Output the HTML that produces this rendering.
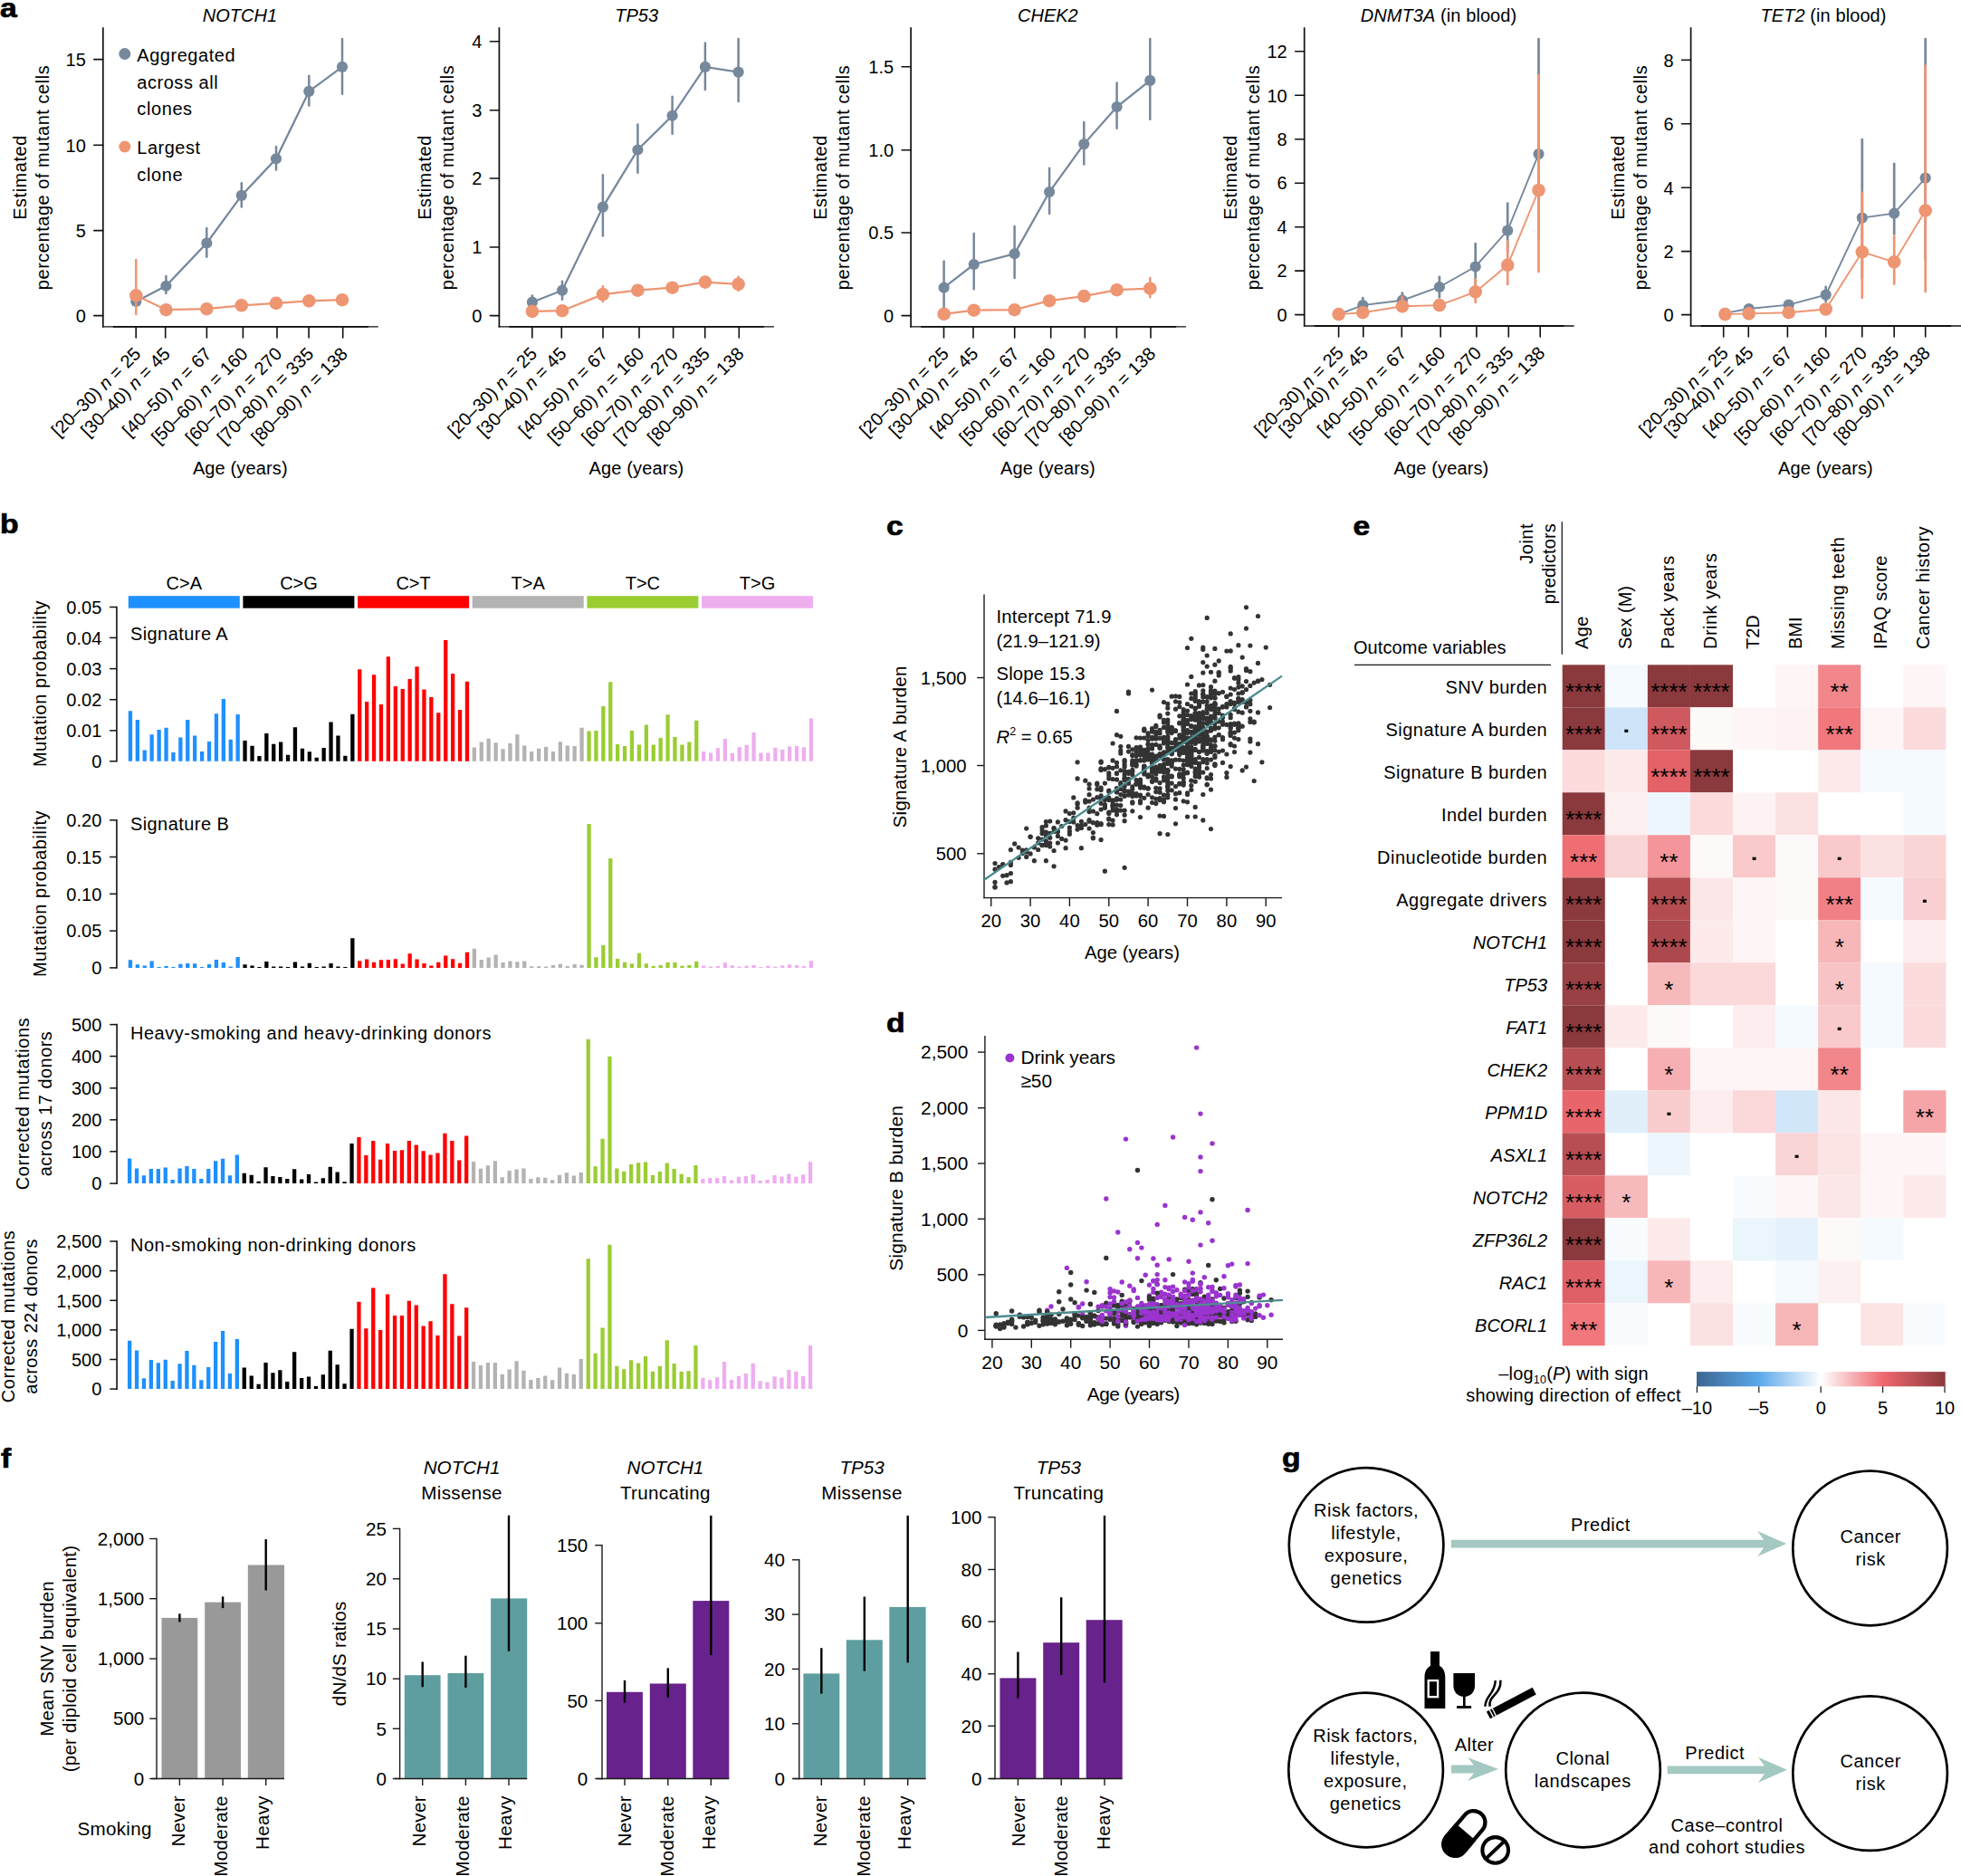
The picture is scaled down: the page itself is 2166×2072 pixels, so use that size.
<!DOCTYPE html>
<html><head><meta charset="utf-8"><title>Figure</title><style>html,body{margin:0;padding:0;background:#fff}svg{display:block}.p{fill:#9b34cf}</style></head><body>
<svg width="2166" height="2072" viewBox="0 0 2166 2072" font-family="'Liberation Sans', sans-serif" font-size="20" fill="#000">
<text transform="translate(0.0 18.5) scale(1.16 1)" font-size="29" font-weight="bold" stroke="#000" stroke-width="0.7">a</text>
<text x="264.9" y="24.2" text-anchor="middle" ><tspan font-style="italic">NOTCH1</tspan></text>
<line x1="113.8" y1="30.3" x2="113.8" y2="361.6" stroke="#111" stroke-width="1.7" />
<line x1="113.0" y1="360.9" x2="417.8" y2="360.9" stroke="#111" stroke-width="1.3" />
<line x1="124.8" y1="360.9" x2="406.8" y2="360.9" stroke="#111" stroke-width="1.9" />
<line x1="103.8" y1="65.6" x2="113.8" y2="65.6" stroke="#111" stroke-width="1.6" stroke-linecap="round"/>
<text x="94.8" y="72.8" text-anchor="end" >15</text>
<line x1="103.8" y1="160.3" x2="113.8" y2="160.3" stroke="#111" stroke-width="1.6" stroke-linecap="round"/>
<text x="94.8" y="167.5" text-anchor="end" >10</text>
<line x1="103.8" y1="254.6" x2="113.8" y2="254.6" stroke="#111" stroke-width="1.6" stroke-linecap="round"/>
<text x="94.8" y="261.8" text-anchor="end" >5</text>
<line x1="103.8" y1="348.6" x2="113.8" y2="348.6" stroke="#111" stroke-width="1.6" stroke-linecap="round"/>
<text x="94.8" y="355.8" text-anchor="end" >0</text>
<line x1="150.2" y1="361.4" x2="150.2" y2="372.9" stroke="#111" stroke-width="1.6" stroke-linecap="round"/>
<text x="156.7" y="392.0" text-anchor="end" transform="rotate(-45 156.7 392.0)" >[20–30) <tspan font-style="italic">n</tspan> = 25</text>
<line x1="182.7" y1="361.4" x2="182.7" y2="372.9" stroke="#111" stroke-width="1.6" stroke-linecap="round"/>
<text x="189.2" y="392.0" text-anchor="end" transform="rotate(-45 189.2 392.0)" >[30–40) <tspan font-style="italic">n</tspan> = 45</text>
<line x1="228.4" y1="361.4" x2="228.4" y2="372.9" stroke="#111" stroke-width="1.6" stroke-linecap="round"/>
<text x="234.9" y="392.0" text-anchor="end" transform="rotate(-45 234.9 392.0)" >[40–50) <tspan font-style="italic">n</tspan> = 67</text>
<line x1="268.4" y1="361.4" x2="268.4" y2="372.9" stroke="#111" stroke-width="1.6" stroke-linecap="round"/>
<text x="274.9" y="392.0" text-anchor="end" transform="rotate(-45 274.9 392.0)" >[50–60) <tspan font-style="italic">n</tspan> = 160</text>
<line x1="306.0" y1="361.4" x2="306.0" y2="372.9" stroke="#111" stroke-width="1.6" stroke-linecap="round"/>
<text x="312.5" y="392.0" text-anchor="end" transform="rotate(-45 312.5 392.0)" >[60–70) <tspan font-style="italic">n</tspan> = 270</text>
<line x1="341.1" y1="361.4" x2="341.1" y2="372.9" stroke="#111" stroke-width="1.6" stroke-linecap="round"/>
<text x="347.6" y="392.0" text-anchor="end" transform="rotate(-45 347.6 392.0)" >[70–80) <tspan font-style="italic">n</tspan> = 335</text>
<line x1="378.7" y1="361.4" x2="378.7" y2="372.9" stroke="#111" stroke-width="1.6" stroke-linecap="round"/>
<text x="385.2" y="392.0" text-anchor="end" transform="rotate(-45 385.2 392.0)" >[80–90) <tspan font-style="italic">n</tspan> = 138</text>
<text x="265.3" y="523.5" text-anchor="middle"  letter-spacing="0.13">Age (years)</text>
<text x="29.4" y="196.0" text-anchor="middle" transform="rotate(-90 29.4 196.0)"  letter-spacing="0.53">Estimated</text>
<text x="54.3" y="196.0" text-anchor="middle" transform="rotate(-90 54.3 196.0)"  letter-spacing="0.53">percentage of mutant cells</text>
<line x1="183.4" y1="305.0" x2="183.4" y2="324.0" stroke="#76889c" stroke-width="2.5" stroke-linecap="round"/>
<line x1="228.3" y1="251.9" x2="228.3" y2="283.7" stroke="#76889c" stroke-width="2.5" stroke-linecap="round"/>
<line x1="266.8" y1="202.2" x2="266.8" y2="228.6" stroke="#76889c" stroke-width="2.5" stroke-linecap="round"/>
<line x1="305.0" y1="162.0" x2="305.0" y2="187.5" stroke="#76889c" stroke-width="2.5" stroke-linecap="round"/>
<line x1="341.3" y1="83.7" x2="341.3" y2="116.5" stroke="#76889c" stroke-width="2.5" stroke-linecap="round"/>
<line x1="378.0" y1="43.1" x2="378.0" y2="103.8" stroke="#76889c" stroke-width="2.5" stroke-linecap="round"/>
<polyline fill="none" stroke="#76889c" stroke-width="2.3" points="150.3,332.9 183.4,315.8 228.3,268.5 266.8,215.9 305.0,175.3 341.3,100.9 378.0,73.9"/>
<circle cx="150.3" cy="332.9" r="6.1" fill="#76889c"/>
<circle cx="183.4" cy="315.8" r="6.1" fill="#76889c"/>
<circle cx="228.3" cy="268.5" r="6.1" fill="#76889c"/>
<circle cx="266.8" cy="215.9" r="6.1" fill="#76889c"/>
<circle cx="305.0" cy="175.3" r="6.1" fill="#76889c"/>
<circle cx="341.3" cy="100.9" r="6.1" fill="#76889c"/>
<circle cx="378.0" cy="73.9" r="6.1" fill="#76889c"/>
<line x1="150.3" y1="286.9" x2="150.3" y2="347.1" stroke="#ee9572" stroke-width="2.5" stroke-linecap="round"/>
<polyline fill="none" stroke="#ee9572" stroke-width="2.3" points="150.3,326.3 183.4,342.2 228.3,341.2 266.8,337.3 305.0,334.9 341.3,332.4 378.0,331.2"/>
<circle cx="150.3" cy="326.3" r="7.3" fill="#ee9572"/>
<circle cx="183.4" cy="342.2" r="7.3" fill="#ee9572"/>
<circle cx="228.3" cy="341.2" r="7.3" fill="#ee9572"/>
<circle cx="266.8" cy="337.3" r="7.3" fill="#ee9572"/>
<circle cx="305.0" cy="334.9" r="7.3" fill="#ee9572"/>
<circle cx="341.3" cy="332.4" r="7.3" fill="#ee9572"/>
<circle cx="378.0" cy="331.2" r="7.3" fill="#ee9572"/>
<text x="703.2" y="24.2" text-anchor="middle" ><tspan font-style="italic">TP53</tspan></text>
<line x1="551.4" y1="30.3" x2="551.4" y2="361.6" stroke="#111" stroke-width="1.7" />
<line x1="550.5" y1="360.9" x2="854.9" y2="360.9" stroke="#111" stroke-width="1.3" />
<line x1="562.4" y1="360.9" x2="843.9" y2="360.9" stroke="#111" stroke-width="1.9" />
<line x1="541.4" y1="45.8" x2="551.4" y2="45.8" stroke="#111" stroke-width="1.6" stroke-linecap="round"/>
<text x="532.4" y="53.0" text-anchor="end" >4</text>
<line x1="541.4" y1="121.7" x2="551.4" y2="121.7" stroke="#111" stroke-width="1.6" stroke-linecap="round"/>
<text x="532.4" y="128.9" text-anchor="end" >3</text>
<line x1="541.4" y1="197.0" x2="551.4" y2="197.0" stroke="#111" stroke-width="1.6" stroke-linecap="round"/>
<text x="532.4" y="204.2" text-anchor="end" >2</text>
<line x1="541.4" y1="273.0" x2="551.4" y2="273.0" stroke="#111" stroke-width="1.6" stroke-linecap="round"/>
<text x="532.4" y="280.2" text-anchor="end" >1</text>
<line x1="541.4" y1="348.6" x2="551.4" y2="348.6" stroke="#111" stroke-width="1.6" stroke-linecap="round"/>
<text x="532.4" y="355.8" text-anchor="end" >0</text>
<line x1="587.8" y1="361.4" x2="587.8" y2="372.9" stroke="#111" stroke-width="1.6" stroke-linecap="round"/>
<text x="594.3" y="392.0" text-anchor="end" transform="rotate(-45 594.3 392.0)" >[20–30) <tspan font-style="italic">n</tspan> = 25</text>
<line x1="620.3" y1="361.4" x2="620.3" y2="372.9" stroke="#111" stroke-width="1.6" stroke-linecap="round"/>
<text x="626.8" y="392.0" text-anchor="end" transform="rotate(-45 626.8 392.0)" >[30–40) <tspan font-style="italic">n</tspan> = 45</text>
<line x1="666.0" y1="361.4" x2="666.0" y2="372.9" stroke="#111" stroke-width="1.6" stroke-linecap="round"/>
<text x="672.5" y="392.0" text-anchor="end" transform="rotate(-45 672.5 392.0)" >[40–50) <tspan font-style="italic">n</tspan> = 67</text>
<line x1="706.0" y1="361.4" x2="706.0" y2="372.9" stroke="#111" stroke-width="1.6" stroke-linecap="round"/>
<text x="712.5" y="392.0" text-anchor="end" transform="rotate(-45 712.5 392.0)" >[50–60) <tspan font-style="italic">n</tspan> = 160</text>
<line x1="743.6" y1="361.4" x2="743.6" y2="372.9" stroke="#111" stroke-width="1.6" stroke-linecap="round"/>
<text x="750.1" y="392.0" text-anchor="end" transform="rotate(-45 750.1 392.0)" >[60–70) <tspan font-style="italic">n</tspan> = 270</text>
<line x1="778.7" y1="361.4" x2="778.7" y2="372.9" stroke="#111" stroke-width="1.6" stroke-linecap="round"/>
<text x="785.2" y="392.0" text-anchor="end" transform="rotate(-45 785.2 392.0)" >[70–80) <tspan font-style="italic">n</tspan> = 335</text>
<line x1="816.3" y1="361.4" x2="816.3" y2="372.9" stroke="#111" stroke-width="1.6" stroke-linecap="round"/>
<text x="822.8" y="392.0" text-anchor="end" transform="rotate(-45 822.8 392.0)" >[80–90) <tspan font-style="italic">n</tspan> = 138</text>
<text x="703.0" y="523.5" text-anchor="middle"  letter-spacing="0.13">Age (years)</text>
<text x="476.2" y="196.0" text-anchor="middle" transform="rotate(-90 476.2 196.0)"  letter-spacing="0.53">Estimated</text>
<text x="501.2" y="196.0" text-anchor="middle" transform="rotate(-90 501.2 196.0)"  letter-spacing="0.53">percentage of mutant cells</text>
<line x1="587.9" y1="326.6" x2="587.9" y2="339.0" stroke="#76889c" stroke-width="2.5" stroke-linecap="round"/>
<line x1="621.0" y1="310.7" x2="621.0" y2="330.7" stroke="#76889c" stroke-width="2.5" stroke-linecap="round"/>
<line x1="665.9" y1="193.2" x2="665.9" y2="260.4" stroke="#76889c" stroke-width="2.5" stroke-linecap="round"/>
<line x1="704.4" y1="137.4" x2="704.4" y2="190.7" stroke="#76889c" stroke-width="2.5" stroke-linecap="round"/>
<line x1="742.6" y1="106.8" x2="742.6" y2="147.8" stroke="#76889c" stroke-width="2.5" stroke-linecap="round"/>
<line x1="778.9" y1="47.5" x2="778.9" y2="98.9" stroke="#76889c" stroke-width="2.5" stroke-linecap="round"/>
<line x1="815.6" y1="43.1" x2="815.6" y2="112.1" stroke="#76889c" stroke-width="2.5" stroke-linecap="round"/>
<polyline fill="none" stroke="#76889c" stroke-width="2.3" points="587.9,333.7 621.0,320.7 665.9,228.6 704.4,165.5 742.6,127.8 778.9,73.9 815.6,79.6"/>
<circle cx="587.9" cy="333.7" r="6.1" fill="#76889c"/>
<circle cx="621.0" cy="320.7" r="6.1" fill="#76889c"/>
<circle cx="665.9" cy="228.6" r="6.1" fill="#76889c"/>
<circle cx="704.4" cy="165.5" r="6.1" fill="#76889c"/>
<circle cx="742.6" cy="127.8" r="6.1" fill="#76889c"/>
<circle cx="778.9" cy="73.9" r="6.1" fill="#76889c"/>
<circle cx="815.6" cy="79.6" r="6.1" fill="#76889c"/>
<line x1="665.9" y1="316.3" x2="665.9" y2="333.1" stroke="#ee9572" stroke-width="2.5" stroke-linecap="round"/>
<line x1="815.6" y1="305.8" x2="815.6" y2="320.9" stroke="#ee9572" stroke-width="2.5" stroke-linecap="round"/>
<polyline fill="none" stroke="#ee9572" stroke-width="2.3" points="587.9,343.9 621.0,343.2 665.9,325.1 704.4,320.7 742.6,317.7 778.9,311.6 815.6,313.8"/>
<circle cx="587.9" cy="343.9" r="7.3" fill="#ee9572"/>
<circle cx="621.0" cy="343.2" r="7.3" fill="#ee9572"/>
<circle cx="665.9" cy="325.1" r="7.3" fill="#ee9572"/>
<circle cx="704.4" cy="320.7" r="7.3" fill="#ee9572"/>
<circle cx="742.6" cy="317.7" r="7.3" fill="#ee9572"/>
<circle cx="778.9" cy="311.6" r="7.3" fill="#ee9572"/>
<circle cx="815.6" cy="313.8" r="7.3" fill="#ee9572"/>
<text x="1157.4" y="24.2" text-anchor="middle" ><tspan font-style="italic">CHEK2</tspan></text>
<line x1="1006.1" y1="30.3" x2="1006.1" y2="361.6" stroke="#111" stroke-width="1.7" />
<line x1="1005.2" y1="360.9" x2="1310.1" y2="360.9" stroke="#111" stroke-width="1.3" />
<line x1="1017.1" y1="360.9" x2="1299.1" y2="360.9" stroke="#111" stroke-width="1.9" />
<line x1="996.1" y1="73.7" x2="1006.1" y2="73.7" stroke="#111" stroke-width="1.6" stroke-linecap="round"/>
<text x="987.1" y="80.9" text-anchor="end" >1.5</text>
<line x1="996.1" y1="165.7" x2="1006.1" y2="165.7" stroke="#111" stroke-width="1.6" stroke-linecap="round"/>
<text x="987.1" y="172.9" text-anchor="end" >1.0</text>
<line x1="996.1" y1="257.0" x2="1006.1" y2="257.0" stroke="#111" stroke-width="1.6" stroke-linecap="round"/>
<text x="987.1" y="264.2" text-anchor="end" >0.5</text>
<line x1="996.1" y1="348.6" x2="1006.1" y2="348.6" stroke="#111" stroke-width="1.6" stroke-linecap="round"/>
<text x="987.1" y="355.8" text-anchor="end" >0</text>
<line x1="1042.5" y1="361.4" x2="1042.5" y2="372.9" stroke="#111" stroke-width="1.6" stroke-linecap="round"/>
<text x="1049.0" y="392.0" text-anchor="end" transform="rotate(-45 1049.0 392.0)" >[20–30) <tspan font-style="italic">n</tspan> = 25</text>
<line x1="1075.0" y1="361.4" x2="1075.0" y2="372.9" stroke="#111" stroke-width="1.6" stroke-linecap="round"/>
<text x="1081.5" y="392.0" text-anchor="end" transform="rotate(-45 1081.5 392.0)" >[30–40) <tspan font-style="italic">n</tspan> = 45</text>
<line x1="1120.7" y1="361.4" x2="1120.7" y2="372.9" stroke="#111" stroke-width="1.6" stroke-linecap="round"/>
<text x="1127.2" y="392.0" text-anchor="end" transform="rotate(-45 1127.2 392.0)" >[40–50) <tspan font-style="italic">n</tspan> = 67</text>
<line x1="1160.7" y1="361.4" x2="1160.7" y2="372.9" stroke="#111" stroke-width="1.6" stroke-linecap="round"/>
<text x="1167.2" y="392.0" text-anchor="end" transform="rotate(-45 1167.2 392.0)" >[50–60) <tspan font-style="italic">n</tspan> = 160</text>
<line x1="1198.3" y1="361.4" x2="1198.3" y2="372.9" stroke="#111" stroke-width="1.6" stroke-linecap="round"/>
<text x="1204.8" y="392.0" text-anchor="end" transform="rotate(-45 1204.8 392.0)" >[60–70) <tspan font-style="italic">n</tspan> = 270</text>
<line x1="1233.4" y1="361.4" x2="1233.4" y2="372.9" stroke="#111" stroke-width="1.6" stroke-linecap="round"/>
<text x="1239.9" y="392.0" text-anchor="end" transform="rotate(-45 1239.9 392.0)" >[70–80) <tspan font-style="italic">n</tspan> = 335</text>
<line x1="1271.0" y1="361.4" x2="1271.0" y2="372.9" stroke="#111" stroke-width="1.6" stroke-linecap="round"/>
<text x="1277.5" y="392.0" text-anchor="end" transform="rotate(-45 1277.5 392.0)" >[80–90) <tspan font-style="italic">n</tspan> = 138</text>
<text x="1157.5" y="523.5" text-anchor="middle"  letter-spacing="0.13">Age (years)</text>
<text x="913.0" y="196.0" text-anchor="middle" transform="rotate(-90 913.0 196.0)"  letter-spacing="0.53">Estimated</text>
<text x="938.3" y="196.0" text-anchor="middle" transform="rotate(-90 938.3 196.0)"  letter-spacing="0.53">percentage of mutant cells</text>
<line x1="1042.6" y1="288.6" x2="1042.6" y2="341.7" stroke="#76889c" stroke-width="2.5" stroke-linecap="round"/>
<line x1="1075.7" y1="258.0" x2="1075.7" y2="319.2" stroke="#76889c" stroke-width="2.5" stroke-linecap="round"/>
<line x1="1120.6" y1="250.0" x2="1120.6" y2="307.0" stroke="#76889c" stroke-width="2.5" stroke-linecap="round"/>
<line x1="1159.1" y1="185.8" x2="1159.1" y2="236.0" stroke="#76889c" stroke-width="2.5" stroke-linecap="round"/>
<line x1="1197.3" y1="135.1" x2="1197.3" y2="181.4" stroke="#76889c" stroke-width="2.5" stroke-linecap="round"/>
<line x1="1233.6" y1="91.6" x2="1233.6" y2="141.7" stroke="#76889c" stroke-width="2.5" stroke-linecap="round"/>
<line x1="1270.3" y1="43.1" x2="1270.3" y2="131.7" stroke="#76889c" stroke-width="2.5" stroke-linecap="round"/>
<polyline fill="none" stroke="#76889c" stroke-width="2.3" points="1042.6,317.7 1075.7,292.0 1120.6,280.3 1159.1,212.0 1197.3,159.1 1233.6,118.0 1270.3,88.9"/>
<circle cx="1042.6" cy="317.7" r="6.1" fill="#76889c"/>
<circle cx="1075.7" cy="292.0" r="6.1" fill="#76889c"/>
<circle cx="1120.6" cy="280.3" r="6.1" fill="#76889c"/>
<circle cx="1159.1" cy="212.0" r="6.1" fill="#76889c"/>
<circle cx="1197.3" cy="159.1" r="6.1" fill="#76889c"/>
<circle cx="1233.6" cy="118.0" r="6.1" fill="#76889c"/>
<circle cx="1270.3" cy="88.9" r="6.1" fill="#76889c"/>
<line x1="1270.3" y1="307.0" x2="1270.3" y2="328.3" stroke="#ee9572" stroke-width="2.5" stroke-linecap="round"/>
<polyline fill="none" stroke="#ee9572" stroke-width="2.3" points="1042.6,346.9 1075.7,342.7 1120.6,342.2 1159.1,332.2 1197.3,327.1 1233.6,320.2 1270.3,318.7"/>
<circle cx="1042.6" cy="346.9" r="7.3" fill="#ee9572"/>
<circle cx="1075.7" cy="342.7" r="7.3" fill="#ee9572"/>
<circle cx="1120.6" cy="342.2" r="7.3" fill="#ee9572"/>
<circle cx="1159.1" cy="332.2" r="7.3" fill="#ee9572"/>
<circle cx="1197.3" cy="327.1" r="7.3" fill="#ee9572"/>
<circle cx="1233.6" cy="320.2" r="7.3" fill="#ee9572"/>
<circle cx="1270.3" cy="318.7" r="7.3" fill="#ee9572"/>
<text x="1589.0" y="24.2" text-anchor="middle"  letter-spacing="0.08"><tspan font-style="italic">DNMT3A</tspan> (in blood)</text>
<line x1="1440.7" y1="30.3" x2="1440.7" y2="360.7" stroke="#111" stroke-width="1.7" />
<line x1="1439.9" y1="360.0" x2="1738.6" y2="360.0" stroke="#111" stroke-width="1.3" />
<line x1="1451.7" y1="360.0" x2="1727.6" y2="360.0" stroke="#111" stroke-width="1.9" />
<line x1="1430.7" y1="56.8" x2="1440.7" y2="56.8" stroke="#111" stroke-width="1.6" stroke-linecap="round"/>
<text x="1421.7" y="64.0" text-anchor="end" >12</text>
<line x1="1430.7" y1="105.3" x2="1440.7" y2="105.3" stroke="#111" stroke-width="1.6" stroke-linecap="round"/>
<text x="1421.7" y="112.5" text-anchor="end" >10</text>
<line x1="1430.7" y1="153.7" x2="1440.7" y2="153.7" stroke="#111" stroke-width="1.6" stroke-linecap="round"/>
<text x="1421.7" y="160.9" text-anchor="end" >8</text>
<line x1="1430.7" y1="202.2" x2="1440.7" y2="202.2" stroke="#111" stroke-width="1.6" stroke-linecap="round"/>
<text x="1421.7" y="209.4" text-anchor="end" >6</text>
<line x1="1430.7" y1="250.7" x2="1440.7" y2="250.7" stroke="#111" stroke-width="1.6" stroke-linecap="round"/>
<text x="1421.7" y="257.9" text-anchor="end" >4</text>
<line x1="1430.7" y1="299.1" x2="1440.7" y2="299.1" stroke="#111" stroke-width="1.6" stroke-linecap="round"/>
<text x="1421.7" y="306.3" text-anchor="end" >2</text>
<line x1="1430.7" y1="347.6" x2="1440.7" y2="347.6" stroke="#111" stroke-width="1.6" stroke-linecap="round"/>
<text x="1421.7" y="354.8" text-anchor="end" >0</text>
<line x1="1478.6" y1="360.5" x2="1478.6" y2="372.0" stroke="#111" stroke-width="1.6" stroke-linecap="round"/>
<text x="1485.1" y="391.1" text-anchor="end" transform="rotate(-45 1485.1 391.1)" >[20–30) <tspan font-style="italic">n</tspan> = 25</text>
<line x1="1505.8" y1="360.5" x2="1505.8" y2="372.0" stroke="#111" stroke-width="1.6" stroke-linecap="round"/>
<text x="1512.3" y="391.1" text-anchor="end" transform="rotate(-45 1512.3 391.1)" >[30–40) <tspan font-style="italic">n</tspan> = 45</text>
<line x1="1548.3" y1="360.5" x2="1548.3" y2="372.0" stroke="#111" stroke-width="1.6" stroke-linecap="round"/>
<text x="1554.8" y="391.1" text-anchor="end" transform="rotate(-45 1554.8 391.1)" >[40–50) <tspan font-style="italic">n</tspan> = 67</text>
<line x1="1591.2" y1="360.5" x2="1591.2" y2="372.0" stroke="#111" stroke-width="1.6" stroke-linecap="round"/>
<text x="1597.7" y="391.1" text-anchor="end" transform="rotate(-45 1597.7 391.1)" >[50–60) <tspan font-style="italic">n</tspan> = 160</text>
<line x1="1630.9" y1="360.5" x2="1630.9" y2="372.0" stroke="#111" stroke-width="1.6" stroke-linecap="round"/>
<text x="1637.4" y="391.1" text-anchor="end" transform="rotate(-45 1637.4 391.1)" >[60–70) <tspan font-style="italic">n</tspan> = 270</text>
<line x1="1666.3" y1="360.5" x2="1666.3" y2="372.0" stroke="#111" stroke-width="1.6" stroke-linecap="round"/>
<text x="1672.8" y="391.1" text-anchor="end" transform="rotate(-45 1672.8 391.1)" >[70–80) <tspan font-style="italic">n</tspan> = 335</text>
<line x1="1701.2" y1="360.5" x2="1701.2" y2="372.0" stroke="#111" stroke-width="1.6" stroke-linecap="round"/>
<text x="1707.7" y="391.1" text-anchor="end" transform="rotate(-45 1707.7 391.1)" >[80–90) <tspan font-style="italic">n</tspan> = 138</text>
<text x="1592.0" y="523.5" text-anchor="middle"  letter-spacing="0.13">Age (years)</text>
<text x="1366.0" y="196.0" text-anchor="middle" transform="rotate(-90 1366.0 196.0)"  letter-spacing="0.53">Estimated</text>
<text x="1391.0" y="196.0" text-anchor="middle" transform="rotate(-90 1391.0 196.0)"  letter-spacing="0.53">percentage of mutant cells</text>
<line x1="1505.3" y1="329.0" x2="1505.3" y2="341.7" stroke="#76889c" stroke-width="2.7" stroke-linecap="round"/>
<line x1="1548.9" y1="323.6" x2="1548.9" y2="336.8" stroke="#76889c" stroke-width="2.7" stroke-linecap="round"/>
<line x1="1589.9" y1="305.8" x2="1589.9" y2="328.3" stroke="#76889c" stroke-width="2.7" stroke-linecap="round"/>
<line x1="1629.7" y1="269.0" x2="1629.7" y2="314.8" stroke="#76889c" stroke-width="2.7" stroke-linecap="round"/>
<line x1="1665.2" y1="224.5" x2="1665.2" y2="278.0" stroke="#76889c" stroke-width="2.7" stroke-linecap="round"/>
<line x1="1699.5" y1="43.1" x2="1699.5" y2="263.4" stroke="#76889c" stroke-width="2.7" stroke-linecap="round"/>
<polyline fill="none" stroke="#76889c" stroke-width="1.9" points="1478.6,347.1 1505.3,337.1 1548.9,331.7 1589.9,317.0 1629.7,294.5 1665.2,254.6 1699.5,170.1"/>
<circle cx="1478.6" cy="347.1" r="6.1" fill="#76889c"/>
<circle cx="1505.3" cy="337.1" r="6.1" fill="#76889c"/>
<circle cx="1548.9" cy="331.7" r="6.1" fill="#76889c"/>
<circle cx="1589.9" cy="317.0" r="6.1" fill="#76889c"/>
<circle cx="1629.7" cy="294.5" r="6.1" fill="#76889c"/>
<circle cx="1665.2" cy="254.6" r="6.1" fill="#76889c"/>
<circle cx="1699.5" cy="170.1" r="6.1" fill="#76889c"/>
<line x1="1548.9" y1="327.8" x2="1548.9" y2="344.2" stroke="#ee9572" stroke-width="2.7" stroke-linecap="round"/>
<line x1="1629.7" y1="308.2" x2="1629.7" y2="333.9" stroke="#ee9572" stroke-width="2.7" stroke-linecap="round"/>
<line x1="1665.2" y1="266.6" x2="1665.2" y2="314.0" stroke="#ee9572" stroke-width="2.7" stroke-linecap="round"/>
<line x1="1699.5" y1="83.0" x2="1699.5" y2="300.1" stroke="#ee9572" stroke-width="2.7" stroke-linecap="round"/>
<polyline fill="none" stroke="#ee9572" stroke-width="1.9" points="1478.6,347.1 1505.3,345.2 1548.9,338.3 1589.9,337.1 1629.7,322.4 1665.2,292.8 1699.5,210.0"/>
<circle cx="1478.6" cy="347.1" r="7.3" fill="#ee9572"/>
<circle cx="1505.3" cy="345.2" r="7.3" fill="#ee9572"/>
<circle cx="1548.9" cy="338.3" r="7.3" fill="#ee9572"/>
<circle cx="1589.9" cy="337.1" r="7.3" fill="#ee9572"/>
<circle cx="1629.7" cy="322.4" r="7.3" fill="#ee9572"/>
<circle cx="1665.2" cy="292.8" r="7.3" fill="#ee9572"/>
<circle cx="1699.5" cy="210.0" r="7.3" fill="#ee9572"/>
<text x="2014.0" y="24.2" text-anchor="middle"  letter-spacing="0.09"><tspan font-style="italic">TET2</tspan> (in blood)</text>
<line x1="1867.6" y1="30.3" x2="1867.6" y2="360.7" stroke="#111" stroke-width="1.7" />
<line x1="1866.8" y1="360.0" x2="2166.0" y2="360.0" stroke="#111" stroke-width="1.3" />
<line x1="1878.6" y1="360.0" x2="2155.0" y2="360.0" stroke="#111" stroke-width="1.9" />
<line x1="1857.6" y1="66.3" x2="1867.6" y2="66.3" stroke="#111" stroke-width="1.6" stroke-linecap="round"/>
<text x="1848.6" y="73.5" text-anchor="end" >8</text>
<line x1="1857.6" y1="136.8" x2="1867.6" y2="136.8" stroke="#111" stroke-width="1.6" stroke-linecap="round"/>
<text x="1848.6" y="144.0" text-anchor="end" >6</text>
<line x1="1857.6" y1="207.3" x2="1867.6" y2="207.3" stroke="#111" stroke-width="1.6" stroke-linecap="round"/>
<text x="1848.6" y="214.5" text-anchor="end" >4</text>
<line x1="1857.6" y1="277.6" x2="1867.6" y2="277.6" stroke="#111" stroke-width="1.6" stroke-linecap="round"/>
<text x="1848.6" y="284.8" text-anchor="end" >2</text>
<line x1="1857.6" y1="347.6" x2="1867.6" y2="347.6" stroke="#111" stroke-width="1.6" stroke-linecap="round"/>
<text x="1848.6" y="354.8" text-anchor="end" >0</text>
<line x1="1903.7" y1="360.5" x2="1903.7" y2="372.0" stroke="#111" stroke-width="1.6" stroke-linecap="round"/>
<text x="1910.2" y="391.1" text-anchor="end" transform="rotate(-45 1910.2 391.1)" >[20–30) <tspan font-style="italic">n</tspan> = 25</text>
<line x1="1931.3" y1="360.5" x2="1931.3" y2="372.0" stroke="#111" stroke-width="1.6" stroke-linecap="round"/>
<text x="1937.8" y="391.1" text-anchor="end" transform="rotate(-45 1937.8 391.1)" >[30–40) <tspan font-style="italic">n</tspan> = 45</text>
<line x1="1974.4" y1="360.5" x2="1974.4" y2="372.0" stroke="#111" stroke-width="1.6" stroke-linecap="round"/>
<text x="1980.9" y="391.1" text-anchor="end" transform="rotate(-45 1980.9 391.1)" >[40–50) <tspan font-style="italic">n</tspan> = 67</text>
<line x1="2016.7" y1="360.5" x2="2016.7" y2="372.0" stroke="#111" stroke-width="1.6" stroke-linecap="round"/>
<text x="2023.2" y="391.1" text-anchor="end" transform="rotate(-45 2023.2 391.1)" >[50–60) <tspan font-style="italic">n</tspan> = 160</text>
<line x1="2056.8" y1="360.5" x2="2056.8" y2="372.0" stroke="#111" stroke-width="1.6" stroke-linecap="round"/>
<text x="2063.3" y="391.1" text-anchor="end" transform="rotate(-45 2063.3 391.1)" >[60–70) <tspan font-style="italic">n</tspan> = 270</text>
<line x1="2092.2" y1="360.5" x2="2092.2" y2="372.0" stroke="#111" stroke-width="1.6" stroke-linecap="round"/>
<text x="2098.7" y="391.1" text-anchor="end" transform="rotate(-45 2098.7 391.1)" >[70–80) <tspan font-style="italic">n</tspan> = 335</text>
<line x1="2126.7" y1="360.5" x2="2126.7" y2="372.0" stroke="#111" stroke-width="1.6" stroke-linecap="round"/>
<text x="2133.2" y="391.1" text-anchor="end" transform="rotate(-45 2133.2 391.1)" >[80–90) <tspan font-style="italic">n</tspan> = 138</text>
<text x="2016.5" y="523.5" text-anchor="middle"  letter-spacing="0.13">Age (years)</text>
<text x="1793.7" y="196.0" text-anchor="middle" transform="rotate(-90 1793.7 196.0)"  letter-spacing="0.53">Estimated</text>
<text x="1818.9" y="196.0" text-anchor="middle" transform="rotate(-90 1818.9 196.0)"  letter-spacing="0.53">percentage of mutant cells</text>
<line x1="2016.7" y1="316.8" x2="2016.7" y2="333.1" stroke="#76889c" stroke-width="2.7" stroke-linecap="round"/>
<line x1="2056.8" y1="154.0" x2="2056.8" y2="307.4" stroke="#76889c" stroke-width="2.7" stroke-linecap="round"/>
<line x1="2092.2" y1="180.9" x2="2092.2" y2="258.5" stroke="#76889c" stroke-width="2.7" stroke-linecap="round"/>
<line x1="2126.7" y1="43.1" x2="2126.7" y2="286.6" stroke="#76889c" stroke-width="2.7" stroke-linecap="round"/>
<polyline fill="none" stroke="#76889c" stroke-width="1.9" points="1905.4,345.9 1931.7,341.0 1975.7,336.6 2016.7,325.6 2056.8,240.6 2092.2,235.7 2126.7,196.6"/>
<circle cx="1905.4" cy="345.9" r="6.1" fill="#76889c"/>
<circle cx="1931.7" cy="341.0" r="6.1" fill="#76889c"/>
<circle cx="1975.7" cy="336.6" r="6.1" fill="#76889c"/>
<circle cx="2016.7" cy="325.6" r="6.1" fill="#76889c"/>
<circle cx="2056.8" cy="240.6" r="6.1" fill="#76889c"/>
<circle cx="2092.2" cy="235.7" r="6.1" fill="#76889c"/>
<circle cx="2126.7" cy="196.6" r="6.1" fill="#76889c"/>
<line x1="2056.8" y1="212.8" x2="2056.8" y2="329.0" stroke="#ee9572" stroke-width="2.7" stroke-linecap="round"/>
<line x1="2092.2" y1="260.5" x2="2092.2" y2="313.6" stroke="#ee9572" stroke-width="2.7" stroke-linecap="round"/>
<line x1="2126.7" y1="72.5" x2="2126.7" y2="322.1" stroke="#ee9572" stroke-width="2.7" stroke-linecap="round"/>
<polyline fill="none" stroke="#ee9572" stroke-width="1.9" points="1905.4,347.1 1931.7,346.4 1975.7,345.2 2016.7,341.5 2056.8,278.3 2092.2,289.4 2126.7,232.6"/>
<circle cx="1905.4" cy="347.1" r="7.3" fill="#ee9572"/>
<circle cx="1931.7" cy="346.4" r="7.3" fill="#ee9572"/>
<circle cx="1975.7" cy="345.2" r="7.3" fill="#ee9572"/>
<circle cx="2016.7" cy="341.5" r="7.3" fill="#ee9572"/>
<circle cx="2056.8" cy="278.3" r="7.3" fill="#ee9572"/>
<circle cx="2092.2" cy="289.4" r="7.3" fill="#ee9572"/>
<circle cx="2126.7" cy="232.6" r="7.3" fill="#ee9572"/>
<circle cx="137.8" cy="59.5" r="6.5" fill="#76889c"/>
<text x="151.3" y="68.3"  letter-spacing="0.54">Aggregated</text>
<text x="151.3" y="97.6"  letter-spacing="0.54">across all</text>
<text x="151.3" y="127.1"  letter-spacing="0.6">clones</text>
<circle cx="137.8" cy="162" r="6.5" fill="#ee9572"/>
<text x="151.3" y="170.4"  letter-spacing="0.51">Largest</text>
<text x="151.3" y="199.8"  letter-spacing="0.6">clone</text>
<text transform="translate(0.0 589.0) scale(1.16 1)" font-size="29" font-weight="bold" stroke="#000" stroke-width="0.7">b</text>
<rect x="141.8" y="658.2" width="123.0" height="13.5" fill="#1e90ff"/>
<text x="203.3" y="651.2" text-anchor="middle" >C&gt;A</text>
<rect x="268.4" y="658.2" width="123.0" height="13.5" fill="#000000"/>
<text x="330.0" y="651.2" text-anchor="middle" >C&gt;G</text>
<rect x="395.1" y="658.2" width="123.0" height="13.5" fill="#ff0000"/>
<text x="456.6" y="651.2" text-anchor="middle" >C&gt;T</text>
<rect x="521.7" y="658.2" width="123.0" height="13.5" fill="#b3b3b3"/>
<text x="583.2" y="651.2" text-anchor="middle" >T&gt;A</text>
<rect x="648.4" y="658.2" width="123.0" height="13.5" fill="#9acd32"/>
<text x="709.9" y="651.2" text-anchor="middle" >T&gt;C</text>
<rect x="775.0" y="658.2" width="123.0" height="13.5" fill="#eeaeee"/>
<text x="836.5" y="651.2" text-anchor="middle" >T&gt;G</text>
<path d="M141.8 840.8h4.3v-55.6h-4.3zM149.7 840.8h4.3v-45.9h-4.3zM157.6 840.8h4.3v-12.2h-4.3zM165.5 840.8h4.3v-29.6h-4.3zM173.5 840.8h4.3v-34.7h-4.3zM181.4 840.8h4.3v-37.0h-4.3zM189.3 840.8h4.3v-9.7h-4.3zM197.2 840.8h4.3v-26.3h-4.3zM205.1 840.8h4.3v-45.9h-4.3zM213.0 840.8h4.3v-28.3h-4.3zM221.0 840.8h4.3v-10.7h-4.3zM228.9 840.8h4.3v-21.9h-4.3zM236.8 840.8h4.3v-52.5h-4.3zM244.7 840.8h4.3v-68.8h-4.3zM252.6 840.8h4.3v-24.0h-4.3zM260.5 840.8h4.3v-51.8h-4.3z" fill="#1e90ff"/>
<path d="M268.4 840.8h4.3v-22.9h-4.3zM276.4 840.8h4.3v-17.1h-4.3zM284.3 840.8h4.3v-5.9h-4.3zM292.2 840.8h4.3v-30.9h-4.3zM300.1 840.8h4.3v-19.1h-4.3zM308.0 840.8h4.3v-21.4h-4.3zM315.9 840.8h4.3v-7.1h-4.3zM323.8 840.8h4.3v-37.5h-4.3zM331.8 840.8h4.3v-14.0h-4.3zM339.7 840.8h4.3v-10.5h-4.3zM347.6 840.8h4.3v-4.1h-4.3zM355.5 840.8h4.3v-14.8h-4.3zM363.4 840.8h4.3v-43.3h-4.3zM371.3 840.8h4.3v-28.3h-4.3zM379.2 840.8h4.3v-6.1h-4.3zM387.2 840.8h4.3v-52.0h-4.3z" fill="#000000"/>
<path d="M395.1 840.8h4.3v-101.5h-4.3zM403.0 840.8h4.3v-65.8h-4.3zM410.9 840.8h4.3v-95.6h-4.3zM418.8 840.8h4.3v-62.7h-4.3zM426.7 840.8h4.3v-115.5h-4.3zM434.7 840.8h4.3v-82.9h-4.3zM442.6 840.8h4.3v-79.8h-4.3zM450.5 840.8h4.3v-90.8h-4.3zM458.4 840.8h4.3v-104.5h-4.3zM466.3 840.8h4.3v-79.3h-4.3zM474.2 840.8h4.3v-70.9h-4.3zM482.1 840.8h4.3v-53.5h-4.3zM490.1 840.8h4.3v-133.9h-4.3zM498.0 840.8h4.3v-96.9h-4.3zM505.9 840.8h4.3v-56.9h-4.3zM513.8 840.8h4.3v-88.0h-4.3z" fill="#ff0000"/>
<path d="M521.7 840.8h4.3v-15.2h-4.3zM529.6 840.8h4.3v-21.2h-4.3zM537.5 840.8h4.3v-25.1h-4.3zM545.5 840.8h4.3v-20.6h-4.3zM553.4 840.8h4.3v-13.5h-4.3zM561.3 840.8h4.3v-19.9h-4.3zM569.2 840.8h4.3v-29.6h-4.3zM577.1 840.8h4.3v-17.3h-4.3zM585.0 840.8h4.3v-10.7h-4.3zM593.0 840.8h4.3v-14.1h-4.3zM600.9 840.8h4.3v-15.8h-4.3zM608.8 840.8h4.3v-10.9h-4.3zM616.7 840.8h4.3v-21.6h-4.3zM624.6 840.8h4.3v-17.3h-4.3zM632.5 840.8h4.3v-16.7h-4.3zM640.4 840.8h4.3v-37.1h-4.3z" fill="#b3b3b3"/>
<path d="M648.4 840.8h4.3v-33.4h-4.3zM656.3 840.8h4.3v-33.8h-4.3zM664.2 840.8h4.3v-60.8h-4.3zM672.1 840.8h4.3v-87.6h-4.3zM680.0 840.8h4.3v-18.8h-4.3zM687.9 840.8h4.3v-16.9h-4.3zM695.8 840.8h4.3v-33.8h-4.3zM703.8 840.8h4.3v-18.2h-4.3zM711.7 840.8h4.3v-40.3h-4.3zM719.6 840.8h4.3v-18.2h-4.3zM727.5 840.8h4.3v-25.7h-4.3zM735.4 840.8h4.3v-51.6h-4.3zM743.3 840.8h4.3v-26.8h-4.3zM751.3 840.8h4.3v-18.2h-4.3zM759.2 840.8h4.3v-21.2h-4.3zM767.1 840.8h4.3v-45.0h-4.3z" fill="#9acd32"/>
<path d="M775.0 840.8h4.3v-10.9h-4.3zM782.9 840.8h4.3v-9.4h-4.3zM790.8 840.8h4.3v-14.6h-4.3zM798.7 840.8h4.3v-24.8h-4.3zM806.7 840.8h4.3v-8.8h-4.3zM814.6 840.8h4.3v-15.6h-4.3zM822.5 840.8h4.3v-18.0h-4.3zM830.4 840.8h4.3v-31.7h-4.3zM838.3 840.8h4.3v-9.4h-4.3zM846.2 840.8h4.3v-9.2h-4.3zM854.2 840.8h4.3v-15.0h-4.3zM862.1 840.8h4.3v-12.9h-4.3zM870.0 840.8h4.3v-16.3h-4.3zM877.9 840.8h4.3v-16.7h-4.3zM885.8 840.8h4.3v-15.6h-4.3zM893.7 840.8h4.3v-47.3h-4.3z" fill="#eeaeee"/>
<line x1="128.9" y1="669.7" x2="128.9" y2="841.6" stroke="#111" stroke-width="1.6" />
<line x1="121.1" y1="670.5" x2="128.9" y2="670.5" stroke="#111" stroke-width="1.5" />
<text x="112.3" y="677.7" text-anchor="end" >0.05</text>
<line x1="121.1" y1="704.4" x2="128.9" y2="704.4" stroke="#111" stroke-width="1.5" />
<text x="112.3" y="711.6" text-anchor="end" >0.04</text>
<line x1="121.1" y1="738.6" x2="128.9" y2="738.6" stroke="#111" stroke-width="1.5" />
<text x="112.3" y="745.8" text-anchor="end" >0.03</text>
<line x1="121.1" y1="772.7" x2="128.9" y2="772.7" stroke="#111" stroke-width="1.5" />
<text x="112.3" y="779.9" text-anchor="end" >0.02</text>
<line x1="121.1" y1="806.9" x2="128.9" y2="806.9" stroke="#111" stroke-width="1.5" />
<text x="112.3" y="814.1" text-anchor="end" >0.01</text>
<line x1="121.1" y1="840.8" x2="128.9" y2="840.8" stroke="#111" stroke-width="1.5" />
<text x="112.3" y="848.0" text-anchor="end" >0</text>
<text x="51.1" y="755.0" text-anchor="middle" transform="rotate(-90 51.1 755.0)"  letter-spacing="0.54">Mutation probability</text>
<text x="143.9" y="706.7"  letter-spacing="0.44">Signature A</text>
<path d="M141.8 1068.9h4.3v-8.7h-4.3zM149.7 1068.9h4.3v-3.6h-4.3zM157.6 1068.9h4.3v-2.5h-4.3zM165.5 1068.9h4.3v-7.4h-4.3zM173.5 1068.9h4.3v-1.0h-4.3zM181.4 1068.9h4.3v-2.0h-4.3zM189.3 1068.9h4.3v-1.0h-4.3zM197.2 1068.9h4.3v-4.1h-4.3zM205.1 1068.9h4.3v-4.8h-4.3zM213.0 1068.9h4.3v-4.6h-4.3zM221.0 1068.9h4.3v-1.0h-4.3zM228.9 1068.9h4.3v-3.8h-4.3zM236.8 1068.9h4.3v-8.9h-4.3zM244.7 1068.9h4.3v-5.9h-4.3zM252.6 1068.9h4.3v-1.5h-4.3zM260.5 1068.9h4.3v-12.0h-4.3z" fill="#1e90ff"/>
<path d="M268.4 1068.9h4.3v-3.6h-4.3zM276.4 1068.9h4.3v-2.3h-4.3zM284.3 1068.9h4.3v-0.8h-4.3zM292.2 1068.9h4.3v-6.9h-4.3zM300.1 1068.9h4.3v-1.5h-4.3zM308.0 1068.9h4.3v-1.3h-4.3zM315.9 1068.9h4.3v-0.8h-4.3zM323.8 1068.9h4.3v-6.4h-4.3zM331.8 1068.9h4.3v-1.5h-4.3zM339.7 1068.9h4.3v-5.1h-4.3zM347.6 1068.9h4.3v-0.8h-4.3zM355.5 1068.9h4.3v-1.5h-4.3zM363.4 1068.9h4.3v-4.8h-4.3zM371.3 1068.9h4.3v-1.5h-4.3zM379.2 1068.9h4.3v-0.8h-4.3zM387.2 1068.9h4.3v-32.6h-4.3z" fill="#000000"/>
<path d="M395.1 1068.9h4.3v-7.6h-4.3zM403.0 1068.9h4.3v-9.4h-4.3zM410.9 1068.9h4.3v-6.1h-4.3zM418.8 1068.9h4.3v-8.7h-4.3zM426.7 1068.9h4.3v-8.9h-4.3zM434.7 1068.9h4.3v-9.7h-4.3zM442.6 1068.9h4.3v-4.3h-4.3zM450.5 1068.9h4.3v-15.6h-4.3zM458.4 1068.9h4.3v-9.4h-4.3zM466.3 1068.9h4.3v-4.8h-4.3zM474.2 1068.9h4.3v-2.5h-4.3zM482.1 1068.9h4.3v-6.1h-4.3zM490.1 1068.9h4.3v-13.5h-4.3zM498.0 1068.9h4.3v-9.7h-4.3zM505.9 1068.9h4.3v-5.1h-4.3zM513.8 1068.9h4.3v-17.1h-4.3z" fill="#ff0000"/>
<path d="M521.7 1068.9h4.3v-21.2h-4.3zM529.6 1068.9h4.3v-8.8h-4.3zM537.5 1068.9h4.3v-11.4h-4.3zM545.5 1068.9h4.3v-14.3h-4.3zM553.4 1068.9h4.3v-5.8h-4.3zM561.3 1068.9h4.3v-7.3h-4.3zM569.2 1068.9h4.3v-6.6h-4.3zM577.1 1068.9h4.3v-7.5h-4.3zM585.0 1068.9h4.3v-1.7h-4.3zM593.0 1068.9h4.3v-1.7h-4.3zM600.9 1068.9h4.3v-1.5h-4.3zM608.8 1068.9h4.3v-2.8h-4.3zM616.7 1068.9h4.3v-4.1h-4.3zM624.6 1068.9h4.3v-1.9h-4.3zM632.5 1068.9h4.3v-3.9h-4.3zM640.4 1068.9h4.3v-3.2h-4.3z" fill="#b3b3b3"/>
<path d="M648.4 1068.9h4.3v-158.9h-4.3zM656.3 1068.9h4.3v-11.6h-4.3zM664.2 1068.9h4.3v-24.8h-4.3zM672.1 1068.9h4.3v-120.8h-4.3zM680.0 1068.9h4.3v-9.9h-4.3zM687.9 1068.9h4.3v-6.2h-4.3zM695.8 1068.9h4.3v-4.7h-4.3zM703.8 1068.9h4.3v-16.1h-4.3zM711.7 1068.9h4.3v-4.7h-4.3zM719.6 1068.9h4.3v-1.9h-4.3zM727.5 1068.9h4.3v-3.0h-4.3zM735.4 1068.9h4.3v-5.8h-4.3zM743.3 1068.9h4.3v-6.0h-4.3zM751.3 1068.9h4.3v-2.1h-4.3zM759.2 1068.9h4.3v-3.0h-4.3zM767.1 1068.9h4.3v-6.9h-4.3z" fill="#9acd32"/>
<path d="M775.0 1068.9h4.3v-2.4h-4.3zM782.9 1068.9h4.3v-1.5h-4.3zM790.8 1068.9h4.3v-1.9h-4.3zM798.7 1068.9h4.3v-5.6h-4.3zM806.7 1068.9h4.3v-2.6h-4.3zM814.6 1068.9h4.3v-1.3h-4.3zM822.5 1068.9h4.3v-2.1h-4.3zM830.4 1068.9h4.3v-2.8h-4.3zM838.3 1068.9h4.3v-0.9h-4.3zM846.2 1068.9h4.3v-2.1h-4.3zM854.2 1068.9h4.3v-1.3h-4.3zM862.1 1068.9h4.3v-2.6h-4.3zM870.0 1068.9h4.3v-3.6h-4.3zM877.9 1068.9h4.3v-3.0h-4.3zM885.8 1068.9h4.3v-1.9h-4.3zM893.7 1068.9h4.3v-7.7h-4.3z" fill="#eeaeee"/>
<line x1="128.9" y1="905.0" x2="128.9" y2="1069.7" stroke="#111" stroke-width="1.6" />
<line x1="121.1" y1="905.8" x2="128.9" y2="905.8" stroke="#111" stroke-width="1.5" />
<text x="112.3" y="913.0" text-anchor="end" >0.20</text>
<line x1="121.1" y1="946.5" x2="128.9" y2="946.5" stroke="#111" stroke-width="1.5" />
<text x="112.3" y="953.7" text-anchor="end" >0.15</text>
<line x1="121.1" y1="987.3" x2="128.9" y2="987.3" stroke="#111" stroke-width="1.5" />
<text x="112.3" y="994.5" text-anchor="end" >0.10</text>
<line x1="121.1" y1="1028.1" x2="128.9" y2="1028.1" stroke="#111" stroke-width="1.5" />
<text x="112.3" y="1035.3" text-anchor="end" >0.05</text>
<line x1="121.1" y1="1068.9" x2="128.9" y2="1068.9" stroke="#111" stroke-width="1.5" />
<text x="112.3" y="1076.1" text-anchor="end" >0</text>
<text x="51.1" y="987.0" text-anchor="middle" transform="rotate(-90 51.1 987.0)"  letter-spacing="0.54">Mutation probability</text>
<text x="143.9" y="917.0"  letter-spacing="0.44">Signature B</text>
<path d="M141.0 1307.1h4.3v-27.6h-4.3zM148.9 1307.1h4.3v-16.7h-4.3zM156.8 1307.1h4.3v-8.8h-4.3zM164.7 1307.1h4.3v-16.2h-4.3zM172.7 1307.1h4.3v-16.2h-4.3zM180.6 1307.1h4.3v-17.5h-4.3zM188.5 1307.1h4.3v-4.0h-4.3zM196.4 1307.1h4.3v-16.7h-4.3zM204.3 1307.1h4.3v-19.1h-4.3zM212.2 1307.1h4.3v-16.2h-4.3zM220.2 1307.1h4.3v-5.0h-4.3zM228.1 1307.1h4.3v-16.2h-4.3zM236.0 1307.1h4.3v-24.9h-4.3zM243.9 1307.1h4.3v-27.3h-4.3zM251.8 1307.1h4.3v-8.8h-4.3zM259.7 1307.1h4.3v-31.6h-4.3z" fill="#1e90ff"/>
<path d="M267.6 1307.1h4.3v-11.4h-4.3zM275.6 1307.1h4.3v-9.3h-4.3zM283.5 1307.1h4.3v-2.4h-4.3zM291.4 1307.1h4.3v-17.8h-4.3zM299.3 1307.1h4.3v-8.0h-4.3zM307.2 1307.1h4.3v-7.2h-4.3zM315.1 1307.1h4.3v-5.0h-4.3zM323.0 1307.1h4.3v-15.9h-4.3zM331.0 1307.1h4.3v-4.5h-4.3zM338.9 1307.1h4.3v-10.1h-4.3zM346.8 1307.1h4.3v-1.6h-4.3zM354.7 1307.1h4.3v-5.8h-4.3zM362.6 1307.1h4.3v-18.3h-4.3zM370.5 1307.1h4.3v-12.7h-4.3zM378.4 1307.1h4.3v-1.9h-4.3zM386.4 1307.1h4.3v-44.0h-4.3z" fill="#000000"/>
<path d="M394.3 1307.1h4.3v-51.2h-4.3zM402.2 1307.1h4.3v-31.0h-4.3zM410.1 1307.1h4.3v-47.2h-4.3zM418.0 1307.1h4.3v-26.3h-4.3zM425.9 1307.1h4.3v-44.0h-4.3zM433.9 1307.1h4.3v-36.1h-4.3zM441.8 1307.1h4.3v-36.9h-4.3zM449.7 1307.1h4.3v-47.2h-4.3zM457.6 1307.1h4.3v-42.7h-4.3zM465.5 1307.1h4.3v-35.8h-4.3zM473.4 1307.1h4.3v-31.6h-4.3zM481.3 1307.1h4.3v-33.7h-4.3zM489.3 1307.1h4.3v-55.4h-4.3zM497.2 1307.1h4.3v-47.2h-4.3zM505.1 1307.1h4.3v-25.7h-4.3zM513.0 1307.1h4.3v-52.5h-4.3z" fill="#ff0000"/>
<path d="M520.9 1307.1h4.3v-24.2h-4.3zM528.8 1307.1h4.3v-16.3h-4.3zM536.8 1307.1h4.3v-19.9h-4.3zM544.7 1307.1h4.3v-24.8h-4.3zM552.6 1307.1h4.3v-6.9h-4.3zM560.5 1307.1h4.3v-14.1h-4.3zM568.4 1307.1h4.3v-15.6h-4.3zM576.3 1307.1h4.3v-16.5h-4.3zM584.2 1307.1h4.3v-5.1h-4.3zM592.2 1307.1h4.3v-6.9h-4.3zM600.1 1307.1h4.3v-6.4h-4.3zM608.0 1307.1h4.3v-3.9h-4.3zM615.9 1307.1h4.3v-9.4h-4.3zM623.8 1307.1h4.3v-11.8h-4.3zM631.7 1307.1h4.3v-8.6h-4.3zM639.6 1307.1h4.3v-12.2h-4.3z" fill="#b3b3b3"/>
<path d="M647.6 1307.1h4.3v-159.3h-4.3zM655.5 1307.1h4.3v-18.8h-4.3zM663.4 1307.1h4.3v-49.3h-4.3zM671.3 1307.1h4.3v-140.3h-4.3zM679.2 1307.1h4.3v-16.5h-4.3zM687.1 1307.1h4.3v-13.3h-4.3zM695.0 1307.1h4.3v-21.0h-4.3zM703.0 1307.1h4.3v-22.9h-4.3zM710.9 1307.1h4.3v-23.6h-4.3zM718.8 1307.1h4.3v-9.0h-4.3zM726.7 1307.1h4.3v-13.1h-4.3zM734.6 1307.1h4.3v-22.5h-4.3zM742.5 1307.1h4.3v-16.1h-4.3zM750.5 1307.1h4.3v-10.3h-4.3zM758.4 1307.1h4.3v-6.9h-4.3zM766.3 1307.1h4.3v-20.1h-4.3z" fill="#9acd32"/>
<path d="M774.2 1307.1h4.3v-5.1h-4.3zM782.1 1307.1h4.3v-6.0h-4.3zM790.0 1307.1h4.3v-6.0h-4.3zM797.9 1307.1h4.3v-8.1h-4.3zM805.9 1307.1h4.3v-3.6h-4.3zM813.8 1307.1h4.3v-7.3h-4.3zM821.7 1307.1h4.3v-8.1h-4.3zM829.6 1307.1h4.3v-9.9h-4.3zM837.5 1307.1h4.3v-3.2h-4.3zM845.4 1307.1h4.3v-4.1h-4.3zM853.4 1307.1h4.3v-9.2h-4.3zM861.3 1307.1h4.3v-7.5h-4.3zM869.2 1307.1h4.3v-10.5h-4.3zM877.1 1307.1h4.3v-7.3h-4.3zM885.0 1307.1h4.3v-9.9h-4.3zM892.9 1307.1h4.3v-23.8h-4.3z" fill="#eeaeee"/>
<line x1="129.1" y1="1130.8" x2="129.1" y2="1307.9" stroke="#111" stroke-width="1.6" />
<line x1="121.3" y1="1131.6" x2="129.1" y2="1131.6" stroke="#111" stroke-width="1.5" />
<text x="112.3" y="1138.8" text-anchor="end" >500</text>
<line x1="121.3" y1="1166.6" x2="129.1" y2="1166.6" stroke="#111" stroke-width="1.5" />
<text x="112.3" y="1173.8" text-anchor="end" >400</text>
<line x1="121.3" y1="1201.8" x2="129.1" y2="1201.8" stroke="#111" stroke-width="1.5" />
<text x="112.3" y="1209.0" text-anchor="end" >300</text>
<line x1="121.3" y1="1236.8" x2="129.1" y2="1236.8" stroke="#111" stroke-width="1.5" />
<text x="112.3" y="1244.0" text-anchor="end" >200</text>
<line x1="121.3" y1="1271.8" x2="129.1" y2="1271.8" stroke="#111" stroke-width="1.5" />
<text x="112.3" y="1279.0" text-anchor="end" >100</text>
<line x1="121.3" y1="1307.1" x2="129.1" y2="1307.1" stroke="#111" stroke-width="1.5" />
<text x="112.3" y="1314.3" text-anchor="end" >0</text>
<text x="31.8" y="1219.0" text-anchor="middle" transform="rotate(-90 31.8 1219.0)"  letter-spacing="0.54">Corrected mutations</text>
<text x="57.0" y="1219.0" text-anchor="middle" transform="rotate(-90 57.0 1219.0)"  letter-spacing="0.45">across 17 donors</text>
<text x="144.0" y="1147.7"  letter-spacing="0.51">Heavy-smoking and heavy-drinking donors</text>
<path d="M141.0 1534.1h4.3v-53.3h-4.3zM148.9 1534.1h4.3v-42.7h-4.3zM156.8 1534.1h4.3v-11.9h-4.3zM164.7 1534.1h4.3v-32.1h-4.3zM172.7 1534.1h4.3v-28.9h-4.3zM180.6 1534.1h4.3v-32.4h-4.3zM188.5 1534.1h4.3v-9.0h-4.3zM196.4 1534.1h4.3v-27.8h-4.3zM204.3 1534.1h4.3v-42.2h-4.3zM212.2 1534.1h4.3v-26.3h-4.3zM220.2 1534.1h4.3v-9.8h-4.3zM228.1 1534.1h4.3v-24.1h-4.3zM236.0 1534.1h4.3v-52.2h-4.3zM243.9 1534.1h4.3v-64.2h-4.3zM251.8 1534.1h4.3v-17.2h-4.3zM259.7 1534.1h4.3v-55.2h-4.3z" fill="#1e90ff"/>
<path d="M267.6 1534.1h4.3v-23.6h-4.3zM275.6 1534.1h4.3v-14.6h-4.3zM283.5 1534.1h4.3v-5.3h-4.3zM291.4 1534.1h4.3v-29.2h-4.3zM299.3 1534.1h4.3v-17.8h-4.3zM307.2 1534.1h4.3v-20.9h-4.3zM315.1 1534.1h4.3v-8.2h-4.3zM323.0 1534.1h4.3v-40.8h-4.3zM331.0 1534.1h4.3v-12.2h-4.3zM338.9 1534.1h4.3v-13.5h-4.3zM346.8 1534.1h4.3v-3.2h-4.3zM354.7 1534.1h4.3v-15.9h-4.3zM362.6 1534.1h4.3v-42.4h-4.3zM370.5 1534.1h4.3v-26.8h-4.3zM378.4 1534.1h4.3v-5.8h-4.3zM386.4 1534.1h4.3v-66.3h-4.3z" fill="#000000"/>
<path d="M394.3 1534.1h4.3v-96.3h-4.3zM402.2 1534.1h4.3v-66.8h-4.3zM410.1 1534.1h4.3v-111.6h-4.3zM418.0 1534.1h4.3v-65.0h-4.3zM425.9 1534.1h4.3v-104.7h-4.3zM433.9 1534.1h4.3v-81.1h-4.3zM441.8 1534.1h4.3v-81.1h-4.3zM449.7 1534.1h4.3v-97.3h-4.3zM457.6 1534.1h4.3v-92.5h-4.3zM465.5 1534.1h4.3v-69.7h-4.3zM473.4 1534.1h4.3v-74.8h-4.3zM481.3 1534.1h4.3v-59.1h-4.3zM489.3 1534.1h4.3v-126.8h-4.3zM497.2 1534.1h4.3v-93.9h-4.3zM505.1 1534.1h4.3v-58.6h-4.3zM513.0 1534.1h4.3v-89.9h-4.3z" fill="#ff0000"/>
<path d="M520.9 1534.1h4.3v-30.0h-4.3zM528.8 1534.1h4.3v-26.1h-4.3zM536.8 1534.1h4.3v-29.1h-4.3zM544.7 1534.1h4.3v-29.1h-4.3zM552.6 1534.1h4.3v-16.3h-4.3zM560.5 1534.1h4.3v-21.6h-4.3zM568.4 1534.1h4.3v-30.8h-4.3zM576.3 1534.1h4.3v-20.3h-4.3zM584.2 1534.1h4.3v-10.1h-4.3zM592.2 1534.1h4.3v-12.0h-4.3zM600.1 1534.1h4.3v-14.6h-4.3zM608.0 1534.1h4.3v-9.9h-4.3zM615.9 1534.1h4.3v-23.6h-4.3zM623.8 1534.1h4.3v-17.3h-4.3zM631.7 1534.1h4.3v-16.1h-4.3zM639.6 1534.1h4.3v-33.0h-4.3z" fill="#b3b3b3"/>
<path d="M647.6 1534.1h4.3v-143.9h-4.3zM655.5 1534.1h4.3v-39.4h-4.3zM663.4 1534.1h4.3v-67.7h-4.3zM671.3 1534.1h4.3v-159.3h-4.3zM679.2 1534.1h4.3v-25.3h-4.3zM687.1 1534.1h4.3v-21.8h-4.3zM695.0 1534.1h4.3v-31.9h-4.3zM703.0 1534.1h4.3v-28.7h-4.3zM710.9 1534.1h4.3v-36.2h-4.3zM718.8 1534.1h4.3v-19.3h-4.3zM726.7 1534.1h4.3v-25.3h-4.3zM734.6 1534.1h4.3v-53.8h-4.3zM742.5 1534.1h4.3v-28.1h-4.3zM750.5 1534.1h4.3v-19.3h-4.3zM758.4 1534.1h4.3v-19.9h-4.3zM766.3 1534.1h4.3v-48.0h-4.3z" fill="#9acd32"/>
<path d="M774.2 1534.1h4.3v-12.4h-4.3zM782.1 1534.1h4.3v-9.9h-4.3zM790.0 1534.1h4.3v-12.9h-4.3zM797.9 1534.1h4.3v-30.0h-4.3zM805.9 1534.1h4.3v-10.1h-4.3zM813.8 1534.1h4.3v-14.1h-4.3zM821.7 1534.1h4.3v-17.1h-4.3zM829.6 1534.1h4.3v-28.3h-4.3zM837.5 1534.1h4.3v-8.8h-4.3zM845.4 1534.1h4.3v-7.5h-4.3zM853.4 1534.1h4.3v-13.9h-4.3zM861.3 1534.1h4.3v-12.6h-4.3zM869.2 1534.1h4.3v-21.0h-4.3zM877.1 1534.1h4.3v-19.3h-4.3zM885.0 1534.1h4.3v-14.1h-4.3zM892.9 1534.1h4.3v-48.0h-4.3z" fill="#eeaeee"/>
<line x1="129.1" y1="1370.2" x2="129.1" y2="1534.9" stroke="#111" stroke-width="1.6" />
<line x1="121.3" y1="1371.0" x2="129.1" y2="1371.0" stroke="#111" stroke-width="1.5" />
<text x="112.3" y="1378.2" text-anchor="end" >2,500</text>
<line x1="121.3" y1="1403.6" x2="129.1" y2="1403.6" stroke="#111" stroke-width="1.5" />
<text x="112.3" y="1410.8" text-anchor="end" >2,000</text>
<line x1="121.3" y1="1436.3" x2="129.1" y2="1436.3" stroke="#111" stroke-width="1.5" />
<text x="112.3" y="1443.5" text-anchor="end" >1,500</text>
<line x1="121.3" y1="1468.9" x2="129.1" y2="1468.9" stroke="#111" stroke-width="1.5" />
<text x="112.3" y="1476.1" text-anchor="end" >1,000</text>
<line x1="121.3" y1="1501.5" x2="129.1" y2="1501.5" stroke="#111" stroke-width="1.5" />
<text x="112.3" y="1508.7" text-anchor="end" >500</text>
<line x1="121.3" y1="1534.1" x2="129.1" y2="1534.1" stroke="#111" stroke-width="1.5" />
<text x="112.3" y="1541.3" text-anchor="end" >0</text>
<text x="16.4" y="1454.0" text-anchor="middle" transform="rotate(-90 16.4 1454.0)"  letter-spacing="0.54">Corrected mutations</text>
<text x="41.1" y="1454.0" text-anchor="middle" transform="rotate(-90 41.1 1454.0)"  letter-spacing="0.42">across 224 donors</text>
<text x="144.0" y="1381.6"  letter-spacing="0.5">Non-smoking non-drinking donors</text>
<text transform="translate(979.0 590.5) scale(1.16 1)" font-size="29" font-weight="bold" stroke="#000" stroke-width="0.7">c</text>
<line x1="1087.0" y1="656.5" x2="1087.0" y2="992.3" stroke="#1a1a1a" stroke-width="1.4" />
<line x1="1086.3" y1="991.6" x2="1416.0" y2="991.6" stroke="#1a1a1a" stroke-width="1.4" />
<line x1="1079.2" y1="748.5" x2="1087.0" y2="748.5" stroke="#1a1a1a" stroke-width="1.4" />
<text x="1067.5" y="755.7" text-anchor="end" font-size="20.3" >1,500</text>
<line x1="1079.2" y1="845.5" x2="1087.0" y2="845.5" stroke="#1a1a1a" stroke-width="1.4" />
<text x="1067.5" y="852.7" text-anchor="end" font-size="20.3" >1,000</text>
<line x1="1079.2" y1="942.8" x2="1087.0" y2="942.8" stroke="#1a1a1a" stroke-width="1.4" />
<text x="1067.5" y="950.0" text-anchor="end" font-size="20.3" >500</text>
<line x1="1094.7" y1="991.6" x2="1094.7" y2="1001.0" stroke="#1a1a1a" stroke-width="1.4" />
<text x="1094.7" y="1024.3" text-anchor="middle" font-size="20.3" >20</text>
<line x1="1138.1" y1="991.6" x2="1138.1" y2="1001.0" stroke="#1a1a1a" stroke-width="1.4" />
<text x="1138.1" y="1024.3" text-anchor="middle" font-size="20.3" >30</text>
<line x1="1181.4" y1="991.6" x2="1181.4" y2="1001.0" stroke="#1a1a1a" stroke-width="1.4" />
<text x="1181.4" y="1024.3" text-anchor="middle" font-size="20.3" >40</text>
<line x1="1224.8" y1="991.6" x2="1224.8" y2="1001.0" stroke="#1a1a1a" stroke-width="1.4" />
<text x="1224.8" y="1024.3" text-anchor="middle" font-size="20.3" >50</text>
<line x1="1268.1" y1="991.6" x2="1268.1" y2="1001.0" stroke="#1a1a1a" stroke-width="1.4" />
<text x="1268.1" y="1024.3" text-anchor="middle" font-size="20.3" >60</text>
<line x1="1311.5" y1="991.6" x2="1311.5" y2="1001.0" stroke="#1a1a1a" stroke-width="1.4" />
<text x="1311.5" y="1024.3" text-anchor="middle" font-size="20.3" >70</text>
<line x1="1354.9" y1="991.6" x2="1354.9" y2="1001.0" stroke="#1a1a1a" stroke-width="1.4" />
<text x="1354.9" y="1024.3" text-anchor="middle" font-size="20.3" >80</text>
<line x1="1398.2" y1="991.6" x2="1398.2" y2="1001.0" stroke="#1a1a1a" stroke-width="1.4" />
<text x="1398.2" y="1024.3" text-anchor="middle" font-size="20.3" >90</text>
<text x="1250.5" y="1059.0" text-anchor="middle" font-size="20.3"  letter-spacing="0.02">Age (years)</text>
<text x="1001.0" y="824.8" text-anchor="middle" font-size="20.3" transform="rotate(-90 1001.0 824.8)"  letter-spacing="0.36">Signature A burden</text>
<g fill="#333333"><circle cx="1099.0" cy="960.2" r="2.6"/><circle cx="1129.4" cy="939.1" r="2.6"/><circle cx="1112.0" cy="966.7" r="2.6"/><circle cx="1125.1" cy="936.0" r="2.6"/><circle cx="1133.7" cy="915.0" r="2.6"/><circle cx="1116.4" cy="952.4" r="2.6"/><circle cx="1116.4" cy="964.6" r="2.6"/><circle cx="1099.0" cy="980.0" r="2.6"/><circle cx="1107.7" cy="955.0" r="2.6"/><circle cx="1116.4" cy="955.5" r="2.6"/><circle cx="1125.1" cy="947.3" r="2.6"/><circle cx="1129.4" cy="942.6" r="2.6"/><circle cx="1112.0" cy="974.9" r="2.6"/><circle cx="1099.0" cy="953.6" r="2.6"/><circle cx="1107.7" cy="954.5" r="2.6"/><circle cx="1133.7" cy="940.9" r="2.6"/><circle cx="1103.4" cy="957.5" r="2.6"/><circle cx="1116.4" cy="938.6" r="2.6"/><circle cx="1133.7" cy="938.9" r="2.6"/><circle cx="1099.0" cy="974.4" r="2.6"/><circle cx="1120.7" cy="931.9" r="2.6"/><circle cx="1133.7" cy="946.4" r="2.6"/><circle cx="1107.7" cy="967.3" r="2.6"/><circle cx="1116.4" cy="973.7" r="2.6"/><circle cx="1133.7" cy="939.6" r="2.6"/><circle cx="1142.4" cy="950.7" r="2.6"/><circle cx="1159.7" cy="931.0" r="2.6"/><circle cx="1168.4" cy="907.9" r="2.6"/><circle cx="1164.1" cy="918.4" r="2.6"/><circle cx="1155.4" cy="907.6" r="2.6"/><circle cx="1146.7" cy="925.8" r="2.6"/><circle cx="1155.4" cy="931.8" r="2.6"/><circle cx="1151.1" cy="933.4" r="2.6"/><circle cx="1155.4" cy="933.6" r="2.6"/><circle cx="1151.1" cy="917.1" r="2.6"/><circle cx="1172.7" cy="912.6" r="2.6"/><circle cx="1168.4" cy="923.4" r="2.6"/><circle cx="1151.1" cy="913.7" r="2.6"/><circle cx="1159.7" cy="920.3" r="2.6"/><circle cx="1146.7" cy="938.5" r="2.6"/><circle cx="1155.4" cy="950.7" r="2.6"/><circle cx="1151.1" cy="920.6" r="2.6"/><circle cx="1164.1" cy="914.7" r="2.6"/><circle cx="1151.1" cy="927.0" r="2.6"/><circle cx="1155.4" cy="932.3" r="2.6"/><circle cx="1168.4" cy="931.0" r="2.6"/><circle cx="1155.4" cy="928.8" r="2.6"/><circle cx="1177.1" cy="905.7" r="2.6"/><circle cx="1142.4" cy="935.9" r="2.6"/><circle cx="1168.4" cy="918.6" r="2.6"/><circle cx="1155.4" cy="932.9" r="2.6"/><circle cx="1155.4" cy="919.1" r="2.6"/><circle cx="1164.1" cy="914.8" r="2.6"/><circle cx="1159.7" cy="935.0" r="2.6"/><circle cx="1155.4" cy="911.9" r="2.6"/><circle cx="1138.1" cy="924.3" r="2.6"/><circle cx="1138.1" cy="924.0" r="2.6"/><circle cx="1168.4" cy="918.3" r="2.6"/><circle cx="1159.7" cy="925.3" r="2.6"/><circle cx="1164.1" cy="939.5" r="2.6"/><circle cx="1177.1" cy="895.9" r="2.6"/><circle cx="1164.1" cy="956.8" r="2.6"/><circle cx="1138.1" cy="942.9" r="2.6"/><circle cx="1151.1" cy="933.6" r="2.6"/><circle cx="1159.7" cy="907.0" r="2.6"/><circle cx="1146.7" cy="930.9" r="2.6"/><circle cx="1177.1" cy="928.1" r="2.6"/><circle cx="1177.1" cy="936.7" r="2.6"/><circle cx="1172.7" cy="926.4" r="2.6"/><circle cx="1155.4" cy="923.1" r="2.6"/><circle cx="1216.1" cy="882.1" r="2.6"/><circle cx="1185.8" cy="907.9" r="2.6"/><circle cx="1194.4" cy="911.9" r="2.6"/><circle cx="1203.1" cy="896.6" r="2.6"/><circle cx="1211.8" cy="865.0" r="2.6"/><circle cx="1203.1" cy="915.0" r="2.6"/><circle cx="1185.8" cy="903.4" r="2.6"/><circle cx="1198.8" cy="862.2" r="2.6"/><circle cx="1198.8" cy="883.9" r="2.6"/><circle cx="1194.4" cy="907.3" r="2.6"/><circle cx="1190.1" cy="888.1" r="2.6"/><circle cx="1198.8" cy="910.5" r="2.6"/><circle cx="1203.1" cy="892.1" r="2.6"/><circle cx="1216.1" cy="849.6" r="2.6"/><circle cx="1216.1" cy="842.2" r="2.6"/><circle cx="1207.4" cy="925.2" r="2.6"/><circle cx="1203.1" cy="877.7" r="2.6"/><circle cx="1216.1" cy="841.0" r="2.6"/><circle cx="1220.4" cy="892.3" r="2.6"/><circle cx="1211.8" cy="880.7" r="2.6"/><circle cx="1216.1" cy="850.6" r="2.6"/><circle cx="1220.4" cy="891.2" r="2.6"/><circle cx="1181.4" cy="898.5" r="2.6"/><circle cx="1220.4" cy="881.6" r="2.6"/><circle cx="1194.4" cy="936.7" r="2.6"/><circle cx="1203.1" cy="885.0" r="2.6"/><circle cx="1216.1" cy="887.3" r="2.6"/><circle cx="1211.8" cy="866.4" r="2.6"/><circle cx="1190.1" cy="859.9" r="2.6"/><circle cx="1211.8" cy="871.7" r="2.6"/><circle cx="1181.4" cy="914.1" r="2.6"/><circle cx="1198.8" cy="886.0" r="2.6"/><circle cx="1216.1" cy="878.9" r="2.6"/><circle cx="1203.1" cy="871.0" r="2.6"/><circle cx="1207.4" cy="919.5" r="2.6"/><circle cx="1211.8" cy="911.2" r="2.6"/><circle cx="1216.1" cy="927.6" r="2.6"/><circle cx="1216.1" cy="870.1" r="2.6"/><circle cx="1181.4" cy="907.4" r="2.6"/><circle cx="1203.1" cy="905.5" r="2.6"/><circle cx="1203.1" cy="907.2" r="2.6"/><circle cx="1181.4" cy="918.0" r="2.6"/><circle cx="1207.4" cy="908.7" r="2.6"/><circle cx="1207.4" cy="896.0" r="2.6"/><circle cx="1216.1" cy="894.0" r="2.6"/><circle cx="1220.4" cy="849.7" r="2.6"/><circle cx="1185.8" cy="897.8" r="2.6"/><circle cx="1194.4" cy="914.5" r="2.6"/><circle cx="1211.8" cy="898.7" r="2.6"/><circle cx="1185.8" cy="880.9" r="2.6"/><circle cx="1190.1" cy="892.2" r="2.6"/><circle cx="1207.4" cy="883.0" r="2.6"/><circle cx="1190.1" cy="886.9" r="2.6"/><circle cx="1216.1" cy="848.9" r="2.6"/><circle cx="1216.1" cy="909.7" r="2.6"/><circle cx="1181.4" cy="921.3" r="2.6"/><circle cx="1207.4" cy="925.8" r="2.6"/><circle cx="1216.1" cy="872.6" r="2.6"/><circle cx="1220.4" cy="888.7" r="2.6"/><circle cx="1194.4" cy="911.6" r="2.6"/><circle cx="1190.1" cy="916.1" r="2.6"/><circle cx="1220.4" cy="865.1" r="2.6"/><circle cx="1220.4" cy="883.4" r="2.6"/><circle cx="1190.1" cy="911.6" r="2.6"/><circle cx="1203.1" cy="866.2" r="2.6"/><circle cx="1211.8" cy="908.6" r="2.6"/><circle cx="1216.1" cy="910.7" r="2.6"/><circle cx="1233.5" cy="811.7" r="2.6"/><circle cx="1255.1" cy="865.6" r="2.6"/><circle cx="1259.5" cy="867.1" r="2.6"/><circle cx="1250.8" cy="877.2" r="2.6"/><circle cx="1233.5" cy="874.5" r="2.6"/><circle cx="1224.8" cy="859.9" r="2.6"/><circle cx="1237.8" cy="850.8" r="2.6"/><circle cx="1259.5" cy="840.0" r="2.6"/><circle cx="1224.8" cy="883.6" r="2.6"/><circle cx="1224.8" cy="910.6" r="2.6"/><circle cx="1242.1" cy="858.8" r="2.6"/><circle cx="1229.1" cy="839.9" r="2.6"/><circle cx="1233.5" cy="846.8" r="2.6"/><circle cx="1224.8" cy="881.1" r="2.6"/><circle cx="1250.8" cy="840.0" r="2.6"/><circle cx="1255.1" cy="866.0" r="2.6"/><circle cx="1246.5" cy="863.8" r="2.6"/><circle cx="1233.5" cy="899.8" r="2.6"/><circle cx="1242.1" cy="872.9" r="2.6"/><circle cx="1250.8" cy="856.1" r="2.6"/><circle cx="1263.8" cy="854.9" r="2.6"/><circle cx="1263.8" cy="831.1" r="2.6"/><circle cx="1237.8" cy="824.5" r="2.6"/><circle cx="1224.8" cy="847.8" r="2.6"/><circle cx="1259.5" cy="861.2" r="2.6"/><circle cx="1263.8" cy="869.1" r="2.6"/><circle cx="1246.5" cy="878.1" r="2.6"/><circle cx="1259.5" cy="878.0" r="2.6"/><circle cx="1263.8" cy="849.7" r="2.6"/><circle cx="1255.1" cy="846.1" r="2.6"/><circle cx="1263.8" cy="846.0" r="2.6"/><circle cx="1224.8" cy="873.0" r="2.6"/><circle cx="1237.8" cy="864.7" r="2.6"/><circle cx="1237.8" cy="871.5" r="2.6"/><circle cx="1229.1" cy="891.2" r="2.6"/><circle cx="1263.8" cy="806.9" r="2.6"/><circle cx="1224.8" cy="853.9" r="2.6"/><circle cx="1255.1" cy="878.9" r="2.6"/><circle cx="1229.1" cy="894.9" r="2.6"/><circle cx="1242.1" cy="879.3" r="2.6"/><circle cx="1246.5" cy="861.7" r="2.6"/><circle cx="1233.5" cy="842.4" r="2.6"/><circle cx="1250.8" cy="834.8" r="2.6"/><circle cx="1250.8" cy="833.5" r="2.6"/><circle cx="1242.1" cy="839.7" r="2.6"/><circle cx="1259.5" cy="825.9" r="2.6"/><circle cx="1233.5" cy="854.4" r="2.6"/><circle cx="1233.5" cy="860.9" r="2.6"/><circle cx="1242.1" cy="868.3" r="2.6"/><circle cx="1242.1" cy="906.7" r="2.6"/><circle cx="1233.5" cy="874.4" r="2.6"/><circle cx="1263.8" cy="805.0" r="2.6"/><circle cx="1259.5" cy="867.1" r="2.6"/><circle cx="1229.1" cy="888.6" r="2.6"/><circle cx="1242.1" cy="841.4" r="2.6"/><circle cx="1237.8" cy="866.5" r="2.6"/><circle cx="1246.5" cy="874.0" r="2.6"/><circle cx="1237.8" cy="832.1" r="2.6"/><circle cx="1250.8" cy="844.3" r="2.6"/><circle cx="1263.8" cy="831.4" r="2.6"/><circle cx="1242.1" cy="878.8" r="2.6"/><circle cx="1255.1" cy="844.3" r="2.6"/><circle cx="1250.8" cy="850.3" r="2.6"/><circle cx="1259.5" cy="834.1" r="2.6"/><circle cx="1229.1" cy="848.3" r="2.6"/><circle cx="1259.5" cy="825.4" r="2.6"/><circle cx="1263.8" cy="846.3" r="2.6"/><circle cx="1250.8" cy="842.7" r="2.6"/><circle cx="1237.8" cy="895.1" r="2.6"/><circle cx="1255.1" cy="840.7" r="2.6"/><circle cx="1255.1" cy="839.7" r="2.6"/><circle cx="1255.1" cy="866.1" r="2.6"/><circle cx="1233.5" cy="889.2" r="2.6"/><circle cx="1263.8" cy="852.1" r="2.6"/><circle cx="1263.8" cy="881.3" r="2.6"/><circle cx="1246.5" cy="854.3" r="2.6"/><circle cx="1250.8" cy="852.3" r="2.6"/><circle cx="1224.8" cy="898.5" r="2.6"/><circle cx="1263.8" cy="849.4" r="2.6"/><circle cx="1259.5" cy="826.9" r="2.6"/><circle cx="1255.1" cy="830.3" r="2.6"/><circle cx="1259.5" cy="828.3" r="2.6"/><circle cx="1233.5" cy="874.9" r="2.6"/><circle cx="1242.1" cy="873.5" r="2.6"/><circle cx="1237.8" cy="877.5" r="2.6"/><circle cx="1250.8" cy="845.1" r="2.6"/><circle cx="1229.1" cy="821.0" r="2.6"/><circle cx="1263.8" cy="815.0" r="2.6"/><circle cx="1246.5" cy="824.4" r="2.6"/><circle cx="1246.5" cy="830.1" r="2.6"/><circle cx="1229.1" cy="910.9" r="2.6"/><circle cx="1255.1" cy="861.5" r="2.6"/><circle cx="1259.5" cy="864.4" r="2.6"/><circle cx="1255.1" cy="825.7" r="2.6"/><circle cx="1237.8" cy="829.0" r="2.6"/><circle cx="1259.5" cy="870.1" r="2.6"/><circle cx="1233.5" cy="870.5" r="2.6"/><circle cx="1259.5" cy="839.6" r="2.6"/><circle cx="1250.8" cy="871.4" r="2.6"/><circle cx="1237.8" cy="883.1" r="2.6"/><circle cx="1250.8" cy="876.0" r="2.6"/><circle cx="1255.1" cy="834.7" r="2.6"/><circle cx="1237.8" cy="889.6" r="2.6"/><circle cx="1259.5" cy="825.2" r="2.6"/><circle cx="1246.5" cy="860.4" r="2.6"/><circle cx="1263.8" cy="831.6" r="2.6"/><circle cx="1259.5" cy="815.0" r="2.6"/><circle cx="1229.1" cy="889.5" r="2.6"/><circle cx="1255.1" cy="876.7" r="2.6"/><circle cx="1242.1" cy="855.4" r="2.6"/><circle cx="1259.5" cy="879.3" r="2.6"/><circle cx="1250.8" cy="877.3" r="2.6"/><circle cx="1246.5" cy="865.2" r="2.6"/><circle cx="1263.8" cy="846.6" r="2.6"/><circle cx="1224.8" cy="905.1" r="2.6"/><circle cx="1250.8" cy="868.8" r="2.6"/><circle cx="1242.1" cy="851.7" r="2.6"/><circle cx="1224.8" cy="847.3" r="2.6"/><circle cx="1259.5" cy="902.5" r="2.6"/><circle cx="1250.8" cy="827.8" r="2.6"/><circle cx="1263.8" cy="828.3" r="2.6"/><circle cx="1250.8" cy="885.8" r="2.6"/><circle cx="1242.1" cy="900.2" r="2.6"/><circle cx="1263.8" cy="840.0" r="2.6"/><circle cx="1229.1" cy="883.9" r="2.6"/><circle cx="1224.8" cy="874.3" r="2.6"/><circle cx="1259.5" cy="832.1" r="2.6"/><circle cx="1242.1" cy="874.2" r="2.6"/><circle cx="1242.1" cy="861.6" r="2.6"/><circle cx="1263.8" cy="838.6" r="2.6"/><circle cx="1242.1" cy="844.5" r="2.6"/><circle cx="1263.8" cy="806.1" r="2.6"/><circle cx="1255.1" cy="814.8" r="2.6"/><circle cx="1242.1" cy="859.8" r="2.6"/><circle cx="1224.8" cy="882.6" r="2.6"/><circle cx="1237.8" cy="813.3" r="2.6"/><circle cx="1263.8" cy="834.4" r="2.6"/><circle cx="1246.5" cy="852.3" r="2.6"/><circle cx="1233.5" cy="896.6" r="2.6"/><circle cx="1242.1" cy="847.1" r="2.6"/><circle cx="1263.8" cy="870.2" r="2.6"/><circle cx="1233.5" cy="881.9" r="2.6"/><circle cx="1259.5" cy="886.8" r="2.6"/><circle cx="1233.5" cy="883.3" r="2.6"/><circle cx="1263.8" cy="849.0" r="2.6"/><circle cx="1250.8" cy="895.8" r="2.6"/><circle cx="1224.8" cy="897.2" r="2.6"/><circle cx="1263.8" cy="852.5" r="2.6"/><circle cx="1242.1" cy="895.2" r="2.6"/><circle cx="1259.5" cy="884.7" r="2.6"/><circle cx="1250.8" cy="879.6" r="2.6"/><circle cx="1229.1" cy="906.1" r="2.6"/><circle cx="1229.1" cy="860.5" r="2.6"/><circle cx="1233.5" cy="894.1" r="2.6"/><circle cx="1233.5" cy="853.8" r="2.6"/><circle cx="1224.8" cy="856.8" r="2.6"/><circle cx="1224.8" cy="904.0" r="2.6"/><circle cx="1263.8" cy="849.6" r="2.6"/><circle cx="1229.1" cy="885.2" r="2.6"/><circle cx="1250.8" cy="887.0" r="2.6"/><circle cx="1272.5" cy="853.3" r="2.6"/><circle cx="1276.8" cy="848.0" r="2.6"/><circle cx="1298.5" cy="807.0" r="2.6"/><circle cx="1307.2" cy="791.6" r="2.6"/><circle cx="1289.8" cy="862.7" r="2.6"/><circle cx="1268.1" cy="858.0" r="2.6"/><circle cx="1307.2" cy="805.7" r="2.6"/><circle cx="1268.1" cy="817.5" r="2.6"/><circle cx="1285.5" cy="901.4" r="2.6"/><circle cx="1289.8" cy="798.0" r="2.6"/><circle cx="1307.2" cy="825.6" r="2.6"/><circle cx="1302.8" cy="780.6" r="2.6"/><circle cx="1294.2" cy="841.4" r="2.6"/><circle cx="1285.5" cy="858.1" r="2.6"/><circle cx="1302.8" cy="822.6" r="2.6"/><circle cx="1302.8" cy="790.8" r="2.6"/><circle cx="1302.8" cy="823.0" r="2.6"/><circle cx="1298.5" cy="892.6" r="2.6"/><circle cx="1272.5" cy="826.9" r="2.6"/><circle cx="1281.1" cy="881.5" r="2.6"/><circle cx="1289.8" cy="859.4" r="2.6"/><circle cx="1289.8" cy="864.4" r="2.6"/><circle cx="1302.8" cy="875.7" r="2.6"/><circle cx="1276.8" cy="874.6" r="2.6"/><circle cx="1294.2" cy="857.0" r="2.6"/><circle cx="1285.5" cy="852.2" r="2.6"/><circle cx="1302.8" cy="825.3" r="2.6"/><circle cx="1276.8" cy="850.5" r="2.6"/><circle cx="1289.8" cy="873.2" r="2.6"/><circle cx="1272.5" cy="849.4" r="2.6"/><circle cx="1276.8" cy="816.1" r="2.6"/><circle cx="1307.2" cy="793.7" r="2.6"/><circle cx="1281.1" cy="835.1" r="2.6"/><circle cx="1307.2" cy="803.1" r="2.6"/><circle cx="1289.8" cy="808.4" r="2.6"/><circle cx="1268.1" cy="812.7" r="2.6"/><circle cx="1302.8" cy="775.8" r="2.6"/><circle cx="1268.1" cy="855.8" r="2.6"/><circle cx="1302.8" cy="831.5" r="2.6"/><circle cx="1268.1" cy="809.8" r="2.6"/><circle cx="1298.5" cy="783.2" r="2.6"/><circle cx="1272.5" cy="804.6" r="2.6"/><circle cx="1281.1" cy="901.1" r="2.6"/><circle cx="1307.2" cy="827.1" r="2.6"/><circle cx="1289.8" cy="921.6" r="2.6"/><circle cx="1294.2" cy="809.6" r="2.6"/><circle cx="1298.5" cy="825.2" r="2.6"/><circle cx="1272.5" cy="843.3" r="2.6"/><circle cx="1302.8" cy="827.7" r="2.6"/><circle cx="1307.2" cy="783.6" r="2.6"/><circle cx="1272.5" cy="852.3" r="2.6"/><circle cx="1289.8" cy="804.5" r="2.6"/><circle cx="1281.1" cy="823.9" r="2.6"/><circle cx="1298.5" cy="816.8" r="2.6"/><circle cx="1268.1" cy="835.7" r="2.6"/><circle cx="1289.8" cy="829.7" r="2.6"/><circle cx="1302.8" cy="854.8" r="2.6"/><circle cx="1298.5" cy="806.8" r="2.6"/><circle cx="1272.5" cy="826.1" r="2.6"/><circle cx="1302.8" cy="827.9" r="2.6"/><circle cx="1276.8" cy="822.4" r="2.6"/><circle cx="1302.8" cy="798.4" r="2.6"/><circle cx="1289.8" cy="867.7" r="2.6"/><circle cx="1272.5" cy="848.3" r="2.6"/><circle cx="1298.5" cy="839.2" r="2.6"/><circle cx="1302.8" cy="849.4" r="2.6"/><circle cx="1298.5" cy="817.8" r="2.6"/><circle cx="1307.2" cy="845.0" r="2.6"/><circle cx="1276.8" cy="853.1" r="2.6"/><circle cx="1276.8" cy="835.2" r="2.6"/><circle cx="1272.5" cy="835.6" r="2.6"/><circle cx="1289.8" cy="824.0" r="2.6"/><circle cx="1285.5" cy="775.5" r="2.6"/><circle cx="1281.1" cy="852.1" r="2.6"/><circle cx="1289.8" cy="825.9" r="2.6"/><circle cx="1281.1" cy="870.8" r="2.6"/><circle cx="1268.1" cy="835.3" r="2.6"/><circle cx="1289.8" cy="801.3" r="2.6"/><circle cx="1281.1" cy="806.4" r="2.6"/><circle cx="1285.5" cy="852.9" r="2.6"/><circle cx="1307.2" cy="828.9" r="2.6"/><circle cx="1276.8" cy="808.5" r="2.6"/><circle cx="1294.2" cy="832.4" r="2.6"/><circle cx="1294.2" cy="803.3" r="2.6"/><circle cx="1281.1" cy="864.6" r="2.6"/><circle cx="1289.8" cy="795.0" r="2.6"/><circle cx="1307.2" cy="791.5" r="2.6"/><circle cx="1281.1" cy="826.3" r="2.6"/><circle cx="1298.5" cy="849.1" r="2.6"/><circle cx="1302.8" cy="828.3" r="2.6"/><circle cx="1285.5" cy="831.6" r="2.6"/><circle cx="1307.2" cy="813.3" r="2.6"/><circle cx="1294.2" cy="832.7" r="2.6"/><circle cx="1289.8" cy="838.7" r="2.6"/><circle cx="1298.5" cy="821.4" r="2.6"/><circle cx="1285.5" cy="798.1" r="2.6"/><circle cx="1298.5" cy="882.9" r="2.6"/><circle cx="1281.1" cy="875.2" r="2.6"/><circle cx="1307.2" cy="865.1" r="2.6"/><circle cx="1289.8" cy="851.5" r="2.6"/><circle cx="1276.8" cy="887.4" r="2.6"/><circle cx="1285.5" cy="820.8" r="2.6"/><circle cx="1307.2" cy="818.1" r="2.6"/><circle cx="1302.8" cy="831.0" r="2.6"/><circle cx="1289.8" cy="851.4" r="2.6"/><circle cx="1281.1" cy="834.5" r="2.6"/><circle cx="1285.5" cy="830.9" r="2.6"/><circle cx="1307.2" cy="811.4" r="2.6"/><circle cx="1272.5" cy="863.6" r="2.6"/><circle cx="1307.2" cy="802.3" r="2.6"/><circle cx="1302.8" cy="865.4" r="2.6"/><circle cx="1276.8" cy="808.8" r="2.6"/><circle cx="1281.1" cy="920.7" r="2.6"/><circle cx="1294.2" cy="846.2" r="2.6"/><circle cx="1302.8" cy="857.8" r="2.6"/><circle cx="1307.2" cy="798.3" r="2.6"/><circle cx="1307.2" cy="863.4" r="2.6"/><circle cx="1281.1" cy="790.2" r="2.6"/><circle cx="1276.8" cy="882.3" r="2.6"/><circle cx="1289.8" cy="777.4" r="2.6"/><circle cx="1289.8" cy="820.5" r="2.6"/><circle cx="1294.2" cy="828.9" r="2.6"/><circle cx="1272.5" cy="833.3" r="2.6"/><circle cx="1294.2" cy="769.2" r="2.6"/><circle cx="1307.2" cy="795.3" r="2.6"/><circle cx="1307.2" cy="884.8" r="2.6"/><circle cx="1307.2" cy="786.7" r="2.6"/><circle cx="1307.2" cy="814.2" r="2.6"/><circle cx="1307.2" cy="867.1" r="2.6"/><circle cx="1268.1" cy="828.1" r="2.6"/><circle cx="1307.2" cy="855.5" r="2.6"/><circle cx="1281.1" cy="833.9" r="2.6"/><circle cx="1281.1" cy="832.5" r="2.6"/><circle cx="1289.8" cy="850.4" r="2.6"/><circle cx="1307.2" cy="802.3" r="2.6"/><circle cx="1294.2" cy="858.0" r="2.6"/><circle cx="1281.1" cy="833.6" r="2.6"/><circle cx="1285.5" cy="850.5" r="2.6"/><circle cx="1307.2" cy="826.1" r="2.6"/><circle cx="1302.8" cy="769.4" r="2.6"/><circle cx="1272.5" cy="841.7" r="2.6"/><circle cx="1276.8" cy="870.3" r="2.6"/><circle cx="1285.5" cy="838.9" r="2.6"/><circle cx="1276.8" cy="861.9" r="2.6"/><circle cx="1294.2" cy="829.0" r="2.6"/><circle cx="1276.8" cy="837.4" r="2.6"/><circle cx="1294.2" cy="827.4" r="2.6"/><circle cx="1307.2" cy="818.5" r="2.6"/><circle cx="1302.8" cy="839.2" r="2.6"/><circle cx="1272.5" cy="833.0" r="2.6"/><circle cx="1276.8" cy="813.8" r="2.6"/><circle cx="1285.5" cy="852.5" r="2.6"/><circle cx="1294.2" cy="831.4" r="2.6"/><circle cx="1285.5" cy="834.1" r="2.6"/><circle cx="1276.8" cy="808.7" r="2.6"/><circle cx="1281.1" cy="809.9" r="2.6"/><circle cx="1276.8" cy="860.9" r="2.6"/><circle cx="1302.8" cy="821.8" r="2.6"/><circle cx="1298.5" cy="868.6" r="2.6"/><circle cx="1285.5" cy="861.8" r="2.6"/><circle cx="1298.5" cy="826.4" r="2.6"/><circle cx="1289.8" cy="815.6" r="2.6"/><circle cx="1289.8" cy="806.7" r="2.6"/><circle cx="1285.5" cy="844.1" r="2.6"/><circle cx="1289.8" cy="869.7" r="2.6"/><circle cx="1307.2" cy="809.5" r="2.6"/><circle cx="1302.8" cy="828.7" r="2.6"/><circle cx="1302.8" cy="811.8" r="2.6"/><circle cx="1272.5" cy="840.5" r="2.6"/><circle cx="1289.8" cy="813.2" r="2.6"/><circle cx="1285.5" cy="818.1" r="2.6"/><circle cx="1272.5" cy="822.7" r="2.6"/><circle cx="1285.5" cy="848.1" r="2.6"/><circle cx="1268.1" cy="822.1" r="2.6"/><circle cx="1276.8" cy="854.9" r="2.6"/><circle cx="1302.8" cy="821.4" r="2.6"/><circle cx="1298.5" cy="774.8" r="2.6"/><circle cx="1298.5" cy="816.8" r="2.6"/><circle cx="1268.1" cy="877.5" r="2.6"/><circle cx="1272.5" cy="805.9" r="2.6"/><circle cx="1268.1" cy="822.0" r="2.6"/><circle cx="1272.5" cy="815.0" r="2.6"/><circle cx="1272.5" cy="839.5" r="2.6"/><circle cx="1307.2" cy="811.0" r="2.6"/><circle cx="1307.2" cy="827.5" r="2.6"/><circle cx="1276.8" cy="860.1" r="2.6"/><circle cx="1276.8" cy="801.4" r="2.6"/><circle cx="1307.2" cy="831.4" r="2.6"/><circle cx="1294.2" cy="843.1" r="2.6"/><circle cx="1285.5" cy="847.7" r="2.6"/><circle cx="1289.8" cy="781.9" r="2.6"/><circle cx="1281.1" cy="815.3" r="2.6"/><circle cx="1294.2" cy="839.9" r="2.6"/><circle cx="1298.5" cy="828.1" r="2.6"/><circle cx="1289.8" cy="818.8" r="2.6"/><circle cx="1302.8" cy="799.0" r="2.6"/><circle cx="1272.5" cy="886.5" r="2.6"/><circle cx="1294.2" cy="804.8" r="2.6"/><circle cx="1307.2" cy="827.1" r="2.6"/><circle cx="1272.5" cy="862.5" r="2.6"/><circle cx="1289.8" cy="843.4" r="2.6"/><circle cx="1294.2" cy="807.9" r="2.6"/><circle cx="1281.1" cy="791.9" r="2.6"/><circle cx="1307.2" cy="816.6" r="2.6"/><circle cx="1289.8" cy="817.5" r="2.6"/><circle cx="1289.8" cy="855.0" r="2.6"/><circle cx="1307.2" cy="806.8" r="2.6"/><circle cx="1268.1" cy="826.5" r="2.6"/><circle cx="1302.8" cy="865.9" r="2.6"/><circle cx="1272.5" cy="858.0" r="2.6"/><circle cx="1285.5" cy="814.4" r="2.6"/><circle cx="1289.8" cy="880.8" r="2.6"/><circle cx="1289.8" cy="843.0" r="2.6"/><circle cx="1268.1" cy="832.2" r="2.6"/><circle cx="1281.1" cy="883.7" r="2.6"/><circle cx="1281.1" cy="849.3" r="2.6"/><circle cx="1307.2" cy="819.3" r="2.6"/><circle cx="1307.2" cy="795.4" r="2.6"/><circle cx="1294.2" cy="865.1" r="2.6"/><circle cx="1307.2" cy="789.1" r="2.6"/><circle cx="1302.8" cy="815.2" r="2.6"/><circle cx="1285.5" cy="803.4" r="2.6"/><circle cx="1272.5" cy="814.4" r="2.6"/><circle cx="1294.2" cy="820.4" r="2.6"/><circle cx="1281.1" cy="825.8" r="2.6"/><circle cx="1268.1" cy="892.2" r="2.6"/><circle cx="1307.2" cy="859.5" r="2.6"/><circle cx="1307.2" cy="849.6" r="2.6"/><circle cx="1289.8" cy="842.2" r="2.6"/><circle cx="1294.2" cy="804.0" r="2.6"/><circle cx="1298.5" cy="876.7" r="2.6"/><circle cx="1307.2" cy="830.0" r="2.6"/><circle cx="1289.8" cy="868.8" r="2.6"/><circle cx="1294.2" cy="872.8" r="2.6"/><circle cx="1276.8" cy="802.8" r="2.6"/><circle cx="1276.8" cy="839.1" r="2.6"/><circle cx="1289.8" cy="788.1" r="2.6"/><circle cx="1276.8" cy="810.5" r="2.6"/><circle cx="1268.1" cy="871.2" r="2.6"/><circle cx="1285.5" cy="885.7" r="2.6"/><circle cx="1298.5" cy="768.9" r="2.6"/><circle cx="1281.1" cy="849.5" r="2.6"/><circle cx="1302.8" cy="856.2" r="2.6"/><circle cx="1298.5" cy="807.5" r="2.6"/><circle cx="1294.2" cy="826.0" r="2.6"/><circle cx="1307.2" cy="840.1" r="2.6"/><circle cx="1268.1" cy="856.5" r="2.6"/><circle cx="1276.8" cy="837.4" r="2.6"/><circle cx="1307.2" cy="818.7" r="2.6"/><circle cx="1307.2" cy="799.2" r="2.6"/><circle cx="1268.1" cy="856.7" r="2.6"/><circle cx="1302.8" cy="833.5" r="2.6"/><circle cx="1268.1" cy="832.2" r="2.6"/><circle cx="1272.5" cy="836.5" r="2.6"/><circle cx="1272.5" cy="816.2" r="2.6"/><circle cx="1281.1" cy="845.4" r="2.6"/><circle cx="1285.5" cy="838.4" r="2.6"/><circle cx="1307.2" cy="853.9" r="2.6"/><circle cx="1285.5" cy="795.3" r="2.6"/><circle cx="1272.5" cy="880.8" r="2.6"/><circle cx="1281.1" cy="833.3" r="2.6"/><circle cx="1268.1" cy="870.5" r="2.6"/><circle cx="1268.1" cy="839.0" r="2.6"/><circle cx="1285.5" cy="815.6" r="2.6"/><circle cx="1289.8" cy="877.5" r="2.6"/><circle cx="1276.8" cy="847.2" r="2.6"/><circle cx="1285.5" cy="883.1" r="2.6"/><circle cx="1272.5" cy="808.2" r="2.6"/><circle cx="1294.2" cy="842.0" r="2.6"/><circle cx="1285.5" cy="878.2" r="2.6"/><circle cx="1315.8" cy="835.5" r="2.6"/><circle cx="1328.8" cy="766.3" r="2.6"/><circle cx="1315.8" cy="771.4" r="2.6"/><circle cx="1320.2" cy="774.3" r="2.6"/><circle cx="1315.8" cy="837.9" r="2.6"/><circle cx="1337.5" cy="804.8" r="2.6"/><circle cx="1320.2" cy="763.5" r="2.6"/><circle cx="1350.5" cy="814.5" r="2.6"/><circle cx="1324.5" cy="819.0" r="2.6"/><circle cx="1315.8" cy="842.8" r="2.6"/><circle cx="1333.2" cy="838.6" r="2.6"/><circle cx="1337.5" cy="762.7" r="2.6"/><circle cx="1341.9" cy="777.4" r="2.6"/><circle cx="1315.8" cy="801.7" r="2.6"/><circle cx="1337.5" cy="782.1" r="2.6"/><circle cx="1341.9" cy="765.1" r="2.6"/><circle cx="1320.2" cy="767.2" r="2.6"/><circle cx="1324.5" cy="809.2" r="2.6"/><circle cx="1333.2" cy="813.5" r="2.6"/><circle cx="1320.2" cy="842.3" r="2.6"/><circle cx="1341.9" cy="763.2" r="2.6"/><circle cx="1333.2" cy="818.8" r="2.6"/><circle cx="1341.9" cy="843.8" r="2.6"/><circle cx="1324.5" cy="817.0" r="2.6"/><circle cx="1328.8" cy="805.3" r="2.6"/><circle cx="1315.8" cy="790.5" r="2.6"/><circle cx="1320.2" cy="782.2" r="2.6"/><circle cx="1337.5" cy="822.7" r="2.6"/><circle cx="1350.5" cy="816.7" r="2.6"/><circle cx="1315.8" cy="824.5" r="2.6"/><circle cx="1311.5" cy="853.0" r="2.6"/><circle cx="1311.5" cy="821.1" r="2.6"/><circle cx="1324.5" cy="795.2" r="2.6"/><circle cx="1337.5" cy="798.7" r="2.6"/><circle cx="1315.8" cy="862.2" r="2.6"/><circle cx="1324.5" cy="844.7" r="2.6"/><circle cx="1328.8" cy="767.1" r="2.6"/><circle cx="1341.9" cy="828.8" r="2.6"/><circle cx="1315.8" cy="793.3" r="2.6"/><circle cx="1311.5" cy="799.6" r="2.6"/><circle cx="1328.8" cy="815.7" r="2.6"/><circle cx="1320.2" cy="841.5" r="2.6"/><circle cx="1320.2" cy="805.7" r="2.6"/><circle cx="1337.5" cy="827.5" r="2.6"/><circle cx="1333.2" cy="808.4" r="2.6"/><circle cx="1311.5" cy="814.8" r="2.6"/><circle cx="1328.8" cy="827.7" r="2.6"/><circle cx="1337.5" cy="807.1" r="2.6"/><circle cx="1346.2" cy="803.8" r="2.6"/><circle cx="1311.5" cy="853.7" r="2.6"/><circle cx="1337.5" cy="805.9" r="2.6"/><circle cx="1311.5" cy="836.3" r="2.6"/><circle cx="1333.2" cy="858.8" r="2.6"/><circle cx="1328.8" cy="816.2" r="2.6"/><circle cx="1350.5" cy="800.2" r="2.6"/><circle cx="1333.2" cy="821.5" r="2.6"/><circle cx="1311.5" cy="877.6" r="2.6"/><circle cx="1333.2" cy="779.3" r="2.6"/><circle cx="1320.2" cy="791.7" r="2.6"/><circle cx="1341.9" cy="776.7" r="2.6"/><circle cx="1311.5" cy="808.5" r="2.6"/><circle cx="1320.2" cy="849.2" r="2.6"/><circle cx="1333.2" cy="799.3" r="2.6"/><circle cx="1315.8" cy="842.1" r="2.6"/><circle cx="1333.2" cy="736.1" r="2.6"/><circle cx="1333.2" cy="819.0" r="2.6"/><circle cx="1337.5" cy="779.4" r="2.6"/><circle cx="1341.9" cy="845.6" r="2.6"/><circle cx="1324.5" cy="844.3" r="2.6"/><circle cx="1315.8" cy="830.6" r="2.6"/><circle cx="1320.2" cy="791.1" r="2.6"/><circle cx="1324.5" cy="792.6" r="2.6"/><circle cx="1311.5" cy="809.5" r="2.6"/><circle cx="1333.2" cy="859.8" r="2.6"/><circle cx="1311.5" cy="785.1" r="2.6"/><circle cx="1311.5" cy="844.7" r="2.6"/><circle cx="1346.2" cy="743.1" r="2.6"/><circle cx="1337.5" cy="742.3" r="2.6"/><circle cx="1320.2" cy="787.5" r="2.6"/><circle cx="1320.2" cy="782.7" r="2.6"/><circle cx="1341.9" cy="836.5" r="2.6"/><circle cx="1333.2" cy="724.0" r="2.6"/><circle cx="1320.2" cy="805.5" r="2.6"/><circle cx="1324.5" cy="779.0" r="2.6"/><circle cx="1341.9" cy="823.9" r="2.6"/><circle cx="1311.5" cy="819.8" r="2.6"/><circle cx="1350.5" cy="829.0" r="2.6"/><circle cx="1328.8" cy="813.3" r="2.6"/><circle cx="1315.8" cy="814.5" r="2.6"/><circle cx="1337.5" cy="792.1" r="2.6"/><circle cx="1311.5" cy="777.5" r="2.6"/><circle cx="1324.5" cy="794.6" r="2.6"/><circle cx="1328.8" cy="798.6" r="2.6"/><circle cx="1320.2" cy="810.8" r="2.6"/><circle cx="1341.9" cy="734.2" r="2.6"/><circle cx="1333.2" cy="820.7" r="2.6"/><circle cx="1315.8" cy="780.1" r="2.6"/><circle cx="1315.8" cy="872.3" r="2.6"/><circle cx="1311.5" cy="843.3" r="2.6"/><circle cx="1328.8" cy="793.6" r="2.6"/><circle cx="1315.8" cy="819.6" r="2.6"/><circle cx="1328.8" cy="715.0" r="2.6"/><circle cx="1341.9" cy="716.4" r="2.6"/><circle cx="1341.9" cy="844.6" r="2.6"/><circle cx="1315.8" cy="846.3" r="2.6"/><circle cx="1320.2" cy="816.1" r="2.6"/><circle cx="1324.5" cy="756.9" r="2.6"/><circle cx="1324.5" cy="774.9" r="2.6"/><circle cx="1324.5" cy="799.2" r="2.6"/><circle cx="1324.5" cy="851.3" r="2.6"/><circle cx="1337.5" cy="826.2" r="2.6"/><circle cx="1320.2" cy="891.4" r="2.6"/><circle cx="1320.2" cy="857.4" r="2.6"/><circle cx="1324.5" cy="796.1" r="2.6"/><circle cx="1315.8" cy="791.7" r="2.6"/><circle cx="1333.2" cy="842.8" r="2.6"/><circle cx="1324.5" cy="805.6" r="2.6"/><circle cx="1346.2" cy="742.6" r="2.6"/><circle cx="1341.9" cy="791.8" r="2.6"/><circle cx="1320.2" cy="820.9" r="2.6"/><circle cx="1320.2" cy="793.7" r="2.6"/><circle cx="1337.5" cy="783.6" r="2.6"/><circle cx="1328.8" cy="803.4" r="2.6"/><circle cx="1311.5" cy="833.2" r="2.6"/><circle cx="1333.2" cy="815.9" r="2.6"/><circle cx="1324.5" cy="806.1" r="2.6"/><circle cx="1337.5" cy="816.9" r="2.6"/><circle cx="1337.5" cy="758.7" r="2.6"/><circle cx="1346.2" cy="765.7" r="2.6"/><circle cx="1333.2" cy="769.6" r="2.6"/><circle cx="1346.2" cy="729.9" r="2.6"/><circle cx="1320.2" cy="765.0" r="2.6"/><circle cx="1320.2" cy="769.8" r="2.6"/><circle cx="1311.5" cy="807.0" r="2.6"/><circle cx="1341.9" cy="803.0" r="2.6"/><circle cx="1315.8" cy="747.4" r="2.6"/><circle cx="1328.8" cy="826.2" r="2.6"/><circle cx="1328.8" cy="824.6" r="2.6"/><circle cx="1341.9" cy="824.1" r="2.6"/><circle cx="1324.5" cy="802.4" r="2.6"/><circle cx="1315.8" cy="802.5" r="2.6"/><circle cx="1324.5" cy="778.0" r="2.6"/><circle cx="1311.5" cy="824.3" r="2.6"/><circle cx="1320.2" cy="863.2" r="2.6"/><circle cx="1333.2" cy="793.1" r="2.6"/><circle cx="1311.5" cy="789.6" r="2.6"/><circle cx="1350.5" cy="790.0" r="2.6"/><circle cx="1328.8" cy="809.9" r="2.6"/><circle cx="1320.2" cy="795.2" r="2.6"/><circle cx="1341.9" cy="752.2" r="2.6"/><circle cx="1315.8" cy="816.7" r="2.6"/><circle cx="1320.2" cy="853.9" r="2.6"/><circle cx="1346.2" cy="811.8" r="2.6"/><circle cx="1320.2" cy="816.7" r="2.6"/><circle cx="1337.5" cy="855.6" r="2.6"/><circle cx="1311.5" cy="795.5" r="2.6"/><circle cx="1328.8" cy="829.1" r="2.6"/><circle cx="1333.2" cy="787.4" r="2.6"/><circle cx="1315.8" cy="809.1" r="2.6"/><circle cx="1320.2" cy="821.1" r="2.6"/><circle cx="1328.8" cy="756.6" r="2.6"/><circle cx="1328.8" cy="822.9" r="2.6"/><circle cx="1315.8" cy="834.5" r="2.6"/><circle cx="1324.5" cy="800.1" r="2.6"/><circle cx="1350.5" cy="764.3" r="2.6"/><circle cx="1320.2" cy="812.0" r="2.6"/><circle cx="1337.5" cy="830.4" r="2.6"/><circle cx="1315.8" cy="794.6" r="2.6"/><circle cx="1324.5" cy="790.8" r="2.6"/><circle cx="1328.8" cy="743.1" r="2.6"/><circle cx="1328.8" cy="812.6" r="2.6"/><circle cx="1337.5" cy="793.4" r="2.6"/><circle cx="1337.5" cy="817.6" r="2.6"/><circle cx="1333.2" cy="848.5" r="2.6"/><circle cx="1337.5" cy="797.7" r="2.6"/><circle cx="1341.9" cy="770.5" r="2.6"/><circle cx="1320.2" cy="841.9" r="2.6"/><circle cx="1341.9" cy="818.2" r="2.6"/><circle cx="1328.8" cy="841.6" r="2.6"/><circle cx="1320.2" cy="772.2" r="2.6"/><circle cx="1315.8" cy="833.4" r="2.6"/><circle cx="1337.5" cy="782.1" r="2.6"/><circle cx="1333.2" cy="829.5" r="2.6"/><circle cx="1311.5" cy="815.7" r="2.6"/><circle cx="1328.8" cy="824.9" r="2.6"/><circle cx="1311.5" cy="885.8" r="2.6"/><circle cx="1324.5" cy="806.6" r="2.6"/><circle cx="1328.8" cy="790.0" r="2.6"/><circle cx="1333.2" cy="866.8" r="2.6"/><circle cx="1315.8" cy="820.0" r="2.6"/><circle cx="1311.5" cy="830.4" r="2.6"/><circle cx="1328.8" cy="838.6" r="2.6"/><circle cx="1341.9" cy="804.9" r="2.6"/><circle cx="1337.5" cy="860.0" r="2.6"/><circle cx="1324.5" cy="801.5" r="2.6"/><circle cx="1328.8" cy="770.1" r="2.6"/><circle cx="1337.5" cy="839.1" r="2.6"/><circle cx="1341.9" cy="799.1" r="2.6"/><circle cx="1328.8" cy="762.8" r="2.6"/><circle cx="1341.9" cy="793.2" r="2.6"/><circle cx="1320.2" cy="827.3" r="2.6"/><circle cx="1315.8" cy="841.6" r="2.6"/><circle cx="1320.2" cy="806.7" r="2.6"/><circle cx="1337.5" cy="804.2" r="2.6"/><circle cx="1341.9" cy="777.3" r="2.6"/><circle cx="1324.5" cy="854.5" r="2.6"/><circle cx="1333.2" cy="770.1" r="2.6"/><circle cx="1315.8" cy="826.7" r="2.6"/><circle cx="1328.8" cy="786.5" r="2.6"/><circle cx="1324.5" cy="830.6" r="2.6"/><circle cx="1324.5" cy="847.8" r="2.6"/><circle cx="1315.8" cy="831.5" r="2.6"/><circle cx="1333.2" cy="832.2" r="2.6"/><circle cx="1333.2" cy="814.5" r="2.6"/><circle cx="1333.2" cy="783.2" r="2.6"/><circle cx="1337.5" cy="766.7" r="2.6"/><circle cx="1324.5" cy="802.9" r="2.6"/><circle cx="1341.9" cy="814.0" r="2.6"/><circle cx="1328.8" cy="819.7" r="2.6"/><circle cx="1341.9" cy="778.6" r="2.6"/><circle cx="1324.5" cy="774.9" r="2.6"/><circle cx="1333.2" cy="812.9" r="2.6"/><circle cx="1315.8" cy="818.6" r="2.6"/><circle cx="1311.5" cy="839.6" r="2.6"/><circle cx="1346.2" cy="787.6" r="2.6"/><circle cx="1324.5" cy="780.3" r="2.6"/><circle cx="1311.5" cy="902.0" r="2.6"/><circle cx="1333.2" cy="795.2" r="2.6"/><circle cx="1346.2" cy="811.5" r="2.6"/><circle cx="1337.5" cy="872.1" r="2.6"/><circle cx="1350.5" cy="781.1" r="2.6"/><circle cx="1346.2" cy="796.9" r="2.6"/><circle cx="1324.5" cy="797.9" r="2.6"/><circle cx="1320.2" cy="852.4" r="2.6"/><circle cx="1311.5" cy="756.0" r="2.6"/><circle cx="1320.2" cy="808.7" r="2.6"/><circle cx="1333.2" cy="813.5" r="2.6"/><circle cx="1346.2" cy="745.9" r="2.6"/><circle cx="1311.5" cy="799.0" r="2.6"/><circle cx="1341.9" cy="771.0" r="2.6"/><circle cx="1337.5" cy="764.1" r="2.6"/><circle cx="1333.2" cy="866.4" r="2.6"/><circle cx="1315.8" cy="766.0" r="2.6"/><circle cx="1311.5" cy="827.9" r="2.6"/><circle cx="1337.5" cy="791.2" r="2.6"/><circle cx="1333.2" cy="774.8" r="2.6"/><circle cx="1324.5" cy="830.3" r="2.6"/><circle cx="1320.2" cy="802.5" r="2.6"/><circle cx="1311.5" cy="795.8" r="2.6"/><circle cx="1350.5" cy="792.5" r="2.6"/><circle cx="1341.9" cy="781.6" r="2.6"/><circle cx="1350.5" cy="842.4" r="2.6"/><circle cx="1341.9" cy="834.3" r="2.6"/><circle cx="1324.5" cy="843.4" r="2.6"/><circle cx="1341.9" cy="785.5" r="2.6"/><circle cx="1315.8" cy="705.3" r="2.6"/><circle cx="1333.2" cy="795.0" r="2.6"/><circle cx="1320.2" cy="816.3" r="2.6"/><circle cx="1324.5" cy="810.9" r="2.6"/><circle cx="1341.9" cy="766.3" r="2.6"/><circle cx="1324.5" cy="787.6" r="2.6"/><circle cx="1346.2" cy="830.3" r="2.6"/><circle cx="1328.8" cy="775.2" r="2.6"/><circle cx="1320.2" cy="812.6" r="2.6"/><circle cx="1320.2" cy="787.7" r="2.6"/><circle cx="1311.5" cy="875.8" r="2.6"/><circle cx="1328.8" cy="853.1" r="2.6"/><circle cx="1341.9" cy="778.4" r="2.6"/><circle cx="1315.8" cy="867.6" r="2.6"/><circle cx="1324.5" cy="797.3" r="2.6"/><circle cx="1350.5" cy="780.3" r="2.6"/><circle cx="1324.5" cy="804.6" r="2.6"/><circle cx="1346.2" cy="782.9" r="2.6"/><circle cx="1341.9" cy="788.8" r="2.6"/><circle cx="1328.8" cy="792.4" r="2.6"/><circle cx="1333.2" cy="815.5" r="2.6"/><circle cx="1311.5" cy="818.5" r="2.6"/><circle cx="1328.8" cy="717.3" r="2.6"/><circle cx="1337.5" cy="764.9" r="2.6"/><circle cx="1320.2" cy="793.8" r="2.6"/><circle cx="1311.5" cy="806.5" r="2.6"/><circle cx="1311.5" cy="838.9" r="2.6"/><circle cx="1315.8" cy="808.3" r="2.6"/><circle cx="1320.2" cy="819.3" r="2.6"/><circle cx="1337.5" cy="770.8" r="2.6"/><circle cx="1324.5" cy="836.4" r="2.6"/><circle cx="1328.8" cy="877.5" r="2.6"/><circle cx="1320.2" cy="828.5" r="2.6"/><circle cx="1320.2" cy="791.3" r="2.6"/><circle cx="1328.8" cy="731.6" r="2.6"/><circle cx="1337.5" cy="768.3" r="2.6"/><circle cx="1315.8" cy="843.6" r="2.6"/><circle cx="1324.5" cy="815.5" r="2.6"/><circle cx="1333.2" cy="832.1" r="2.6"/><circle cx="1350.5" cy="797.1" r="2.6"/><circle cx="1320.2" cy="838.5" r="2.6"/><circle cx="1324.5" cy="858.2" r="2.6"/><circle cx="1328.8" cy="792.5" r="2.6"/><circle cx="1315.8" cy="809.2" r="2.6"/><circle cx="1333.2" cy="808.2" r="2.6"/><circle cx="1389.5" cy="752.3" r="2.6"/><circle cx="1359.2" cy="718.9" r="2.6"/><circle cx="1367.9" cy="775.3" r="2.6"/><circle cx="1354.9" cy="800.4" r="2.6"/><circle cx="1367.9" cy="750.4" r="2.6"/><circle cx="1389.5" cy="821.7" r="2.6"/><circle cx="1367.9" cy="754.2" r="2.6"/><circle cx="1359.2" cy="810.4" r="2.6"/><circle cx="1363.5" cy="809.1" r="2.6"/><circle cx="1372.2" cy="772.6" r="2.6"/><circle cx="1380.9" cy="713.1" r="2.6"/><circle cx="1367.9" cy="804.0" r="2.6"/><circle cx="1367.9" cy="747.6" r="2.6"/><circle cx="1380.9" cy="757.4" r="2.6"/><circle cx="1354.9" cy="833.0" r="2.6"/><circle cx="1389.5" cy="732.4" r="2.6"/><circle cx="1367.9" cy="806.7" r="2.6"/><circle cx="1363.5" cy="830.6" r="2.6"/><circle cx="1380.9" cy="797.4" r="2.6"/><circle cx="1359.2" cy="808.9" r="2.6"/><circle cx="1354.9" cy="769.1" r="2.6"/><circle cx="1359.2" cy="809.0" r="2.6"/><circle cx="1372.2" cy="726.1" r="2.6"/><circle cx="1354.9" cy="781.0" r="2.6"/><circle cx="1367.9" cy="803.1" r="2.6"/><circle cx="1359.2" cy="812.4" r="2.6"/><circle cx="1367.9" cy="771.7" r="2.6"/><circle cx="1354.9" cy="853.6" r="2.6"/><circle cx="1376.5" cy="847.1" r="2.6"/><circle cx="1385.2" cy="797.9" r="2.6"/><circle cx="1363.5" cy="761.5" r="2.6"/><circle cx="1363.5" cy="776.3" r="2.6"/><circle cx="1372.2" cy="775.5" r="2.6"/><circle cx="1376.5" cy="780.5" r="2.6"/><circle cx="1354.9" cy="858.4" r="2.6"/><circle cx="1372.2" cy="787.2" r="2.6"/><circle cx="1380.9" cy="831.1" r="2.6"/><circle cx="1380.9" cy="741.7" r="2.6"/><circle cx="1363.5" cy="782.5" r="2.6"/><circle cx="1380.9" cy="773.4" r="2.6"/><circle cx="1367.9" cy="766.0" r="2.6"/><circle cx="1359.2" cy="774.7" r="2.6"/><circle cx="1359.2" cy="777.6" r="2.6"/><circle cx="1372.2" cy="764.6" r="2.6"/><circle cx="1367.9" cy="798.8" r="2.6"/><circle cx="1380.9" cy="816.0" r="2.6"/><circle cx="1376.5" cy="761.7" r="2.6"/><circle cx="1359.2" cy="738.1" r="2.6"/><circle cx="1363.5" cy="748.9" r="2.6"/><circle cx="1380.9" cy="777.7" r="2.6"/><circle cx="1367.9" cy="758.9" r="2.6"/><circle cx="1359.2" cy="799.5" r="2.6"/><circle cx="1385.2" cy="754.1" r="2.6"/><circle cx="1367.9" cy="799.4" r="2.6"/><circle cx="1363.5" cy="777.6" r="2.6"/><circle cx="1367.9" cy="712.7" r="2.6"/><circle cx="1359.2" cy="760.0" r="2.6"/><circle cx="1359.2" cy="736.4" r="2.6"/><circle cx="1372.2" cy="802.2" r="2.6"/><circle cx="1380.9" cy="793.8" r="2.6"/><circle cx="1363.5" cy="783.5" r="2.6"/><circle cx="1359.2" cy="767.0" r="2.6"/><circle cx="1367.9" cy="786.2" r="2.6"/><circle cx="1363.5" cy="748.9" r="2.6"/><circle cx="1363.5" cy="800.3" r="2.6"/><circle cx="1359.2" cy="740.9" r="2.6"/><circle cx="1376.5" cy="740.5" r="2.6"/><circle cx="1359.2" cy="821.5" r="2.6"/><circle cx="1354.9" cy="769.4" r="2.6"/><circle cx="1376.5" cy="780.9" r="2.6"/><circle cx="1376.5" cy="738.8" r="2.6"/><circle cx="1359.2" cy="802.7" r="2.6"/><circle cx="1359.2" cy="775.0" r="2.6"/><circle cx="1372.2" cy="757.9" r="2.6"/><circle cx="1385.2" cy="862.5" r="2.6"/><circle cx="1359.2" cy="846.5" r="2.6"/><circle cx="1367.9" cy="775.0" r="2.6"/><circle cx="1359.2" cy="789.3" r="2.6"/><circle cx="1376.5" cy="738.9" r="2.6"/><circle cx="1367.9" cy="771.7" r="2.6"/><circle cx="1363.5" cy="824.0" r="2.6"/><circle cx="1372.2" cy="765.2" r="2.6"/><circle cx="1367.9" cy="804.2" r="2.6"/><circle cx="1359.2" cy="792.7" r="2.6"/><circle cx="1363.5" cy="799.0" r="2.6"/><circle cx="1389.5" cy="752.2" r="2.6"/><circle cx="1380.9" cy="819.0" r="2.6"/><circle cx="1367.9" cy="816.5" r="2.6"/><circle cx="1372.2" cy="850.9" r="2.6"/><circle cx="1354.9" cy="719.0" r="2.6"/><circle cx="1363.5" cy="815.1" r="2.6"/><circle cx="1385.2" cy="797.2" r="2.6"/><circle cx="1359.2" cy="822.8" r="2.6"/><circle cx="1389.5" cy="786.9" r="2.6"/><circle cx="1380.9" cy="785.3" r="2.6"/><circle cx="1376.5" cy="752.5" r="2.6"/><circle cx="1363.5" cy="776.4" r="2.6"/><circle cx="1354.9" cy="777.6" r="2.6"/><circle cx="1359.2" cy="804.4" r="2.6"/><circle cx="1376.5" cy="775.8" r="2.6"/><circle cx="1398.2" cy="715.1" r="2.6"/><circle cx="1402.6" cy="756.3" r="2.6"/><circle cx="1393.9" cy="750.6" r="2.6"/><circle cx="1220.4" cy="962.2" r="2.6"/><circle cx="1242.1" cy="958.3" r="2.6"/><circle cx="1298.5" cy="909.8" r="2.6"/><circle cx="1320.2" cy="902.0" r="2.6"/><circle cx="1328.8" cy="905.9" r="2.6"/><circle cx="1337.5" cy="915.6" r="2.6"/><circle cx="1246.5" cy="764.0" r="2.6"/><circle cx="1246.5" cy="766.0" r="2.6"/><circle cx="1233.5" cy="785.4" r="2.6"/><circle cx="1190.1" cy="841.8" r="2.6"/><circle cx="1376.5" cy="670.8" r="2.6"/><circle cx="1333.2" cy="682.4" r="2.6"/><circle cx="1389.5" cy="680.5" r="2.6"/><circle cx="1359.2" cy="699.9" r="2.6"/><circle cx="1376.5" cy="694.1" r="2.6"/><circle cx="1311.5" cy="715.5" r="2.6"/><circle cx="1272.5" cy="762.1" r="2.6"/><circle cx="1393.9" cy="841.8" r="2.6"/><circle cx="1402.6" cy="781.5" r="2.6"/><circle cx="1099.0" cy="979.7" r="2.6"/></g>
<line x1="1087.0" y1="971.7" x2="1416.0" y2="746.6" stroke="#4d8c8f" stroke-width="2.3" />
<text x="1100.5" y="688.3" font-size="20.3"  letter-spacing="0.23">Intercept 71.9</text>
<text x="1100.5" y="714.7" font-size="20.3" >(21.9–121.9)</text>
<text x="1100.5" y="751.3" font-size="20.3"  letter-spacing="0.13">Slope 15.3</text>
<text x="1100.5" y="777.9" font-size="20.3" >(14.6–16.1)</text>
<text x="1100.5" y="820.5" font-size="20.3" ><tspan font-style="italic">R</tspan><tspan font-size="12.5" dy="-8.5">2</tspan><tspan dy="8.5"> = 0.65</tspan></text>
<text transform="translate(979.0 1139.5) scale(1.16 1)" font-size="29" font-weight="bold" stroke="#000" stroke-width="0.7">d</text>
<line x1="1087.9" y1="1144.0" x2="1087.9" y2="1480.0" stroke="#1a1a1a" stroke-width="1.4" />
<line x1="1087.2" y1="1479.3" x2="1417.0" y2="1479.3" stroke="#1a1a1a" stroke-width="1.4" />
<line x1="1080.0" y1="1162.1" x2="1087.9" y2="1162.1" stroke="#1a1a1a" stroke-width="1.4" />
<text x="1069.3" y="1169.3" text-anchor="end" font-size="20.9" >2,500</text>
<line x1="1080.0" y1="1223.7" x2="1087.9" y2="1223.7" stroke="#1a1a1a" stroke-width="1.4" />
<text x="1069.3" y="1230.9" text-anchor="end" font-size="20.9" >2,000</text>
<line x1="1080.0" y1="1285.0" x2="1087.9" y2="1285.0" stroke="#1a1a1a" stroke-width="1.4" />
<text x="1069.3" y="1292.2" text-anchor="end" font-size="20.9" >1,500</text>
<line x1="1080.0" y1="1346.3" x2="1087.9" y2="1346.3" stroke="#1a1a1a" stroke-width="1.4" />
<text x="1069.3" y="1353.5" text-anchor="end" font-size="20.9" >1,000</text>
<line x1="1080.0" y1="1407.8" x2="1087.9" y2="1407.8" stroke="#1a1a1a" stroke-width="1.4" />
<text x="1069.3" y="1415.0" text-anchor="end" font-size="20.9" >500</text>
<line x1="1080.0" y1="1469.4" x2="1087.9" y2="1469.4" stroke="#1a1a1a" stroke-width="1.4" />
<text x="1069.3" y="1476.6" text-anchor="end" font-size="20.9" >0</text>
<line x1="1095.9" y1="1479.3" x2="1095.9" y2="1488.8" stroke="#1a1a1a" stroke-width="1.4" />
<text x="1095.9" y="1511.8" text-anchor="middle" font-size="20.9" >20</text>
<line x1="1139.3" y1="1479.3" x2="1139.3" y2="1488.8" stroke="#1a1a1a" stroke-width="1.4" />
<text x="1139.3" y="1511.8" text-anchor="middle" font-size="20.9" >30</text>
<line x1="1182.7" y1="1479.3" x2="1182.7" y2="1488.8" stroke="#1a1a1a" stroke-width="1.4" />
<text x="1182.7" y="1511.8" text-anchor="middle" font-size="20.9" >40</text>
<line x1="1226.1" y1="1479.3" x2="1226.1" y2="1488.8" stroke="#1a1a1a" stroke-width="1.4" />
<text x="1226.1" y="1511.8" text-anchor="middle" font-size="20.9" >50</text>
<line x1="1269.5" y1="1479.3" x2="1269.5" y2="1488.8" stroke="#1a1a1a" stroke-width="1.4" />
<text x="1269.5" y="1511.8" text-anchor="middle" font-size="20.9" >60</text>
<line x1="1313.0" y1="1479.3" x2="1313.0" y2="1488.8" stroke="#1a1a1a" stroke-width="1.4" />
<text x="1313.0" y="1511.8" text-anchor="middle" font-size="20.9" >70</text>
<line x1="1356.4" y1="1479.3" x2="1356.4" y2="1488.8" stroke="#1a1a1a" stroke-width="1.4" />
<text x="1356.4" y="1511.8" text-anchor="middle" font-size="20.9" >80</text>
<line x1="1399.8" y1="1479.3" x2="1399.8" y2="1488.8" stroke="#1a1a1a" stroke-width="1.4" />
<text x="1399.8" y="1511.8" text-anchor="middle" font-size="20.9" >90</text>
<text x="1251.8" y="1547.0" text-anchor="middle" font-size="20.9"  letter-spacing="-0.55">Age (years)</text>
<text x="996.8" y="1312.3" text-anchor="middle" font-size="20.9" transform="rotate(-90 996.8 1312.3)"  letter-spacing="0.16">Signature B burden</text>
<g fill="#333333"><circle cx="1117.6" cy="1459.5" r="2.7"/><circle cx="1334.7" cy="1450.6" r="2.7"/><circle cx="1174.0" cy="1446.0" r="2.7"/><circle cx="1234.8" cy="1453.9" r="2.7"/><circle cx="1382.4" cy="1456.3" r="2.7"/><circle cx="1256.5" cy="1465.1" r="2.7"/><circle cx="1343.3" cy="1450.1" r="2.7"/><circle cx="1321.6" cy="1442.6" r="2.7"/><circle cx="1317.3" cy="1460.9" r="2.7"/><circle cx="1221.8" cy="1462.1" r="2.7"/><circle cx="1195.7" cy="1455.8" r="2.7"/><circle cx="1326.0" cy="1416.6" r="2.7"/><circle cx="1334.7" cy="1450.0" r="2.7"/><circle cx="1230.5" cy="1462.1" r="2.7"/><circle cx="1217.4" cy="1455.7" r="2.7"/><circle cx="1243.5" cy="1461.6" r="2.7"/><circle cx="1339.0" cy="1454.0" r="2.7"/><circle cx="1343.3" cy="1455.3" r="2.7"/><circle cx="1295.6" cy="1458.8" r="2.7"/><circle cx="1317.3" cy="1429.4" r="2.7"/><circle cx="1100.2" cy="1464.1" r="2.7"/><circle cx="1213.1" cy="1447.5" r="2.7"/><circle cx="1339.0" cy="1448.9" r="2.7"/><circle cx="1313.0" cy="1458.3" r="2.7"/><circle cx="1269.5" cy="1461.8" r="2.7"/><circle cx="1313.0" cy="1444.9" r="2.7"/><circle cx="1378.1" cy="1451.1" r="2.7"/><circle cx="1208.8" cy="1427.4" r="2.7"/><circle cx="1334.7" cy="1454.2" r="2.7"/><circle cx="1317.3" cy="1453.2" r="2.7"/><circle cx="1273.9" cy="1447.1" r="2.7"/><circle cx="1278.2" cy="1418.5" r="2.7"/><circle cx="1334.7" cy="1447.8" r="2.7"/><circle cx="1317.3" cy="1460.0" r="2.7"/><circle cx="1265.2" cy="1460.8" r="2.7"/><circle cx="1239.2" cy="1430.4" r="2.7"/><circle cx="1187.1" cy="1451.0" r="2.7"/><circle cx="1273.9" cy="1450.9" r="2.7"/><circle cx="1330.3" cy="1433.9" r="2.7"/><circle cx="1356.4" cy="1439.9" r="2.7"/><circle cx="1200.1" cy="1458.9" r="2.7"/><circle cx="1169.7" cy="1437.7" r="2.7"/><circle cx="1243.5" cy="1441.5" r="2.7"/><circle cx="1187.1" cy="1438.7" r="2.7"/><circle cx="1182.7" cy="1419.0" r="2.7"/><circle cx="1343.3" cy="1458.5" r="2.7"/><circle cx="1243.5" cy="1454.1" r="2.7"/><circle cx="1108.9" cy="1466.1" r="2.7"/><circle cx="1326.0" cy="1454.4" r="2.7"/><circle cx="1304.3" cy="1440.4" r="2.7"/><circle cx="1369.4" cy="1448.6" r="2.7"/><circle cx="1308.6" cy="1458.8" r="2.7"/><circle cx="1265.2" cy="1445.8" r="2.7"/><circle cx="1273.9" cy="1454.2" r="2.7"/><circle cx="1299.9" cy="1453.6" r="2.7"/><circle cx="1360.7" cy="1458.8" r="2.7"/><circle cx="1161.0" cy="1452.2" r="2.7"/><circle cx="1169.7" cy="1451.2" r="2.7"/><circle cx="1217.4" cy="1455.1" r="2.7"/><circle cx="1208.8" cy="1462.9" r="2.7"/><circle cx="1100.2" cy="1463.2" r="2.7"/><circle cx="1148.0" cy="1447.3" r="2.7"/><circle cx="1304.3" cy="1443.2" r="2.7"/><circle cx="1299.9" cy="1439.0" r="2.7"/><circle cx="1347.7" cy="1444.0" r="2.7"/><circle cx="1347.7" cy="1423.4" r="2.7"/><circle cx="1286.9" cy="1458.2" r="2.7"/><circle cx="1360.7" cy="1447.5" r="2.7"/><circle cx="1273.9" cy="1457.6" r="2.7"/><circle cx="1304.3" cy="1452.4" r="2.7"/><circle cx="1100.2" cy="1465.1" r="2.7"/><circle cx="1204.4" cy="1455.8" r="2.7"/><circle cx="1256.5" cy="1449.3" r="2.7"/><circle cx="1156.7" cy="1454.3" r="2.7"/><circle cx="1360.7" cy="1452.2" r="2.7"/><circle cx="1326.0" cy="1460.8" r="2.7"/><circle cx="1321.6" cy="1458.6" r="2.7"/><circle cx="1291.2" cy="1455.8" r="2.7"/><circle cx="1321.6" cy="1437.4" r="2.7"/><circle cx="1256.5" cy="1292.5" r="2.7"/><circle cx="1308.6" cy="1456.0" r="2.7"/><circle cx="1291.2" cy="1459.5" r="2.7"/><circle cx="1369.4" cy="1437.6" r="2.7"/><circle cx="1291.2" cy="1433.0" r="2.7"/><circle cx="1239.2" cy="1458.5" r="2.7"/><circle cx="1317.3" cy="1461.5" r="2.7"/><circle cx="1291.2" cy="1456.3" r="2.7"/><circle cx="1330.3" cy="1452.7" r="2.7"/><circle cx="1321.6" cy="1462.7" r="2.7"/><circle cx="1243.5" cy="1454.9" r="2.7"/><circle cx="1273.9" cy="1460.3" r="2.7"/><circle cx="1313.0" cy="1452.3" r="2.7"/><circle cx="1135.0" cy="1454.4" r="2.7"/><circle cx="1182.7" cy="1405.5" r="2.7"/><circle cx="1139.3" cy="1461.4" r="2.7"/><circle cx="1291.2" cy="1454.9" r="2.7"/><circle cx="1165.4" cy="1457.0" r="2.7"/><circle cx="1321.6" cy="1448.5" r="2.7"/><circle cx="1178.4" cy="1455.9" r="2.7"/><circle cx="1343.3" cy="1457.8" r="2.7"/><circle cx="1308.6" cy="1457.5" r="2.7"/><circle cx="1152.3" cy="1454.9" r="2.7"/><circle cx="1295.6" cy="1447.4" r="2.7"/><circle cx="1326.0" cy="1455.7" r="2.7"/><circle cx="1278.2" cy="1451.1" r="2.7"/><circle cx="1148.0" cy="1449.2" r="2.7"/><circle cx="1378.1" cy="1426.1" r="2.7"/><circle cx="1382.4" cy="1449.8" r="2.7"/><circle cx="1204.4" cy="1460.9" r="2.7"/><circle cx="1204.4" cy="1450.2" r="2.7"/><circle cx="1343.3" cy="1449.7" r="2.7"/><circle cx="1247.8" cy="1437.6" r="2.7"/><circle cx="1321.6" cy="1455.9" r="2.7"/><circle cx="1295.6" cy="1407.6" r="2.7"/><circle cx="1382.4" cy="1455.2" r="2.7"/><circle cx="1286.9" cy="1453.6" r="2.7"/><circle cx="1365.0" cy="1433.6" r="2.7"/><circle cx="1230.5" cy="1459.7" r="2.7"/><circle cx="1217.4" cy="1454.1" r="2.7"/><circle cx="1321.6" cy="1457.6" r="2.7"/><circle cx="1230.5" cy="1456.0" r="2.7"/><circle cx="1291.2" cy="1456.9" r="2.7"/><circle cx="1382.4" cy="1456.8" r="2.7"/><circle cx="1278.2" cy="1450.4" r="2.7"/><circle cx="1169.7" cy="1459.9" r="2.7"/><circle cx="1243.5" cy="1459.8" r="2.7"/><circle cx="1269.5" cy="1435.0" r="2.7"/><circle cx="1360.7" cy="1443.4" r="2.7"/><circle cx="1169.7" cy="1426.7" r="2.7"/><circle cx="1291.2" cy="1443.0" r="2.7"/><circle cx="1265.2" cy="1455.3" r="2.7"/><circle cx="1308.6" cy="1461.2" r="2.7"/><circle cx="1260.9" cy="1462.2" r="2.7"/><circle cx="1295.6" cy="1455.5" r="2.7"/><circle cx="1330.3" cy="1450.1" r="2.7"/><circle cx="1226.1" cy="1455.7" r="2.7"/><circle cx="1326.0" cy="1461.1" r="2.7"/><circle cx="1321.6" cy="1430.7" r="2.7"/><circle cx="1347.7" cy="1445.4" r="2.7"/><circle cx="1386.7" cy="1450.9" r="2.7"/><circle cx="1330.3" cy="1455.2" r="2.7"/><circle cx="1221.8" cy="1456.1" r="2.7"/><circle cx="1373.7" cy="1454.3" r="2.7"/><circle cx="1334.7" cy="1447.2" r="2.7"/><circle cx="1273.9" cy="1437.5" r="2.7"/><circle cx="1187.1" cy="1457.5" r="2.7"/><circle cx="1308.6" cy="1455.0" r="2.7"/><circle cx="1135.0" cy="1460.1" r="2.7"/><circle cx="1330.3" cy="1439.9" r="2.7"/><circle cx="1321.6" cy="1460.7" r="2.7"/><circle cx="1234.8" cy="1454.9" r="2.7"/><circle cx="1313.0" cy="1436.6" r="2.7"/><circle cx="1200.1" cy="1425.1" r="2.7"/><circle cx="1156.7" cy="1460.7" r="2.7"/><circle cx="1326.0" cy="1453.4" r="2.7"/><circle cx="1317.3" cy="1436.6" r="2.7"/><circle cx="1286.9" cy="1449.7" r="2.7"/><circle cx="1156.7" cy="1461.7" r="2.7"/><circle cx="1313.0" cy="1435.8" r="2.7"/><circle cx="1226.1" cy="1451.3" r="2.7"/><circle cx="1308.6" cy="1448.3" r="2.7"/><circle cx="1108.9" cy="1464.8" r="2.7"/><circle cx="1165.4" cy="1460.4" r="2.7"/><circle cx="1339.0" cy="1440.8" r="2.7"/><circle cx="1317.3" cy="1452.2" r="2.7"/><circle cx="1304.3" cy="1456.9" r="2.7"/><circle cx="1269.5" cy="1447.5" r="2.7"/><circle cx="1117.6" cy="1457.3" r="2.7"/><circle cx="1161.0" cy="1459.0" r="2.7"/><circle cx="1269.5" cy="1449.0" r="2.7"/><circle cx="1213.1" cy="1455.6" r="2.7"/><circle cx="1378.1" cy="1457.7" r="2.7"/><circle cx="1304.3" cy="1451.2" r="2.7"/><circle cx="1360.7" cy="1455.8" r="2.7"/><circle cx="1204.4" cy="1450.7" r="2.7"/><circle cx="1217.4" cy="1452.8" r="2.7"/><circle cx="1269.5" cy="1460.1" r="2.7"/><circle cx="1282.6" cy="1441.7" r="2.7"/><circle cx="1334.7" cy="1448.8" r="2.7"/><circle cx="1269.5" cy="1459.4" r="2.7"/><circle cx="1334.7" cy="1453.9" r="2.7"/><circle cx="1182.7" cy="1457.7" r="2.7"/><circle cx="1308.6" cy="1454.9" r="2.7"/><circle cx="1334.7" cy="1447.4" r="2.7"/><circle cx="1339.0" cy="1453.9" r="2.7"/><circle cx="1343.3" cy="1459.1" r="2.7"/><circle cx="1347.7" cy="1444.1" r="2.7"/><circle cx="1321.6" cy="1460.6" r="2.7"/><circle cx="1260.9" cy="1414.6" r="2.7"/><circle cx="1161.0" cy="1457.5" r="2.7"/><circle cx="1373.7" cy="1437.8" r="2.7"/><circle cx="1156.7" cy="1456.6" r="2.7"/><circle cx="1360.7" cy="1453.1" r="2.7"/><circle cx="1104.6" cy="1467.6" r="2.7"/><circle cx="1369.4" cy="1440.3" r="2.7"/><circle cx="1282.6" cy="1452.9" r="2.7"/><circle cx="1339.0" cy="1444.1" r="2.7"/><circle cx="1299.9" cy="1452.9" r="2.7"/><circle cx="1156.7" cy="1461.1" r="2.7"/><circle cx="1221.8" cy="1461.9" r="2.7"/><circle cx="1382.4" cy="1438.8" r="2.7"/><circle cx="1126.3" cy="1452.3" r="2.7"/><circle cx="1273.9" cy="1434.1" r="2.7"/><circle cx="1339.0" cy="1435.0" r="2.7"/><circle cx="1295.6" cy="1455.1" r="2.7"/><circle cx="1217.4" cy="1458.1" r="2.7"/><circle cx="1265.2" cy="1446.8" r="2.7"/><circle cx="1152.3" cy="1459.5" r="2.7"/><circle cx="1191.4" cy="1461.8" r="2.7"/><circle cx="1321.6" cy="1459.4" r="2.7"/><circle cx="1178.4" cy="1459.2" r="2.7"/><circle cx="1343.3" cy="1442.1" r="2.7"/><circle cx="1308.6" cy="1460.0" r="2.7"/><circle cx="1339.0" cy="1458.2" r="2.7"/><circle cx="1334.7" cy="1455.5" r="2.7"/><circle cx="1365.0" cy="1452.4" r="2.7"/><circle cx="1343.3" cy="1444.3" r="2.7"/><circle cx="1104.6" cy="1462.9" r="2.7"/><circle cx="1269.5" cy="1435.1" r="2.7"/><circle cx="1269.5" cy="1464.2" r="2.7"/><circle cx="1182.7" cy="1462.3" r="2.7"/><circle cx="1330.3" cy="1445.3" r="2.7"/><circle cx="1256.5" cy="1458.9" r="2.7"/><circle cx="1317.3" cy="1444.6" r="2.7"/><circle cx="1169.7" cy="1459.9" r="2.7"/><circle cx="1230.5" cy="1457.3" r="2.7"/><circle cx="1334.7" cy="1456.1" r="2.7"/><circle cx="1247.8" cy="1451.6" r="2.7"/><circle cx="1330.3" cy="1448.6" r="2.7"/><circle cx="1313.0" cy="1459.0" r="2.7"/><circle cx="1139.3" cy="1455.2" r="2.7"/><circle cx="1382.4" cy="1457.1" r="2.7"/><circle cx="1313.0" cy="1439.1" r="2.7"/><circle cx="1256.5" cy="1448.4" r="2.7"/><circle cx="1282.6" cy="1453.4" r="2.7"/><circle cx="1286.9" cy="1454.5" r="2.7"/><circle cx="1330.3" cy="1434.4" r="2.7"/><circle cx="1339.0" cy="1446.0" r="2.7"/><circle cx="1299.9" cy="1455.6" r="2.7"/><circle cx="1269.5" cy="1450.4" r="2.7"/><circle cx="1152.3" cy="1455.6" r="2.7"/><circle cx="1334.7" cy="1461.5" r="2.7"/><circle cx="1100.2" cy="1450.8" r="2.7"/><circle cx="1143.7" cy="1460.6" r="2.7"/><circle cx="1269.5" cy="1446.5" r="2.7"/><circle cx="1265.2" cy="1454.7" r="2.7"/><circle cx="1308.6" cy="1437.5" r="2.7"/><circle cx="1291.2" cy="1455.0" r="2.7"/><circle cx="1187.1" cy="1450.7" r="2.7"/><circle cx="1326.0" cy="1443.9" r="2.7"/><circle cx="1187.1" cy="1453.6" r="2.7"/><circle cx="1304.3" cy="1442.4" r="2.7"/><circle cx="1135.0" cy="1462.8" r="2.7"/><circle cx="1334.7" cy="1445.0" r="2.7"/><circle cx="1308.6" cy="1446.7" r="2.7"/><circle cx="1360.7" cy="1458.3" r="2.7"/><circle cx="1321.6" cy="1448.4" r="2.7" class="p"/><circle cx="1286.9" cy="1455.3" r="2.7" class="p"/><circle cx="1234.8" cy="1441.5" r="2.7"/><circle cx="1256.5" cy="1451.0" r="2.7" class="p"/><circle cx="1339.0" cy="1425.3" r="2.7" class="p"/><circle cx="1278.2" cy="1462.4" r="2.7"/><circle cx="1278.2" cy="1454.9" r="2.7"/><circle cx="1326.0" cy="1444.4" r="2.7"/><circle cx="1243.5" cy="1463.7" r="2.7"/><circle cx="1304.3" cy="1454.2" r="2.7"/><circle cx="1330.3" cy="1448.6" r="2.7"/><circle cx="1321.6" cy="1452.6" r="2.7" class="p"/><circle cx="1226.1" cy="1444.9" r="2.7" class="p"/><circle cx="1260.9" cy="1454.0" r="2.7" class="p"/><circle cx="1282.6" cy="1427.2" r="2.7" class="p"/><circle cx="1191.4" cy="1461.9" r="2.7"/><circle cx="1321.6" cy="1445.2" r="2.7" class="p"/><circle cx="1265.2" cy="1455.9" r="2.7"/><circle cx="1339.0" cy="1324.7" r="2.7"/><circle cx="1243.5" cy="1258.1" r="2.7" class="p"/><circle cx="1382.4" cy="1439.6" r="2.7" class="p"/><circle cx="1321.6" cy="1433.2" r="2.7"/><circle cx="1252.2" cy="1446.0" r="2.7"/><circle cx="1282.6" cy="1451.9" r="2.7"/><circle cx="1252.2" cy="1445.8" r="2.7"/><circle cx="1326.0" cy="1423.3" r="2.7" class="p"/><circle cx="1356.4" cy="1439.5" r="2.7" class="p"/><circle cx="1334.7" cy="1452.5" r="2.7"/><circle cx="1278.2" cy="1453.1" r="2.7"/><circle cx="1273.9" cy="1414.6" r="2.7" class="p"/><circle cx="1343.3" cy="1451.6" r="2.7" class="p"/><circle cx="1156.7" cy="1452.3" r="2.7"/><circle cx="1304.3" cy="1450.8" r="2.7"/><circle cx="1282.6" cy="1447.9" r="2.7" class="p"/><circle cx="1339.0" cy="1454.1" r="2.7" class="p"/><circle cx="1308.6" cy="1441.4" r="2.7" class="p"/><circle cx="1343.3" cy="1447.6" r="2.7"/><circle cx="1252.2" cy="1454.1" r="2.7"/><circle cx="1295.6" cy="1454.9" r="2.7" class="p"/><circle cx="1326.0" cy="1435.8" r="2.7" class="p"/><circle cx="1295.6" cy="1256.0" r="2.7" class="p"/><circle cx="1321.6" cy="1457.9" r="2.7"/><circle cx="1352.0" cy="1409.7" r="2.7" class="p"/><circle cx="1260.9" cy="1461.6" r="2.7"/><circle cx="1317.3" cy="1453.2" r="2.7"/><circle cx="1234.8" cy="1459.6" r="2.7"/><circle cx="1321.6" cy="1436.6" r="2.7" class="p"/><circle cx="1256.5" cy="1389.7" r="2.7" class="p"/><circle cx="1308.6" cy="1456.6" r="2.7"/><circle cx="1174.0" cy="1459.2" r="2.7"/><circle cx="1213.1" cy="1443.2" r="2.7" class="p"/><circle cx="1217.4" cy="1460.8" r="2.7"/><circle cx="1373.7" cy="1450.6" r="2.7" class="p"/><circle cx="1226.1" cy="1428.0" r="2.7" class="p"/><circle cx="1360.7" cy="1448.5" r="2.7"/><circle cx="1243.5" cy="1451.4" r="2.7"/><circle cx="1347.7" cy="1454.1" r="2.7" class="p"/><circle cx="1208.8" cy="1460.7" r="2.7"/><circle cx="1330.3" cy="1452.8" r="2.7" class="p"/><circle cx="1282.6" cy="1450.1" r="2.7" class="p"/><circle cx="1313.0" cy="1443.1" r="2.7" class="p"/><circle cx="1352.0" cy="1434.0" r="2.7"/><circle cx="1360.7" cy="1435.8" r="2.7" class="p"/><circle cx="1156.7" cy="1458.0" r="2.7"/><circle cx="1265.2" cy="1442.4" r="2.7"/><circle cx="1252.2" cy="1425.6" r="2.7" class="p"/><circle cx="1330.3" cy="1461.2" r="2.7"/><circle cx="1321.6" cy="1453.2" r="2.7"/><circle cx="1308.6" cy="1447.1" r="2.7" class="p"/><circle cx="1286.9" cy="1452.8" r="2.7" class="p"/><circle cx="1291.2" cy="1455.6" r="2.7"/><circle cx="1282.6" cy="1442.0" r="2.7"/><circle cx="1308.6" cy="1425.5" r="2.7" class="p"/><circle cx="1221.8" cy="1462.4" r="2.7"/><circle cx="1326.0" cy="1293.6" r="2.7" class="p"/><circle cx="1265.2" cy="1442.0" r="2.7" class="p"/><circle cx="1299.9" cy="1443.6" r="2.7"/><circle cx="1247.8" cy="1379.7" r="2.7" class="p"/><circle cx="1304.3" cy="1451.6" r="2.7"/><circle cx="1182.7" cy="1457.2" r="2.7"/><circle cx="1121.9" cy="1466.1" r="2.7"/><circle cx="1304.3" cy="1459.8" r="2.7"/><circle cx="1321.6" cy="1447.4" r="2.7" class="p"/><circle cx="1265.2" cy="1457.5" r="2.7"/><circle cx="1308.6" cy="1435.8" r="2.7" class="p"/><circle cx="1304.3" cy="1448.4" r="2.7"/><circle cx="1291.2" cy="1454.1" r="2.7" class="p"/><circle cx="1330.3" cy="1448.3" r="2.7" class="p"/><circle cx="1295.6" cy="1449.9" r="2.7"/><circle cx="1143.7" cy="1458.3" r="2.7"/><circle cx="1313.0" cy="1438.2" r="2.7" class="p"/><circle cx="1113.3" cy="1461.5" r="2.7"/><circle cx="1213.1" cy="1454.6" r="2.7" class="p"/><circle cx="1317.3" cy="1445.8" r="2.7" class="p"/><circle cx="1360.7" cy="1459.0" r="2.7"/><circle cx="1321.6" cy="1443.5" r="2.7"/><circle cx="1365.0" cy="1459.2" r="2.7"/><circle cx="1326.0" cy="1230.1" r="2.7" class="p"/><circle cx="1308.6" cy="1415.9" r="2.7" class="p"/><circle cx="1282.6" cy="1450.3" r="2.7" class="p"/><circle cx="1291.2" cy="1457.7" r="2.7"/><circle cx="1135.0" cy="1460.8" r="2.7"/><circle cx="1256.5" cy="1433.4" r="2.7" class="p"/><circle cx="1291.2" cy="1458.2" r="2.7"/><circle cx="1356.4" cy="1441.5" r="2.7" class="p"/><circle cx="1308.6" cy="1459.1" r="2.7" class="p"/><circle cx="1334.7" cy="1454.2" r="2.7" class="p"/><circle cx="1347.7" cy="1448.3" r="2.7" class="p"/><circle cx="1269.5" cy="1452.6" r="2.7" class="p"/><circle cx="1239.2" cy="1440.8" r="2.7"/><circle cx="1291.2" cy="1449.3" r="2.7" class="p"/><circle cx="1208.8" cy="1453.2" r="2.7"/><circle cx="1217.4" cy="1441.7" r="2.7" class="p"/><circle cx="1321.6" cy="1454.6" r="2.7" class="p"/><circle cx="1278.2" cy="1352.5" r="2.7" class="p"/><circle cx="1395.4" cy="1455.3" r="2.7" class="p"/><circle cx="1239.2" cy="1453.2" r="2.7"/><circle cx="1299.9" cy="1457.5" r="2.7"/><circle cx="1113.3" cy="1460.1" r="2.7"/><circle cx="1317.3" cy="1447.9" r="2.7" class="p"/><circle cx="1291.2" cy="1422.2" r="2.7" class="p"/><circle cx="1234.8" cy="1464.9" r="2.7"/><circle cx="1369.4" cy="1437.4" r="2.7" class="p"/><circle cx="1299.9" cy="1435.0" r="2.7"/><circle cx="1161.0" cy="1457.5" r="2.7"/><circle cx="1230.5" cy="1449.0" r="2.7" class="p"/><circle cx="1321.6" cy="1442.6" r="2.7" class="p"/><circle cx="1273.9" cy="1460.2" r="2.7"/><circle cx="1343.3" cy="1427.9" r="2.7" class="p"/><circle cx="1313.0" cy="1461.7" r="2.7"/><circle cx="1339.0" cy="1452.5" r="2.7" class="p"/><circle cx="1339.0" cy="1370.3" r="2.7" class="p"/><circle cx="1321.6" cy="1434.9" r="2.7"/><circle cx="1260.9" cy="1460.2" r="2.7"/><circle cx="1308.6" cy="1444.3" r="2.7" class="p"/><circle cx="1378.1" cy="1432.4" r="2.7"/><circle cx="1208.8" cy="1453.4" r="2.7"/><circle cx="1265.2" cy="1452.5" r="2.7"/><circle cx="1378.1" cy="1446.4" r="2.7" class="p"/><circle cx="1234.8" cy="1448.7" r="2.7" class="p"/><circle cx="1308.6" cy="1455.5" r="2.7"/><circle cx="1204.4" cy="1454.5" r="2.7"/><circle cx="1308.6" cy="1447.6" r="2.7"/><circle cx="1334.7" cy="1439.9" r="2.7"/><circle cx="1369.4" cy="1425.1" r="2.7"/><circle cx="1347.7" cy="1441.4" r="2.7" class="p"/><circle cx="1273.9" cy="1455.8" r="2.7"/><circle cx="1217.4" cy="1457.0" r="2.7"/><circle cx="1382.4" cy="1458.5" r="2.7"/><circle cx="1226.1" cy="1457.5" r="2.7" class="p"/><circle cx="1317.3" cy="1415.2" r="2.7" class="p"/><circle cx="1260.9" cy="1458.7" r="2.7"/><circle cx="1239.2" cy="1416.0" r="2.7" class="p"/><circle cx="1256.5" cy="1454.9" r="2.7" class="p"/><circle cx="1308.6" cy="1457.3" r="2.7"/><circle cx="1230.5" cy="1441.2" r="2.7" class="p"/><circle cx="1373.7" cy="1449.5" r="2.7" class="p"/><circle cx="1243.5" cy="1461.8" r="2.7"/><circle cx="1308.6" cy="1450.5" r="2.7"/><circle cx="1347.7" cy="1452.0" r="2.7"/><circle cx="1295.6" cy="1456.7" r="2.7"/><circle cx="1369.4" cy="1445.1" r="2.7" class="p"/><circle cx="1360.7" cy="1453.5" r="2.7" class="p"/><circle cx="1308.6" cy="1431.2" r="2.7" class="p"/><circle cx="1221.8" cy="1324.0" r="2.7" class="p"/><circle cx="1230.5" cy="1441.9" r="2.7"/><circle cx="1295.6" cy="1432.3" r="2.7" class="p"/><circle cx="1313.0" cy="1427.4" r="2.7" class="p"/><circle cx="1295.6" cy="1443.4" r="2.7"/><circle cx="1334.7" cy="1451.3" r="2.7"/><circle cx="1165.4" cy="1461.3" r="2.7"/><circle cx="1273.9" cy="1446.8" r="2.7" class="p"/><circle cx="1156.7" cy="1461.9" r="2.7"/><circle cx="1252.2" cy="1457.9" r="2.7"/><circle cx="1265.2" cy="1459.3" r="2.7"/><circle cx="1391.1" cy="1432.9" r="2.7"/><circle cx="1330.3" cy="1444.4" r="2.7"/><circle cx="1326.0" cy="1448.1" r="2.7" class="p"/><circle cx="1161.0" cy="1461.4" r="2.7"/><circle cx="1321.6" cy="1446.9" r="2.7"/><circle cx="1243.5" cy="1464.3" r="2.7" class="p"/><circle cx="1343.3" cy="1440.9" r="2.7"/><circle cx="1343.3" cy="1447.4" r="2.7"/><circle cx="1269.5" cy="1419.2" r="2.7" class="p"/><circle cx="1317.3" cy="1406.1" r="2.7" class="p"/><circle cx="1304.3" cy="1439.6" r="2.7"/><circle cx="1239.2" cy="1448.7" r="2.7"/><circle cx="1326.0" cy="1459.5" r="2.7"/><circle cx="1308.6" cy="1454.5" r="2.7" class="p"/><circle cx="1139.3" cy="1461.0" r="2.7"/><circle cx="1247.8" cy="1454.1" r="2.7"/><circle cx="1148.0" cy="1464.3" r="2.7"/><circle cx="1265.2" cy="1408.3" r="2.7" class="p"/><circle cx="1339.0" cy="1448.1" r="2.7"/><circle cx="1321.6" cy="1460.8" r="2.7" class="p"/><circle cx="1295.6" cy="1454.8" r="2.7" class="p"/><circle cx="1260.9" cy="1441.2" r="2.7" class="p"/><circle cx="1252.2" cy="1450.1" r="2.7" class="p"/><circle cx="1291.2" cy="1423.7" r="2.7" class="p"/><circle cx="1299.9" cy="1443.7" r="2.7" class="p"/><circle cx="1265.2" cy="1448.7" r="2.7" class="p"/><circle cx="1100.2" cy="1464.5" r="2.7"/><circle cx="1308.6" cy="1462.5" r="2.7"/><circle cx="1343.3" cy="1444.6" r="2.7" class="p"/><circle cx="1391.1" cy="1442.8" r="2.7" class="p"/><circle cx="1226.1" cy="1452.2" r="2.7"/><circle cx="1282.6" cy="1451.5" r="2.7" class="p"/><circle cx="1386.7" cy="1445.1" r="2.7" class="p"/><circle cx="1273.9" cy="1457.3" r="2.7"/><circle cx="1243.5" cy="1452.6" r="2.7"/><circle cx="1317.3" cy="1449.1" r="2.7" class="p"/><circle cx="1200.1" cy="1455.4" r="2.7"/><circle cx="1321.6" cy="1454.7" r="2.7"/><circle cx="1317.3" cy="1452.5" r="2.7"/><circle cx="1282.6" cy="1448.8" r="2.7"/><circle cx="1321.6" cy="1423.4" r="2.7" class="p"/><circle cx="1326.0" cy="1445.7" r="2.7" class="p"/><circle cx="1304.3" cy="1459.1" r="2.7" class="p"/><circle cx="1252.2" cy="1450.7" r="2.7" class="p"/><circle cx="1365.0" cy="1457.5" r="2.7" class="p"/><circle cx="1239.2" cy="1441.0" r="2.7" class="p"/><circle cx="1360.7" cy="1454.3" r="2.7" class="p"/><circle cx="1334.7" cy="1397.5" r="2.7"/><circle cx="1282.6" cy="1447.0" r="2.7"/><circle cx="1152.3" cy="1458.8" r="2.7"/><circle cx="1295.6" cy="1426.4" r="2.7" class="p"/><circle cx="1295.6" cy="1455.9" r="2.7" class="p"/><circle cx="1326.0" cy="1446.2" r="2.7" class="p"/><circle cx="1156.7" cy="1447.3" r="2.7" class="p"/><circle cx="1308.6" cy="1447.6" r="2.7" class="p"/><circle cx="1321.6" cy="1428.8" r="2.7"/><circle cx="1278.2" cy="1443.6" r="2.7"/><circle cx="1326.0" cy="1453.6" r="2.7" class="p"/><circle cx="1304.3" cy="1461.1" r="2.7"/><circle cx="1117.6" cy="1462.4" r="2.7"/><circle cx="1278.2" cy="1454.2" r="2.7" class="p"/><circle cx="1234.8" cy="1442.8" r="2.7"/><circle cx="1365.0" cy="1430.1" r="2.7" class="p"/><circle cx="1152.3" cy="1462.8" r="2.7"/><circle cx="1239.2" cy="1442.0" r="2.7"/><circle cx="1347.7" cy="1430.4" r="2.7" class="p"/><circle cx="1278.2" cy="1428.5" r="2.7" class="p"/><circle cx="1313.0" cy="1458.2" r="2.7" class="p"/><circle cx="1252.2" cy="1448.6" r="2.7" class="p"/><circle cx="1334.7" cy="1460.9" r="2.7"/><circle cx="1326.0" cy="1450.8" r="2.7" class="p"/><circle cx="1317.3" cy="1444.1" r="2.7" class="p"/><circle cx="1334.7" cy="1437.2" r="2.7" class="p"/><circle cx="1356.4" cy="1452.5" r="2.7"/><circle cx="1321.6" cy="1157.1" r="2.7" class="p"/><circle cx="1243.5" cy="1445.4" r="2.7" class="p"/><circle cx="1373.7" cy="1456.1" r="2.7" class="p"/><circle cx="1326.0" cy="1436.0" r="2.7" class="p"/><circle cx="1278.2" cy="1418.6" r="2.7" class="p"/><circle cx="1330.3" cy="1410.8" r="2.7" class="p"/><circle cx="1339.0" cy="1446.9" r="2.7"/><circle cx="1165.4" cy="1462.8" r="2.7"/><circle cx="1291.2" cy="1450.0" r="2.7" class="p"/><circle cx="1308.6" cy="1451.4" r="2.7"/><circle cx="1299.9" cy="1464.5" r="2.7"/><circle cx="1130.6" cy="1454.9" r="2.7"/><circle cx="1391.1" cy="1431.2" r="2.7" class="p"/><circle cx="1226.1" cy="1455.6" r="2.7" class="p"/><circle cx="1334.7" cy="1350.8" r="2.7" class="p"/><circle cx="1217.4" cy="1455.1" r="2.7" class="p"/><circle cx="1304.3" cy="1446.3" r="2.7"/><circle cx="1269.5" cy="1449.8" r="2.7" class="p"/><circle cx="1178.4" cy="1400.4" r="2.7" class="p"/><circle cx="1330.3" cy="1457.1" r="2.7" class="p"/><circle cx="1334.7" cy="1435.8" r="2.7" class="p"/><circle cx="1234.8" cy="1427.0" r="2.7" class="p"/><circle cx="1326.0" cy="1437.7" r="2.7"/><circle cx="1317.3" cy="1450.9" r="2.7"/><circle cx="1321.6" cy="1461.7" r="2.7"/><circle cx="1326.0" cy="1460.2" r="2.7"/><circle cx="1282.6" cy="1453.2" r="2.7"/><circle cx="1326.0" cy="1449.1" r="2.7" class="p"/><circle cx="1239.2" cy="1439.8" r="2.7"/><circle cx="1230.5" cy="1433.0" r="2.7" class="p"/><circle cx="1291.2" cy="1430.2" r="2.7" class="p"/><circle cx="1347.7" cy="1443.9" r="2.7" class="p"/><circle cx="1278.2" cy="1450.3" r="2.7"/><circle cx="1326.0" cy="1454.9" r="2.7" class="p"/><circle cx="1295.6" cy="1460.1" r="2.7"/><circle cx="1317.3" cy="1425.2" r="2.7" class="p"/><circle cx="1291.2" cy="1448.5" r="2.7"/><circle cx="1299.9" cy="1459.3" r="2.7" class="p"/><circle cx="1304.3" cy="1453.1" r="2.7"/><circle cx="1269.5" cy="1453.4" r="2.7" class="p"/><circle cx="1282.6" cy="1459.9" r="2.7" class="p"/><circle cx="1252.2" cy="1450.2" r="2.7" class="p"/><circle cx="1247.8" cy="1453.2" r="2.7"/><circle cx="1260.9" cy="1458.8" r="2.7" class="p"/><circle cx="1391.1" cy="1441.8" r="2.7" class="p"/><circle cx="1304.3" cy="1449.3" r="2.7" class="p"/><circle cx="1378.1" cy="1395.6" r="2.7" class="p"/><circle cx="1213.1" cy="1461.8" r="2.7"/><circle cx="1313.0" cy="1453.0" r="2.7"/><circle cx="1313.0" cy="1430.3" r="2.7" class="p"/><circle cx="1365.0" cy="1449.0" r="2.7" class="p"/><circle cx="1291.2" cy="1456.6" r="2.7" class="p"/><circle cx="1256.5" cy="1455.5" r="2.7"/><circle cx="1191.4" cy="1453.1" r="2.7"/><circle cx="1326.0" cy="1441.0" r="2.7"/><circle cx="1217.4" cy="1463.0" r="2.7"/><circle cx="1304.3" cy="1429.8" r="2.7" class="p"/><circle cx="1221.8" cy="1389.5" r="2.7"/><circle cx="1282.6" cy="1444.4" r="2.7"/><circle cx="1243.5" cy="1460.0" r="2.7"/><circle cx="1360.7" cy="1459.6" r="2.7"/><circle cx="1252.2" cy="1451.3" r="2.7" class="p"/><circle cx="1278.2" cy="1433.4" r="2.7" class="p"/><circle cx="1299.9" cy="1445.1" r="2.7" class="p"/><circle cx="1221.8" cy="1439.3" r="2.7"/><circle cx="1278.2" cy="1445.6" r="2.7" class="p"/><circle cx="1334.7" cy="1454.9" r="2.7" class="p"/><circle cx="1330.3" cy="1452.0" r="2.7" class="p"/><circle cx="1313.0" cy="1445.1" r="2.7" class="p"/><circle cx="1200.1" cy="1459.3" r="2.7"/><circle cx="1286.9" cy="1446.7" r="2.7" class="p"/><circle cx="1252.2" cy="1454.6" r="2.7" class="p"/><circle cx="1330.3" cy="1453.9" r="2.7"/><circle cx="1317.3" cy="1436.8" r="2.7" class="p"/><circle cx="1356.4" cy="1448.6" r="2.7"/><circle cx="1326.0" cy="1449.8" r="2.7"/><circle cx="1352.0" cy="1460.9" r="2.7"/><circle cx="1308.6" cy="1446.0" r="2.7"/><circle cx="1117.6" cy="1448.0" r="2.7"/><circle cx="1330.3" cy="1461.2" r="2.7"/><circle cx="1273.9" cy="1427.3" r="2.7" class="p"/><circle cx="1256.5" cy="1451.4" r="2.7"/><circle cx="1286.9" cy="1429.3" r="2.7" class="p"/><circle cx="1369.4" cy="1447.1" r="2.7"/><circle cx="1360.7" cy="1449.8" r="2.7" class="p"/><circle cx="1339.0" cy="1455.7" r="2.7"/><circle cx="1273.9" cy="1454.5" r="2.7" class="p"/><circle cx="1343.3" cy="1456.6" r="2.7"/><circle cx="1208.8" cy="1453.4" r="2.7"/><circle cx="1247.8" cy="1452.2" r="2.7" class="p"/><circle cx="1217.4" cy="1452.5" r="2.7" class="p"/><circle cx="1273.9" cy="1439.7" r="2.7" class="p"/><circle cx="1343.3" cy="1413.8" r="2.7"/><circle cx="1299.9" cy="1458.8" r="2.7"/><circle cx="1234.8" cy="1443.8" r="2.7" class="p"/><circle cx="1234.8" cy="1456.9" r="2.7" class="p"/><circle cx="1339.0" cy="1454.1" r="2.7"/><circle cx="1247.8" cy="1442.3" r="2.7" class="p"/><circle cx="1278.2" cy="1452.3" r="2.7"/><circle cx="1243.5" cy="1461.9" r="2.7"/><circle cx="1291.2" cy="1455.8" r="2.7"/><circle cx="1334.7" cy="1445.7" r="2.7" class="p"/><circle cx="1191.4" cy="1443.5" r="2.7" class="p"/><circle cx="1304.3" cy="1433.8" r="2.7"/><circle cx="1265.2" cy="1455.2" r="2.7" class="p"/><circle cx="1108.9" cy="1461.7" r="2.7"/><circle cx="1382.4" cy="1453.0" r="2.7" class="p"/><circle cx="1339.0" cy="1441.2" r="2.7"/><circle cx="1386.7" cy="1454.4" r="2.7"/><circle cx="1239.2" cy="1437.2" r="2.7"/><circle cx="1278.2" cy="1450.7" r="2.7" class="p"/><circle cx="1278.2" cy="1455.2" r="2.7" class="p"/><circle cx="1339.0" cy="1454.9" r="2.7" class="p"/><circle cx="1313.0" cy="1448.5" r="2.7" class="p"/><circle cx="1247.8" cy="1436.2" r="2.7"/><circle cx="1352.0" cy="1454.1" r="2.7"/><circle cx="1299.9" cy="1459.0" r="2.7"/><circle cx="1234.8" cy="1447.0" r="2.7" class="p"/><circle cx="1291.2" cy="1423.4" r="2.7" class="p"/><circle cx="1282.6" cy="1455.6" r="2.7"/><circle cx="1404.1" cy="1452.2" r="2.7" class="p"/><circle cx="1356.4" cy="1431.6" r="2.7" class="p"/><circle cx="1313.0" cy="1424.8" r="2.7"/><circle cx="1339.0" cy="1426.4" r="2.7" class="p"/><circle cx="1234.8" cy="1443.0" r="2.7"/><circle cx="1191.4" cy="1463.2" r="2.7"/><circle cx="1291.2" cy="1446.1" r="2.7"/><circle cx="1291.2" cy="1458.1" r="2.7" class="p"/><circle cx="1204.4" cy="1440.1" r="2.7"/><circle cx="1365.0" cy="1419.6" r="2.7" class="p"/><circle cx="1260.9" cy="1448.9" r="2.7" class="p"/><circle cx="1260.9" cy="1458.0" r="2.7"/><circle cx="1195.7" cy="1464.5" r="2.7"/><circle cx="1269.5" cy="1456.4" r="2.7" class="p"/><circle cx="1286.9" cy="1442.0" r="2.7" class="p"/><circle cx="1256.5" cy="1453.2" r="2.7"/><circle cx="1230.5" cy="1450.5" r="2.7"/><circle cx="1313.0" cy="1449.7" r="2.7"/><circle cx="1313.0" cy="1393.2" r="2.7" class="p"/><circle cx="1339.0" cy="1262.9" r="2.7" class="p"/><circle cx="1252.2" cy="1459.6" r="2.7" class="p"/><circle cx="1360.7" cy="1439.7" r="2.7" class="p"/><circle cx="1226.1" cy="1432.6" r="2.7" class="p"/><circle cx="1369.4" cy="1435.8" r="2.7"/><circle cx="1365.0" cy="1443.7" r="2.7" class="p"/><circle cx="1278.2" cy="1450.0" r="2.7" class="p"/><circle cx="1265.2" cy="1449.7" r="2.7" class="p"/><circle cx="1378.1" cy="1452.7" r="2.7" class="p"/><circle cx="1286.9" cy="1442.5" r="2.7"/><circle cx="1156.7" cy="1449.7" r="2.7"/><circle cx="1291.2" cy="1448.3" r="2.7"/><circle cx="1339.0" cy="1447.9" r="2.7"/><circle cx="1178.4" cy="1463.7" r="2.7"/><circle cx="1286.9" cy="1439.1" r="2.7" class="p"/><circle cx="1243.5" cy="1456.3" r="2.7"/><circle cx="1304.3" cy="1457.2" r="2.7" class="p"/><circle cx="1278.2" cy="1428.1" r="2.7"/><circle cx="1135.0" cy="1462.4" r="2.7"/><circle cx="1326.0" cy="1418.5" r="2.7" class="p"/><circle cx="1360.7" cy="1452.3" r="2.7"/><circle cx="1343.3" cy="1452.0" r="2.7"/><circle cx="1230.5" cy="1449.3" r="2.7"/><circle cx="1182.7" cy="1435.0" r="2.7"/><circle cx="1343.3" cy="1439.1" r="2.7" class="p"/><circle cx="1404.1" cy="1435.7" r="2.7"/><circle cx="1273.9" cy="1456.8" r="2.7" class="p"/><circle cx="1334.7" cy="1447.8" r="2.7" class="p"/><circle cx="1339.0" cy="1445.7" r="2.7" class="p"/><circle cx="1317.3" cy="1423.7" r="2.7"/><circle cx="1273.9" cy="1456.1" r="2.7" class="p"/><circle cx="1386.7" cy="1453.3" r="2.7"/><circle cx="1317.3" cy="1443.5" r="2.7" class="p"/><circle cx="1278.2" cy="1449.2" r="2.7" class="p"/><circle cx="1326.0" cy="1448.3" r="2.7"/><circle cx="1317.3" cy="1456.4" r="2.7" class="p"/><circle cx="1313.0" cy="1451.0" r="2.7" class="p"/><circle cx="1313.0" cy="1447.2" r="2.7"/><circle cx="1204.4" cy="1457.5" r="2.7"/><circle cx="1326.0" cy="1460.1" r="2.7" class="p"/><circle cx="1339.0" cy="1450.5" r="2.7"/><circle cx="1200.1" cy="1454.4" r="2.7"/><circle cx="1308.6" cy="1440.3" r="2.7" class="p"/><circle cx="1273.9" cy="1390.0" r="2.7" class="p"/><circle cx="1252.2" cy="1460.5" r="2.7"/><circle cx="1330.3" cy="1449.4" r="2.7" class="p"/><circle cx="1378.1" cy="1450.3" r="2.7"/><circle cx="1308.6" cy="1449.8" r="2.7"/><circle cx="1352.0" cy="1444.4" r="2.7"/><circle cx="1273.9" cy="1446.3" r="2.7"/><circle cx="1178.4" cy="1456.6" r="2.7"/><circle cx="1269.5" cy="1440.1" r="2.7" class="p"/><circle cx="1265.2" cy="1457.9" r="2.7"/><circle cx="1326.0" cy="1426.7" r="2.7" class="p"/><circle cx="1343.3" cy="1455.6" r="2.7"/><circle cx="1286.9" cy="1449.1" r="2.7"/><circle cx="1308.6" cy="1460.5" r="2.7"/><circle cx="1330.3" cy="1459.6" r="2.7"/><circle cx="1317.3" cy="1451.7" r="2.7"/><circle cx="1286.9" cy="1331.4" r="2.7" class="p"/><circle cx="1326.0" cy="1440.2" r="2.7" class="p"/><circle cx="1217.4" cy="1443.0" r="2.7"/><circle cx="1152.3" cy="1457.8" r="2.7"/><circle cx="1165.4" cy="1457.7" r="2.7"/><circle cx="1234.8" cy="1361.0" r="2.7" class="p"/><circle cx="1213.1" cy="1456.2" r="2.7"/><circle cx="1343.3" cy="1442.1" r="2.7"/><circle cx="1299.9" cy="1424.7" r="2.7" class="p"/><circle cx="1369.4" cy="1445.2" r="2.7" class="p"/><circle cx="1291.2" cy="1440.4" r="2.7" class="p"/><circle cx="1286.9" cy="1457.4" r="2.7" class="p"/><circle cx="1282.6" cy="1448.7" r="2.7"/><circle cx="1282.6" cy="1460.7" r="2.7"/><circle cx="1260.9" cy="1453.2" r="2.7"/><circle cx="1369.4" cy="1428.2" r="2.7"/><circle cx="1313.0" cy="1444.1" r="2.7"/><circle cx="1265.2" cy="1442.8" r="2.7"/><circle cx="1204.4" cy="1463.8" r="2.7"/><circle cx="1256.5" cy="1459.1" r="2.7" class="p"/><circle cx="1260.9" cy="1462.1" r="2.7"/><circle cx="1352.0" cy="1457.1" r="2.7"/><circle cx="1156.7" cy="1449.0" r="2.7"/><circle cx="1252.2" cy="1452.5" r="2.7" class="p"/><circle cx="1317.3" cy="1460.6" r="2.7"/><circle cx="1269.5" cy="1431.0" r="2.7" class="p"/><circle cx="1291.2" cy="1452.6" r="2.7"/><circle cx="1278.2" cy="1440.8" r="2.7" class="p"/><circle cx="1326.0" cy="1277.9" r="2.7" class="p"/><circle cx="1326.0" cy="1446.7" r="2.7" class="p"/><circle cx="1313.0" cy="1460.7" r="2.7"/><circle cx="1226.1" cy="1457.0" r="2.7"/><circle cx="1265.2" cy="1442.2" r="2.7" class="p"/><circle cx="1226.1" cy="1448.3" r="2.7"/><circle cx="1282.6" cy="1432.5" r="2.7" class="p"/><circle cx="1304.3" cy="1455.3" r="2.7"/><circle cx="1291.2" cy="1454.0" r="2.7"/><circle cx="1360.7" cy="1396.1" r="2.7" class="p"/><circle cx="1299.9" cy="1459.7" r="2.7"/><circle cx="1247.8" cy="1455.0" r="2.7"/><circle cx="1317.3" cy="1453.2" r="2.7" class="p"/><circle cx="1330.3" cy="1448.2" r="2.7" class="p"/><circle cx="1330.3" cy="1432.1" r="2.7"/><circle cx="1339.0" cy="1462.4" r="2.7"/><circle cx="1339.0" cy="1421.5" r="2.7" class="p"/><circle cx="1278.2" cy="1443.1" r="2.7"/><circle cx="1317.3" cy="1450.7" r="2.7"/><circle cx="1243.5" cy="1438.0" r="2.7" class="p"/><circle cx="1130.6" cy="1465.0" r="2.7"/><circle cx="1286.9" cy="1444.8" r="2.7" class="p"/><circle cx="1278.2" cy="1407.6" r="2.7" class="p"/><circle cx="1308.6" cy="1424.2" r="2.7"/><circle cx="1273.9" cy="1461.4" r="2.7"/><circle cx="1308.6" cy="1444.3" r="2.7"/><circle cx="1343.3" cy="1439.8" r="2.7" class="p"/><circle cx="1356.4" cy="1432.8" r="2.7" class="p"/><circle cx="1352.0" cy="1450.4" r="2.7"/><circle cx="1308.6" cy="1443.6" r="2.7" class="p"/><circle cx="1260.9" cy="1443.5" r="2.7"/><circle cx="1317.3" cy="1347.3" r="2.7" class="p"/><circle cx="1234.8" cy="1462.5" r="2.7"/><circle cx="1321.6" cy="1449.7" r="2.7"/><circle cx="1330.3" cy="1445.0" r="2.7" class="p"/><circle cx="1317.3" cy="1425.5" r="2.7" class="p"/><circle cx="1295.6" cy="1458.6" r="2.7"/><circle cx="1326.0" cy="1444.6" r="2.7"/><circle cx="1204.4" cy="1440.6" r="2.7"/><circle cx="1208.8" cy="1453.8" r="2.7"/><circle cx="1343.3" cy="1455.4" r="2.7"/><circle cx="1321.6" cy="1433.6" r="2.7" class="p"/><circle cx="1234.8" cy="1456.6" r="2.7"/><circle cx="1269.5" cy="1431.8" r="2.7" class="p"/><circle cx="1278.2" cy="1397.2" r="2.7" class="p"/><circle cx="1295.6" cy="1454.5" r="2.7" class="p"/><circle cx="1195.7" cy="1451.6" r="2.7" class="p"/><circle cx="1286.9" cy="1452.3" r="2.7"/><circle cx="1260.9" cy="1444.1" r="2.7"/><circle cx="1126.3" cy="1454.2" r="2.7"/><circle cx="1321.6" cy="1442.5" r="2.7" class="p"/><circle cx="1334.7" cy="1462.2" r="2.7"/><circle cx="1365.0" cy="1421.1" r="2.7" class="p"/><circle cx="1347.7" cy="1459.4" r="2.7"/><circle cx="1195.7" cy="1454.6" r="2.7"/><circle cx="1321.6" cy="1435.5" r="2.7" class="p"/><circle cx="1117.6" cy="1458.4" r="2.7"/><circle cx="1282.6" cy="1454.2" r="2.7" class="p"/><circle cx="1221.8" cy="1443.1" r="2.7" class="p"/><circle cx="1326.0" cy="1451.9" r="2.7" class="p"/><circle cx="1269.5" cy="1432.5" r="2.7"/><circle cx="1321.6" cy="1434.0" r="2.7" class="p"/><circle cx="1256.5" cy="1450.1" r="2.7"/><circle cx="1182.7" cy="1457.6" r="2.7"/><circle cx="1295.6" cy="1457.9" r="2.7"/><circle cx="1278.2" cy="1443.7" r="2.7" class="p"/><circle cx="1352.0" cy="1454.3" r="2.7" class="p"/><circle cx="1308.6" cy="1440.1" r="2.7" class="p"/><circle cx="1304.3" cy="1431.7" r="2.7" class="p"/><circle cx="1395.4" cy="1430.1" r="2.7" class="p"/><circle cx="1330.3" cy="1455.3" r="2.7" class="p"/><circle cx="1304.3" cy="1440.9" r="2.7" class="p"/><circle cx="1304.3" cy="1447.9" r="2.7" class="p"/><circle cx="1252.2" cy="1423.9" r="2.7" class="p"/><circle cx="1317.3" cy="1456.3" r="2.7" class="p"/><circle cx="1334.7" cy="1433.6" r="2.7" class="p"/><circle cx="1200.1" cy="1415.8" r="2.7" class="p"/><circle cx="1260.9" cy="1449.8" r="2.7" class="p"/><circle cx="1321.6" cy="1445.5" r="2.7" class="p"/><circle cx="1347.7" cy="1446.5" r="2.7" class="p"/><circle cx="1295.6" cy="1421.1" r="2.7" class="p"/><circle cx="1343.3" cy="1446.0" r="2.7" class="p"/><circle cx="1339.0" cy="1439.5" r="2.7" class="p"/><circle cx="1334.7" cy="1444.6" r="2.7" class="p"/><circle cx="1369.4" cy="1452.6" r="2.7" class="p"/><circle cx="1243.5" cy="1448.4" r="2.7" class="p"/><circle cx="1334.7" cy="1421.8" r="2.7" class="p"/><circle cx="1286.9" cy="1450.5" r="2.7" class="p"/><circle cx="1291.2" cy="1390.9" r="2.7" class="p"/><circle cx="1343.3" cy="1439.9" r="2.7" class="p"/><circle cx="1352.0" cy="1449.3" r="2.7" class="p"/><circle cx="1269.5" cy="1443.2" r="2.7" class="p"/><circle cx="1343.3" cy="1431.9" r="2.7" class="p"/><circle cx="1213.1" cy="1456.6" r="2.7" class="p"/><circle cx="1286.9" cy="1435.0" r="2.7" class="p"/><circle cx="1317.3" cy="1443.7" r="2.7" class="p"/><circle cx="1313.0" cy="1437.2" r="2.7" class="p"/><circle cx="1321.6" cy="1448.8" r="2.7" class="p"/><circle cx="1313.0" cy="1449.4" r="2.7" class="p"/><circle cx="1330.3" cy="1445.2" r="2.7" class="p"/><circle cx="1299.9" cy="1453.5" r="2.7" class="p"/><circle cx="1299.9" cy="1450.3" r="2.7" class="p"/><circle cx="1343.3" cy="1447.9" r="2.7" class="p"/><circle cx="1291.2" cy="1454.4" r="2.7" class="p"/><circle cx="1313.0" cy="1451.8" r="2.7" class="p"/><circle cx="1334.7" cy="1448.8" r="2.7" class="p"/><circle cx="1365.0" cy="1432.1" r="2.7" class="p"/><circle cx="1326.0" cy="1338.9" r="2.7" class="p"/><circle cx="1339.0" cy="1436.5" r="2.7" class="p"/><circle cx="1221.8" cy="1447.9" r="2.7" class="p"/><circle cx="1260.9" cy="1450.3" r="2.7" class="p"/><circle cx="1286.9" cy="1413.8" r="2.7" class="p"/><circle cx="1326.0" cy="1445.1" r="2.7" class="p"/><circle cx="1308.6" cy="1450.8" r="2.7" class="p"/><circle cx="1330.3" cy="1440.5" r="2.7" class="p"/><circle cx="1321.6" cy="1445.9" r="2.7" class="p"/><circle cx="1265.2" cy="1444.9" r="2.7" class="p"/><circle cx="1239.2" cy="1439.8" r="2.7" class="p"/><circle cx="1291.2" cy="1450.0" r="2.7" class="p"/><circle cx="1308.6" cy="1432.3" r="2.7" class="p"/><circle cx="1360.7" cy="1441.6" r="2.7" class="p"/><circle cx="1339.0" cy="1438.6" r="2.7" class="p"/><circle cx="1252.2" cy="1448.4" r="2.7" class="p"/><circle cx="1356.4" cy="1428.7" r="2.7" class="p"/><circle cx="1321.6" cy="1452.4" r="2.7" class="p"/><circle cx="1234.8" cy="1454.2" r="2.7" class="p"/><circle cx="1217.4" cy="1459.5" r="2.7" class="p"/><circle cx="1330.3" cy="1455.1" r="2.7" class="p"/><circle cx="1373.7" cy="1450.6" r="2.7" class="p"/><circle cx="1365.0" cy="1443.1" r="2.7" class="p"/><circle cx="1308.6" cy="1425.6" r="2.7" class="p"/><circle cx="1343.3" cy="1443.0" r="2.7" class="p"/><circle cx="1373.7" cy="1447.7" r="2.7" class="p"/><circle cx="1243.5" cy="1459.9" r="2.7" class="p"/><circle cx="1260.9" cy="1446.1" r="2.7" class="p"/><circle cx="1343.3" cy="1445.4" r="2.7" class="p"/><circle cx="1330.3" cy="1458.5" r="2.7" class="p"/><circle cx="1352.0" cy="1422.8" r="2.7" class="p"/><circle cx="1286.9" cy="1449.4" r="2.7" class="p"/><circle cx="1247.8" cy="1420.2" r="2.7" class="p"/><circle cx="1265.2" cy="1456.4" r="2.7" class="p"/><circle cx="1369.4" cy="1438.2" r="2.7" class="p"/><circle cx="1313.0" cy="1417.8" r="2.7" class="p"/><circle cx="1326.0" cy="1449.4" r="2.7" class="p"/><circle cx="1247.8" cy="1436.4" r="2.7" class="p"/><circle cx="1230.5" cy="1437.4" r="2.7" class="p"/><circle cx="1286.9" cy="1452.5" r="2.7" class="p"/><circle cx="1369.4" cy="1433.5" r="2.7" class="p"/><circle cx="1304.3" cy="1455.0" r="2.7" class="p"/><circle cx="1317.3" cy="1454.6" r="2.7" class="p"/><circle cx="1356.4" cy="1456.6" r="2.7" class="p"/><circle cx="1273.9" cy="1450.9" r="2.7" class="p"/><circle cx="1382.4" cy="1448.6" r="2.7" class="p"/><circle cx="1278.2" cy="1413.6" r="2.7" class="p"/><circle cx="1360.7" cy="1458.3" r="2.7" class="p"/><circle cx="1260.9" cy="1378.1" r="2.7" class="p"/><circle cx="1226.1" cy="1439.9" r="2.7" class="p"/><circle cx="1286.9" cy="1429.7" r="2.7" class="p"/><circle cx="1282.6" cy="1444.9" r="2.7" class="p"/><circle cx="1273.9" cy="1414.9" r="2.7" class="p"/><circle cx="1308.6" cy="1440.0" r="2.7" class="p"/><circle cx="1373.7" cy="1434.8" r="2.7" class="p"/><circle cx="1313.0" cy="1421.8" r="2.7" class="p"/><circle cx="1217.4" cy="1442.6" r="2.7" class="p"/><circle cx="1278.2" cy="1457.6" r="2.7" class="p"/><circle cx="1369.4" cy="1446.9" r="2.7" class="p"/><circle cx="1286.9" cy="1421.6" r="2.7" class="p"/><circle cx="1339.0" cy="1456.3" r="2.7" class="p"/><circle cx="1291.2" cy="1439.2" r="2.7" class="p"/><circle cx="1304.3" cy="1445.9" r="2.7" class="p"/><circle cx="1317.3" cy="1436.5" r="2.7" class="p"/><circle cx="1308.6" cy="1454.8" r="2.7" class="p"/><circle cx="1365.0" cy="1444.4" r="2.7" class="p"/><circle cx="1317.3" cy="1438.3" r="2.7" class="p"/><circle cx="1265.2" cy="1447.3" r="2.7" class="p"/><circle cx="1230.5" cy="1425.9" r="2.7" class="p"/><circle cx="1334.7" cy="1448.3" r="2.7" class="p"/><circle cx="1291.2" cy="1443.1" r="2.7" class="p"/><circle cx="1273.9" cy="1441.6" r="2.7" class="p"/><circle cx="1326.0" cy="1456.6" r="2.7" class="p"/><circle cx="1256.5" cy="1443.3" r="2.7" class="p"/><circle cx="1334.7" cy="1449.8" r="2.7" class="p"/><circle cx="1378.1" cy="1447.8" r="2.7" class="p"/><circle cx="1321.6" cy="1434.4" r="2.7" class="p"/><circle cx="1226.1" cy="1423.8" r="2.7" class="p"/><circle cx="1326.0" cy="1417.6" r="2.7" class="p"/><circle cx="1391.1" cy="1452.8" r="2.7" class="p"/><circle cx="1313.0" cy="1455.8" r="2.7" class="p"/><circle cx="1360.7" cy="1458.8" r="2.7" class="p"/><circle cx="1321.6" cy="1434.7" r="2.7" class="p"/><circle cx="1299.9" cy="1440.6" r="2.7" class="p"/><circle cx="1343.3" cy="1442.9" r="2.7" class="p"/><circle cx="1282.6" cy="1431.7" r="2.7" class="p"/><circle cx="1304.3" cy="1429.3" r="2.7" class="p"/><circle cx="1308.6" cy="1463.4" r="2.7" class="p"/><circle cx="1304.3" cy="1442.6" r="2.7" class="p"/><circle cx="1295.6" cy="1440.2" r="2.7" class="p"/><circle cx="1317.3" cy="1436.3" r="2.7" class="p"/><circle cx="1356.4" cy="1397.7" r="2.7" class="p"/><circle cx="1330.3" cy="1440.6" r="2.7" class="p"/><circle cx="1295.6" cy="1435.9" r="2.7" class="p"/><circle cx="1330.3" cy="1437.9" r="2.7" class="p"/><circle cx="1286.9" cy="1455.0" r="2.7" class="p"/><circle cx="1308.6" cy="1444.8" r="2.7" class="p"/><circle cx="1291.2" cy="1451.2" r="2.7" class="p"/><circle cx="1326.0" cy="1434.7" r="2.7" class="p"/><circle cx="1252.2" cy="1452.7" r="2.7" class="p"/><circle cx="1326.0" cy="1449.4" r="2.7" class="p"/><circle cx="1243.5" cy="1447.8" r="2.7" class="p"/><circle cx="1226.1" cy="1451.3" r="2.7" class="p"/><circle cx="1334.7" cy="1444.3" r="2.7" class="p"/><circle cx="1273.9" cy="1442.7" r="2.7" class="p"/><circle cx="1313.0" cy="1457.0" r="2.7" class="p"/><circle cx="1256.5" cy="1372.4" r="2.7" class="p"/><circle cx="1195.7" cy="1440.0" r="2.7" class="p"/><circle cx="1330.3" cy="1447.1" r="2.7" class="p"/><circle cx="1369.4" cy="1451.5" r="2.7" class="p"/><circle cx="1352.0" cy="1445.8" r="2.7" class="p"/><circle cx="1326.0" cy="1444.4" r="2.7" class="p"/><circle cx="1378.1" cy="1444.4" r="2.7" class="p"/><circle cx="1295.6" cy="1442.0" r="2.7" class="p"/><circle cx="1260.9" cy="1439.4" r="2.7" class="p"/><circle cx="1286.9" cy="1436.0" r="2.7" class="p"/><circle cx="1317.3" cy="1452.7" r="2.7" class="p"/><circle cx="1295.6" cy="1450.9" r="2.7" class="p"/><circle cx="1291.2" cy="1454.4" r="2.7" class="p"/><circle cx="1343.3" cy="1428.2" r="2.7" class="p"/><circle cx="1273.9" cy="1443.0" r="2.7" class="p"/><circle cx="1282.6" cy="1457.2" r="2.7" class="p"/><circle cx="1321.6" cy="1449.9" r="2.7" class="p"/><circle cx="1369.4" cy="1436.5" r="2.7" class="p"/><circle cx="1191.4" cy="1444.0" r="2.7" class="p"/><circle cx="1334.7" cy="1448.0" r="2.7" class="p"/><circle cx="1265.2" cy="1448.0" r="2.7" class="p"/><circle cx="1330.3" cy="1458.0" r="2.7" class="p"/><circle cx="1321.6" cy="1459.5" r="2.7" class="p"/><circle cx="1334.7" cy="1432.3" r="2.7" class="p"/><circle cx="1339.0" cy="1448.5" r="2.7" class="p"/><circle cx="1286.9" cy="1452.3" r="2.7" class="p"/><circle cx="1382.4" cy="1456.8" r="2.7" class="p"/><circle cx="1339.0" cy="1457.3" r="2.7" class="p"/><circle cx="1239.2" cy="1446.9" r="2.7" class="p"/><circle cx="1308.6" cy="1445.4" r="2.7" class="p"/><circle cx="1334.7" cy="1430.1" r="2.7" class="p"/><circle cx="1273.9" cy="1423.5" r="2.7" class="p"/><circle cx="1360.7" cy="1442.8" r="2.7" class="p"/><circle cx="1373.7" cy="1450.4" r="2.7" class="p"/><circle cx="1265.2" cy="1455.0" r="2.7" class="p"/><circle cx="1339.0" cy="1449.5" r="2.7" class="p"/><circle cx="1313.0" cy="1430.2" r="2.7" class="p"/><circle cx="1360.7" cy="1452.3" r="2.7" class="p"/><circle cx="1330.3" cy="1436.8" r="2.7" class="p"/><circle cx="1308.6" cy="1344.4" r="2.7" class="p"/><circle cx="1330.3" cy="1438.3" r="2.7" class="p"/><circle cx="1378.1" cy="1336.5" r="2.7" class="p"/><circle cx="1260.9" cy="1457.6" r="2.7" class="p"/><circle cx="1326.0" cy="1375.1" r="2.7" class="p"/><circle cx="1252.2" cy="1451.9" r="2.7" class="p"/><circle cx="1365.0" cy="1439.2" r="2.7" class="p"/><circle cx="1313.0" cy="1440.3" r="2.7" class="p"/><circle cx="1234.8" cy="1459.6" r="2.7" class="p"/><circle cx="1273.9" cy="1449.2" r="2.7" class="p"/><circle cx="1282.6" cy="1458.3" r="2.7" class="p"/><circle cx="1317.3" cy="1413.4" r="2.7" class="p"/><circle cx="1399.8" cy="1441.8" r="2.7" class="p"/><circle cx="1226.1" cy="1450.4" r="2.7" class="p"/><circle cx="1286.9" cy="1448.5" r="2.7" class="p"/><circle cx="1365.0" cy="1454.3" r="2.7" class="p"/><circle cx="1291.2" cy="1437.0" r="2.7" class="p"/><circle cx="1369.4" cy="1448.1" r="2.7" class="p"/><circle cx="1260.9" cy="1444.7" r="2.7" class="p"/><circle cx="1282.6" cy="1456.8" r="2.7" class="p"/><circle cx="1252.2" cy="1447.0" r="2.7" class="p"/><circle cx="1295.6" cy="1436.6" r="2.7" class="p"/><circle cx="1313.0" cy="1457.7" r="2.7" class="p"/><circle cx="1334.7" cy="1443.1" r="2.7" class="p"/><circle cx="1161.0" cy="1443.0" r="2.7" class="p"/><circle cx="1265.2" cy="1457.4" r="2.7" class="p"/><circle cx="1226.1" cy="1449.2" r="2.7" class="p"/><circle cx="1299.9" cy="1457.2" r="2.7" class="p"/><circle cx="1343.3" cy="1454.9" r="2.7" class="p"/><circle cx="1256.5" cy="1442.9" r="2.7" class="p"/><circle cx="1339.0" cy="1456.4" r="2.7" class="p"/><circle cx="1291.2" cy="1451.3" r="2.7" class="p"/><circle cx="1369.4" cy="1419.0" r="2.7" class="p"/></g>
<line x1="1087.9" y1="1455.0" x2="1417.0" y2="1435.8" stroke="#4d8c8f" stroke-width="2.3" />
<circle cx="1115.4" cy="1168.5" r="5" fill="#9b34cf"/>
<text x="1127.4" y="1175.4" font-size="20.9"  letter-spacing="-0.1">Drink years</text>
<text x="1127.4" y="1201.3" font-size="20.9" >≥50</text>
<text transform="translate(1494.5 590.6) scale(1.16 1)" font-size="29" font-weight="bold" stroke="#000" stroke-width="0.7">e</text>
<g>
<rect x="1725.70" y="734.30" width="47.08" height="47.00" fill="#8a393d"/>
<rect x="1772.78" y="734.30" width="47.08" height="47.00" fill="#f5fafe"/>
<rect x="1819.86" y="734.30" width="47.08" height="47.00" fill="#8a393d"/>
<rect x="1866.94" y="734.30" width="47.08" height="47.00" fill="#8a393d"/>
<rect x="1961.10" y="734.30" width="47.08" height="47.00" fill="#fef6f6"/>
<rect x="2008.18" y="734.30" width="47.08" height="47.00" fill="#f1868b"/>
<rect x="2102.34" y="734.30" width="47.08" height="47.00" fill="#fef6f6"/>
<rect x="1725.70" y="781.30" width="47.08" height="47.00" fill="#8a393d"/>
<rect x="1772.78" y="781.30" width="47.08" height="47.00" fill="#cee5f9"/>
<rect x="1819.86" y="781.30" width="47.08" height="47.00" fill="#ce595e"/>
<rect x="1866.94" y="781.30" width="47.08" height="47.00" fill="#fef9f9"/>
<rect x="1914.02" y="781.30" width="47.08" height="47.00" fill="#fef6f6"/>
<rect x="1961.10" y="781.30" width="47.08" height="47.00" fill="#fef3f3"/>
<rect x="2008.18" y="781.30" width="47.08" height="47.00" fill="#f0777c"/>
<rect x="2055.26" y="781.30" width="47.08" height="47.00" fill="#fef6f6"/>
<rect x="2102.34" y="781.30" width="47.08" height="47.00" fill="#fbdbdc"/>
<rect x="1725.70" y="828.30" width="47.08" height="47.00" fill="#fbdbdc"/>
<rect x="1772.78" y="828.30" width="47.08" height="47.00" fill="#fdeaeb"/>
<rect x="1819.86" y="828.30" width="47.08" height="47.00" fill="#e26268"/>
<rect x="1866.94" y="828.30" width="47.08" height="47.00" fill="#8a393d"/>
<rect x="2008.18" y="828.30" width="47.08" height="47.00" fill="#fdeaeb"/>
<rect x="2055.26" y="828.30" width="47.08" height="47.00" fill="#f5fafe"/>
<rect x="2102.34" y="828.30" width="47.08" height="47.00" fill="#f5fafe"/>
<rect x="1725.70" y="875.30" width="47.08" height="47.00" fill="#8a393d"/>
<rect x="1772.78" y="875.30" width="47.08" height="47.00" fill="#fdf0f0"/>
<rect x="1819.86" y="875.30" width="47.08" height="47.00" fill="#eef6fd"/>
<rect x="1866.94" y="875.30" width="47.08" height="47.00" fill="#fbdbdc"/>
<rect x="1914.02" y="875.30" width="47.08" height="47.00" fill="#fef3f3"/>
<rect x="1961.10" y="875.30" width="47.08" height="47.00" fill="#fce1e2"/>
<rect x="2102.34" y="875.30" width="47.08" height="47.00" fill="#f5fafe"/>
<rect x="1725.70" y="922.30" width="47.08" height="47.00" fill="#ef6e74"/>
<rect x="1772.78" y="922.30" width="47.08" height="47.00" fill="#fad5d6"/>
<rect x="1819.86" y="922.30" width="47.08" height="47.00" fill="#f3959a"/>
<rect x="1866.94" y="922.30" width="47.08" height="47.00" fill="#fef9f9"/>
<rect x="1914.02" y="922.30" width="47.08" height="47.00" fill="#f9c9cb"/>
<rect x="1961.10" y="922.30" width="47.08" height="47.00" fill="#fef9f9"/>
<rect x="2008.18" y="922.30" width="47.08" height="47.00" fill="#f9c9cb"/>
<rect x="2055.26" y="922.30" width="47.08" height="47.00" fill="#fce1e2"/>
<rect x="2102.34" y="922.30" width="47.08" height="47.00" fill="#fad5d6"/>
<rect x="1725.70" y="969.30" width="47.08" height="47.00" fill="#8a393d"/>
<rect x="1819.86" y="969.30" width="47.08" height="47.00" fill="#b24c51"/>
<rect x="1866.94" y="969.30" width="47.08" height="47.00" fill="#fce7e8"/>
<rect x="1914.02" y="969.30" width="47.08" height="47.00" fill="#fef6f6"/>
<rect x="1961.10" y="969.30" width="47.08" height="47.00" fill="#fef9f9"/>
<rect x="2008.18" y="969.30" width="47.08" height="47.00" fill="#f18085"/>
<rect x="2055.26" y="969.30" width="47.08" height="47.00" fill="#f5fafe"/>
<rect x="2102.34" y="969.30" width="47.08" height="47.00" fill="#facfd1"/>
<rect x="1725.70" y="1016.30" width="47.08" height="47.00" fill="#8a393d"/>
<rect x="1819.86" y="1016.30" width="47.08" height="47.00" fill="#ac494e"/>
<rect x="1866.94" y="1016.30" width="47.08" height="47.00" fill="#fdeaeb"/>
<rect x="1914.02" y="1016.30" width="47.08" height="47.00" fill="#fef6f6"/>
<rect x="2008.18" y="1016.30" width="47.08" height="47.00" fill="#f7b7b9"/>
<rect x="2102.34" y="1016.30" width="47.08" height="47.00" fill="#fdedee"/>
<rect x="1725.70" y="1063.30" width="47.08" height="47.00" fill="#984044"/>
<rect x="1819.86" y="1063.30" width="47.08" height="47.00" fill="#f7babc"/>
<rect x="1866.94" y="1063.30" width="47.08" height="47.00" fill="#fbd8d9"/>
<rect x="1914.02" y="1063.30" width="47.08" height="47.00" fill="#fbd8d9"/>
<rect x="2008.18" y="1063.30" width="47.08" height="47.00" fill="#f8c3c5"/>
<rect x="2055.26" y="1063.30" width="47.08" height="47.00" fill="#f5fafe"/>
<rect x="2102.34" y="1063.30" width="47.08" height="47.00" fill="#fbdbdc"/>
<rect x="1725.70" y="1110.30" width="47.08" height="47.00" fill="#8a393d"/>
<rect x="1772.78" y="1110.30" width="47.08" height="47.00" fill="#fdeaeb"/>
<rect x="1819.86" y="1110.30" width="47.08" height="47.00" fill="#fef9f9"/>
<rect x="1914.02" y="1110.30" width="47.08" height="47.00" fill="#fdedee"/>
<rect x="1961.10" y="1110.30" width="47.08" height="47.00" fill="#f5fafe"/>
<rect x="2008.18" y="1110.30" width="47.08" height="47.00" fill="#f9c9cb"/>
<rect x="2055.26" y="1110.30" width="47.08" height="47.00" fill="#f5fafe"/>
<rect x="2102.34" y="1110.30" width="47.08" height="47.00" fill="#fbdbdc"/>
<rect x="1725.70" y="1157.30" width="47.08" height="47.00" fill="#b64e53"/>
<rect x="1819.86" y="1157.30" width="47.08" height="47.00" fill="#f6b0b4"/>
<rect x="1866.94" y="1157.30" width="47.08" height="47.00" fill="#fef6f6"/>
<rect x="1914.02" y="1157.30" width="47.08" height="47.00" fill="#fef6f6"/>
<rect x="1961.10" y="1157.30" width="47.08" height="47.00" fill="#fef6f6"/>
<rect x="2008.18" y="1157.30" width="47.08" height="47.00" fill="#f1868b"/>
<rect x="1725.70" y="1204.30" width="47.08" height="47.00" fill="#e8656b"/>
<rect x="1772.78" y="1204.30" width="47.08" height="47.00" fill="#e1effb"/>
<rect x="1819.86" y="1204.30" width="47.08" height="47.00" fill="#f9ccce"/>
<rect x="1866.94" y="1204.30" width="47.08" height="47.00" fill="#fdedee"/>
<rect x="1914.02" y="1204.30" width="47.08" height="47.00" fill="#fbd8d9"/>
<rect x="1961.10" y="1204.30" width="47.08" height="47.00" fill="#d1e7f9"/>
<rect x="2008.18" y="1204.30" width="47.08" height="47.00" fill="#fce7e8"/>
<rect x="2102.34" y="1204.30" width="47.08" height="47.00" fill="#f5a4a8"/>
<rect x="1725.70" y="1251.30" width="47.08" height="47.00" fill="#b64e53"/>
<rect x="1819.86" y="1251.30" width="47.08" height="47.00" fill="#eef6fd"/>
<rect x="1961.10" y="1251.30" width="47.08" height="47.00" fill="#fad5d6"/>
<rect x="2008.18" y="1251.30" width="47.08" height="47.00" fill="#fce4e5"/>
<rect x="2055.26" y="1251.30" width="47.08" height="47.00" fill="#fef6f6"/>
<rect x="2102.34" y="1251.30" width="47.08" height="47.00" fill="#fef6f6"/>
<rect x="1725.70" y="1298.30" width="47.08" height="47.00" fill="#d65d62"/>
<rect x="1772.78" y="1298.30" width="47.08" height="47.00" fill="#f7babc"/>
<rect x="1914.02" y="1298.30" width="47.08" height="47.00" fill="#f8fcfe"/>
<rect x="1961.10" y="1298.30" width="47.08" height="47.00" fill="#fef6f6"/>
<rect x="2008.18" y="1298.30" width="47.08" height="47.00" fill="#fce7e8"/>
<rect x="2055.26" y="1298.30" width="47.08" height="47.00" fill="#fef6f6"/>
<rect x="2102.34" y="1298.30" width="47.08" height="47.00" fill="#fdeaeb"/>
<rect x="1725.70" y="1345.30" width="47.08" height="47.00" fill="#8a393d"/>
<rect x="1772.78" y="1345.30" width="47.08" height="47.00" fill="#f8fcfe"/>
<rect x="1819.86" y="1345.30" width="47.08" height="47.00" fill="#fdeaeb"/>
<rect x="1914.02" y="1345.30" width="47.08" height="47.00" fill="#ebf5fc"/>
<rect x="1961.10" y="1345.30" width="47.08" height="47.00" fill="#e5f1fc"/>
<rect x="2008.18" y="1345.30" width="47.08" height="47.00" fill="#fef9f9"/>
<rect x="2055.26" y="1345.30" width="47.08" height="47.00" fill="#f5fafe"/>
<rect x="1725.70" y="1392.30" width="47.08" height="47.00" fill="#de6066"/>
<rect x="1772.78" y="1392.30" width="47.08" height="47.00" fill="#ebf5fc"/>
<rect x="1819.86" y="1392.30" width="47.08" height="47.00" fill="#f7b7b9"/>
<rect x="1866.94" y="1392.30" width="47.08" height="47.00" fill="#fdedee"/>
<rect x="1961.10" y="1392.30" width="47.08" height="47.00" fill="#f5fafe"/>
<rect x="2008.18" y="1392.30" width="47.08" height="47.00" fill="#fdf0f0"/>
<rect x="1725.70" y="1439.30" width="47.08" height="47.00" fill="#f0777c"/>
<rect x="1772.78" y="1439.30" width="47.08" height="47.00" fill="#f8fcfe"/>
<rect x="1866.94" y="1439.30" width="47.08" height="47.00" fill="#fce1e2"/>
<rect x="1914.02" y="1439.30" width="47.08" height="47.00" fill="#f8fcfe"/>
<rect x="1961.10" y="1439.30" width="47.08" height="47.00" fill="#f7b7b9"/>
<rect x="2055.26" y="1439.30" width="47.08" height="47.00" fill="#fce4e5"/>
<rect x="2102.34" y="1439.30" width="47.08" height="47.00" fill="#f8fcfe"/>
</g>
<text x="1709.1" y="766.1" text-anchor="end"  letter-spacing="0.36">SNV burden</text>
<text x="1749.2" y="772.9" text-anchor="middle" font-size="26" letter-spacing="0">****</text>
<text x="1843.4" y="772.9" text-anchor="middle" font-size="26" letter-spacing="0">****</text>
<text x="1890.5" y="772.9" text-anchor="middle" font-size="26" letter-spacing="0">****</text>
<text x="2031.7" y="772.9" text-anchor="middle" font-size="26" letter-spacing="0">**</text>
<text x="1709.1" y="813.1" text-anchor="end"  letter-spacing="0.47">Signature A burden</text>
<text x="1749.2" y="819.9" text-anchor="middle" font-size="26" letter-spacing="0">****</text>
<rect x="1794.3" y="805.7" width="4" height="3.2" fill="#000"/>
<text x="1843.4" y="819.9" text-anchor="middle" font-size="26" letter-spacing="0">****</text>
<text x="2031.7" y="819.9" text-anchor="middle" font-size="26" letter-spacing="0">***</text>
<text x="1709.1" y="860.1" text-anchor="end"  letter-spacing="0.47">Signature B burden</text>
<text x="1843.4" y="866.9" text-anchor="middle" font-size="26" letter-spacing="0">****</text>
<text x="1890.5" y="866.9" text-anchor="middle" font-size="26" letter-spacing="0">****</text>
<text x="1709.1" y="907.1" text-anchor="end"  letter-spacing="0.5">Indel burden</text>
<text x="1749.2" y="913.9" text-anchor="middle" font-size="26" letter-spacing="0">****</text>
<text x="1709.1" y="954.1" text-anchor="end"  letter-spacing="0.54">Dinucleotide burden</text>
<text x="1749.2" y="960.9" text-anchor="middle" font-size="26" letter-spacing="0">***</text>
<text x="1843.4" y="960.9" text-anchor="middle" font-size="26" letter-spacing="0">**</text>
<rect x="1935.6" y="946.7" width="4" height="3.2" fill="#000"/>
<rect x="2029.7" y="946.7" width="4" height="3.2" fill="#000"/>
<text x="1709.1" y="1001.1" text-anchor="end"  letter-spacing="0.53">Aggregate drivers</text>
<text x="1749.2" y="1007.9" text-anchor="middle" font-size="26" letter-spacing="0">****</text>
<text x="1843.4" y="1007.9" text-anchor="middle" font-size="26" letter-spacing="0">****</text>
<text x="2031.7" y="1007.9" text-anchor="middle" font-size="26" letter-spacing="0">***</text>
<rect x="2123.9" y="993.7" width="4" height="3.2" fill="#000"/>
<text x="1709.1" y="1048.1" text-anchor="end" font-style="italic" >NOTCH1</text>
<text x="1749.2" y="1054.9" text-anchor="middle" font-size="26" letter-spacing="0">****</text>
<text x="1843.4" y="1054.9" text-anchor="middle" font-size="26" letter-spacing="0">****</text>
<text x="2031.7" y="1054.9" text-anchor="middle" font-size="26" letter-spacing="0">*</text>
<text x="1709.1" y="1095.1" text-anchor="end" font-style="italic" >TP53</text>
<text x="1749.2" y="1101.9" text-anchor="middle" font-size="26" letter-spacing="0">****</text>
<text x="1843.4" y="1101.9" text-anchor="middle" font-size="26" letter-spacing="0">*</text>
<text x="2031.7" y="1101.9" text-anchor="middle" font-size="26" letter-spacing="0">*</text>
<text x="1709.1" y="1142.1" text-anchor="end" font-style="italic" >FAT1</text>
<text x="1749.2" y="1148.9" text-anchor="middle" font-size="26" letter-spacing="0">****</text>
<rect x="2029.7" y="1134.7" width="4" height="3.2" fill="#000"/>
<text x="1709.1" y="1189.1" text-anchor="end" font-style="italic" >CHEK2</text>
<text x="1749.2" y="1195.9" text-anchor="middle" font-size="26" letter-spacing="0">****</text>
<text x="1843.4" y="1195.9" text-anchor="middle" font-size="26" letter-spacing="0">*</text>
<text x="2031.7" y="1195.9" text-anchor="middle" font-size="26" letter-spacing="0">**</text>
<text x="1709.1" y="1236.1" text-anchor="end" font-style="italic" >PPM1D</text>
<text x="1749.2" y="1242.9" text-anchor="middle" font-size="26" letter-spacing="0">****</text>
<rect x="1841.4" y="1228.7" width="4" height="3.2" fill="#000"/>
<text x="2125.9" y="1242.9" text-anchor="middle" font-size="26" letter-spacing="0">**</text>
<text x="1709.1" y="1283.1" text-anchor="end" font-style="italic" >ASXL1</text>
<text x="1749.2" y="1289.9" text-anchor="middle" font-size="26" letter-spacing="0">****</text>
<rect x="1982.6" y="1275.7" width="4" height="3.2" fill="#000"/>
<text x="1709.1" y="1330.1" text-anchor="end" font-style="italic" >NOTCH2</text>
<text x="1749.2" y="1336.9" text-anchor="middle" font-size="26" letter-spacing="0">****</text>
<text x="1796.3" y="1336.9" text-anchor="middle" font-size="26" letter-spacing="0">*</text>
<text x="1709.1" y="1377.1" text-anchor="end" font-style="italic" >ZFP36L2</text>
<text x="1749.2" y="1383.9" text-anchor="middle" font-size="26" letter-spacing="0">****</text>
<text x="1709.1" y="1424.1" text-anchor="end" font-style="italic" >RAC1</text>
<text x="1749.2" y="1430.9" text-anchor="middle" font-size="26" letter-spacing="0">****</text>
<text x="1843.4" y="1430.9" text-anchor="middle" font-size="26" letter-spacing="0">*</text>
<text x="1709.1" y="1471.1" text-anchor="end" font-style="italic" >BCORL1</text>
<text x="1749.2" y="1477.9" text-anchor="middle" font-size="26" letter-spacing="0">***</text>
<text x="1984.6" y="1477.9" text-anchor="middle" font-size="26" letter-spacing="0">*</text>
<line x1="1725.3" y1="576.2" x2="1725.3" y2="722.7" stroke="#1a1a1a" stroke-width="1.3" />
<line x1="1496.0" y1="734.3" x2="1713.1" y2="734.3" stroke="#1a1a1a" stroke-width="1.3" />
<text x="1494.9" y="722.0"  letter-spacing="0.12">Outcome variables</text>
<text x="1693.3" y="578.0" text-anchor="end" transform="rotate(-90 1693.3 578.0)"  letter-spacing="0.48">Joint</text>
<text x="1717.8" y="578.0" text-anchor="end" transform="rotate(-90 1717.8 578.0)"  letter-spacing="0.15">predictors</text>
<text x="1754.4" y="717.0" transform="rotate(-90 1754.4 717.0)"  letter-spacing="0.4">Age</text>
<text x="1801.5" y="717.0" transform="rotate(-90 1801.5 717.0)" >Sex (M)</text>
<text x="1848.6" y="717.0" transform="rotate(-90 1848.6 717.0)"  letter-spacing="0.48">Pack years</text>
<text x="1895.7" y="717.0" transform="rotate(-90 1895.7 717.0)"  letter-spacing="0.49">Drink years</text>
<text x="1942.8" y="717.0" transform="rotate(-90 1942.8 717.0)" >T2D</text>
<text x="1989.8" y="717.0" transform="rotate(-90 1989.8 717.0)" >BMI</text>
<text x="2036.9" y="717.0" transform="rotate(-90 2036.9 717.0)"  letter-spacing="0.51">Missing teeth</text>
<text x="2084.0" y="717.0" transform="rotate(-90 2084.0 717.0)"  letter-spacing="0.3">IPAQ score</text>
<text x="2131.1" y="717.0" transform="rotate(-90 2131.1 717.0)"  letter-spacing="0.51">Cancer history</text>
<defs><linearGradient id="cb" x1="0" x2="1" y1="0" y2="0"><stop offset="0" stop-color="#3b6591"/><stop offset="0.25" stop-color="#5aa8ea"/><stop offset="0.5" stop-color="#ffffff"/><stop offset="0.75" stop-color="#ee686e"/><stop offset="1" stop-color="#8a393d"/></linearGradient></defs>
<rect x="1874" y="1515.1" width="274.7" height="16.2" fill="url(#cb)"/>
<line x1="1874.4" y1="1531.3" x2="1874.4" y2="1538.2" stroke="#1a1a1a" stroke-width="1.2" />
<text x="1874.4" y="1561.9" text-anchor="middle" >–10</text>
<line x1="1942.8" y1="1531.3" x2="1942.8" y2="1538.2" stroke="#1a1a1a" stroke-width="1.2" />
<text x="1942.8" y="1561.9" text-anchor="middle" >–5</text>
<line x1="2011.2" y1="1531.3" x2="2011.2" y2="1538.2" stroke="#1a1a1a" stroke-width="1.2" />
<text x="2011.2" y="1561.9" text-anchor="middle" >0</text>
<line x1="2079.6" y1="1531.3" x2="2079.6" y2="1538.2" stroke="#1a1a1a" stroke-width="1.2" />
<text x="2079.6" y="1561.9" text-anchor="middle" >5</text>
<line x1="2148.0" y1="1531.3" x2="2148.0" y2="1538.2" stroke="#1a1a1a" stroke-width="1.2" />
<text x="2148.0" y="1561.9" text-anchor="middle" >10</text>
<text x="1738.0" y="1523.7" text-anchor="middle"  letter-spacing="0.2">–log<tspan font-size="12.5" dy="4.5">10</tspan><tspan dy="-4.5">(</tspan><tspan font-style="italic">P</tspan>) with sign</text>
<text x="1738.0" y="1548.2" text-anchor="middle"  letter-spacing="0.25">showing direction of effect</text>
<text transform="translate(1.0 1620.8) scale(1.16 1)" font-size="29" font-weight="bold" stroke="#000" stroke-width="0.7">f</text>
<rect x="178.5" y="1786.9" width="39.8" height="177.6" fill="#999999"/>
<rect x="226.2" y="1769.6" width="39.8" height="194.9" fill="#999999"/>
<rect x="273.8" y="1728.5" width="40.2" height="236.0" fill="#999999"/>
<line x1="173.0" y1="1698.8" x2="173.0" y2="1965.2" stroke="#1a1a1a" stroke-width="1.4" />
<line x1="167.4" y1="1964.5" x2="314.0" y2="1964.5" stroke="#1a1a1a" stroke-width="1.4" />
<line x1="165.2" y1="1699.5" x2="173.0" y2="1699.5" stroke="#1a1a1a" stroke-width="1.4" />
<text x="159.3" y="1706.7" text-anchor="end" font-size="20.6" >2,000</text>
<line x1="165.2" y1="1765.7" x2="173.0" y2="1765.7" stroke="#1a1a1a" stroke-width="1.4" />
<text x="159.3" y="1772.9" text-anchor="end" font-size="20.6" >1,500</text>
<line x1="165.2" y1="1832.0" x2="173.0" y2="1832.0" stroke="#1a1a1a" stroke-width="1.4" />
<text x="159.3" y="1839.2" text-anchor="end" font-size="20.6" >1,000</text>
<line x1="165.2" y1="1898.2" x2="173.0" y2="1898.2" stroke="#1a1a1a" stroke-width="1.4" />
<text x="159.3" y="1905.4" text-anchor="end" font-size="20.6" >500</text>
<line x1="165.2" y1="1964.5" x2="173.0" y2="1964.5" stroke="#1a1a1a" stroke-width="1.4" />
<text x="159.3" y="1971.7" text-anchor="end" font-size="20.6" >0</text>
<line x1="198.4" y1="1782.3" x2="198.4" y2="1791.5" stroke="#000" stroke-width="2.4" />
<line x1="198.4" y1="1964.5" x2="198.4" y2="1972.0" stroke="#1a1a1a" stroke-width="1.4" />
<text x="204.5" y="1983.2" text-anchor="end" font-size="20.6" transform="rotate(-90 204.5 1983.2)"  letter-spacing="0.27">Never</text>
<line x1="246.1" y1="1763.4" x2="246.1" y2="1776.1" stroke="#000" stroke-width="2.4" />
<line x1="246.1" y1="1964.5" x2="246.1" y2="1972.0" stroke="#1a1a1a" stroke-width="1.4" />
<text x="251.5" y="1983.2" text-anchor="end" font-size="20.6" transform="rotate(-90 251.5 1983.2)"  letter-spacing="0.32">Moderate</text>
<line x1="293.7" y1="1700.1" x2="293.7" y2="1756.6" stroke="#000" stroke-width="2.4" />
<line x1="293.7" y1="1964.5" x2="293.7" y2="1972.0" stroke="#1a1a1a" stroke-width="1.4" />
<text x="296.9" y="1983.2" text-anchor="end" font-size="20.6" transform="rotate(-90 296.9 1983.2)"  letter-spacing="0.27">Heavy</text>
<text x="58.6" y="1832.0" text-anchor="middle" font-size="20.6" transform="rotate(-90 58.6 1832.0)"  letter-spacing="0.15">Mean SNV burden</text>
<text x="84.2" y="1832.0" text-anchor="middle" font-size="20.6" transform="rotate(-90 84.2 1832.0)"  letter-spacing="0.19">(per diploid cell equivalent)</text>
<text x="85.5" y="2027.1" font-size="20.6"  letter-spacing="0.3">Smoking</text>
<rect x="446.8" y="1850.2" width="39.8" height="114.3" fill="#5f9ea0"/>
<rect x="494.5" y="1848.0" width="39.8" height="116.5" fill="#5f9ea0"/>
<rect x="542.1" y="1765.4" width="40.1" height="199.1" fill="#5f9ea0"/>
<line x1="441.6" y1="1687.7" x2="441.6" y2="1965.2" stroke="#1a1a1a" stroke-width="1.4" />
<line x1="435.7" y1="1964.5" x2="582.2" y2="1964.5" stroke="#1a1a1a" stroke-width="1.4" />
<line x1="433.8" y1="1688.4" x2="441.6" y2="1688.4" stroke="#1a1a1a" stroke-width="1.4" />
<text x="426.9" y="1695.6" text-anchor="end" font-size="20.6" >25</text>
<line x1="433.8" y1="1743.8" x2="441.6" y2="1743.8" stroke="#1a1a1a" stroke-width="1.4" />
<text x="426.9" y="1751.0" text-anchor="end" font-size="20.6" >20</text>
<line x1="433.8" y1="1799.0" x2="441.6" y2="1799.0" stroke="#1a1a1a" stroke-width="1.4" />
<text x="426.9" y="1806.2" text-anchor="end" font-size="20.6" >15</text>
<line x1="433.8" y1="1854.2" x2="441.6" y2="1854.2" stroke="#1a1a1a" stroke-width="1.4" />
<text x="426.9" y="1861.4" text-anchor="end" font-size="20.6" >10</text>
<line x1="433.8" y1="1909.3" x2="441.6" y2="1909.3" stroke="#1a1a1a" stroke-width="1.4" />
<text x="426.9" y="1916.5" text-anchor="end" font-size="20.6" >5</text>
<line x1="433.8" y1="1964.5" x2="441.6" y2="1964.5" stroke="#1a1a1a" stroke-width="1.4" />
<text x="426.9" y="1971.7" text-anchor="end" font-size="20.6" >0</text>
<line x1="466.7" y1="1835.5" x2="466.7" y2="1863.3" stroke="#000" stroke-width="2.4" />
<line x1="466.7" y1="1964.5" x2="466.7" y2="1972.0" stroke="#1a1a1a" stroke-width="1.4" />
<text x="470.3" y="1983.2" text-anchor="end" font-size="20.6" transform="rotate(-90 470.3 1983.2)"  letter-spacing="0.27">Never</text>
<line x1="514.4" y1="1828.7" x2="514.4" y2="1863.9" stroke="#000" stroke-width="2.4" />
<line x1="514.4" y1="1964.5" x2="514.4" y2="1972.0" stroke="#1a1a1a" stroke-width="1.4" />
<text x="518.0" y="1983.2" text-anchor="end" font-size="20.6" transform="rotate(-90 518.0 1983.2)"  letter-spacing="0.32">Moderate</text>
<line x1="562.0" y1="1673.7" x2="562.0" y2="1823.8" stroke="#000" stroke-width="2.4" />
<line x1="562.0" y1="1964.5" x2="562.0" y2="1972.0" stroke="#1a1a1a" stroke-width="1.4" />
<text x="564.7" y="1983.2" text-anchor="end" font-size="20.6" transform="rotate(-90 564.7 1983.2)"  letter-spacing="0.27">Heavy</text>
<text x="510.1" y="1628.2" text-anchor="middle" font-size="20.6" ><tspan font-style="italic">NOTCH1</tspan></text>
<text x="510.1" y="1656.3" text-anchor="middle" font-size="20.6"  letter-spacing="0.32">Missense</text>
<text x="381.9" y="1826.4" text-anchor="middle" font-size="20.6" transform="rotate(-90 381.9 1826.4)"  letter-spacing="0.19">dN/dS ratios</text>
<rect x="670.0" y="1868.8" width="39.9" height="95.7" fill="#68228b"/>
<rect x="717.8" y="1859.5" width="40.0" height="105.0" fill="#68228b"/>
<rect x="765.3" y="1768.1" width="40.0" height="196.4" fill="#68228b"/>
<line x1="665.0" y1="1706.0" x2="665.0" y2="1965.2" stroke="#1a1a1a" stroke-width="1.4" />
<line x1="658.9" y1="1964.5" x2="805.3" y2="1964.5" stroke="#1a1a1a" stroke-width="1.4" />
<line x1="657.2" y1="1706.7" x2="665.0" y2="1706.7" stroke="#1a1a1a" stroke-width="1.4" />
<text x="649.3" y="1713.9" text-anchor="end" font-size="20.6" >150</text>
<line x1="657.2" y1="1792.8" x2="665.0" y2="1792.8" stroke="#1a1a1a" stroke-width="1.4" />
<text x="649.3" y="1800.0" text-anchor="end" font-size="20.6" >100</text>
<line x1="657.2" y1="1878.4" x2="665.0" y2="1878.4" stroke="#1a1a1a" stroke-width="1.4" />
<text x="649.3" y="1885.6" text-anchor="end" font-size="20.6" >50</text>
<line x1="657.2" y1="1964.5" x2="665.0" y2="1964.5" stroke="#1a1a1a" stroke-width="1.4" />
<text x="649.3" y="1971.7" text-anchor="end" font-size="20.6" >0</text>
<line x1="690.0" y1="1855.9" x2="690.0" y2="1880.6" stroke="#000" stroke-width="2.4" />
<line x1="690.0" y1="1964.5" x2="690.0" y2="1972.0" stroke="#1a1a1a" stroke-width="1.4" />
<text x="697.5" y="1983.2" text-anchor="end" font-size="20.6" transform="rotate(-90 697.5 1983.2)"  letter-spacing="0.27">Never</text>
<line x1="737.8" y1="1842.4" x2="737.8" y2="1874.9" stroke="#000" stroke-width="2.4" />
<line x1="737.8" y1="1964.5" x2="737.8" y2="1972.0" stroke="#1a1a1a" stroke-width="1.4" />
<text x="743.8" y="1983.2" text-anchor="end" font-size="20.6" transform="rotate(-90 743.8 1983.2)"  letter-spacing="0.32">Moderate</text>
<line x1="785.3" y1="1673.9" x2="785.3" y2="1828.1" stroke="#000" stroke-width="2.4" />
<line x1="785.3" y1="1964.5" x2="785.3" y2="1972.0" stroke="#1a1a1a" stroke-width="1.4" />
<text x="790.1" y="1983.2" text-anchor="end" font-size="20.6" transform="rotate(-90 790.1 1983.2)"  letter-spacing="0.27">Heavy</text>
<text x="734.9" y="1628.2" text-anchor="middle" font-size="20.6" ><tspan font-style="italic">NOTCH1</tspan></text>
<text x="734.9" y="1656.3" text-anchor="middle" font-size="20.6"  letter-spacing="0.33">Truncating</text>
<rect x="887.4" y="1848.4" width="39.9" height="116.1" fill="#5f9ea0"/>
<rect x="934.8" y="1811.3" width="40.0" height="153.2" fill="#5f9ea0"/>
<rect x="982.3" y="1774.9" width="40.3" height="189.6" fill="#5f9ea0"/>
<line x1="882.7" y1="1722.1" x2="882.7" y2="1965.2" stroke="#1a1a1a" stroke-width="1.4" />
<line x1="876.6" y1="1964.5" x2="1022.6" y2="1964.5" stroke="#1a1a1a" stroke-width="1.4" />
<line x1="874.9" y1="1722.8" x2="882.7" y2="1722.8" stroke="#1a1a1a" stroke-width="1.4" />
<text x="867.0" y="1730.0" text-anchor="end" font-size="20.6" >40</text>
<line x1="874.9" y1="1783.1" x2="882.7" y2="1783.1" stroke="#1a1a1a" stroke-width="1.4" />
<text x="867.0" y="1790.3" text-anchor="end" font-size="20.6" >30</text>
<line x1="874.9" y1="1843.4" x2="882.7" y2="1843.4" stroke="#1a1a1a" stroke-width="1.4" />
<text x="867.0" y="1850.6" text-anchor="end" font-size="20.6" >20</text>
<line x1="874.9" y1="1903.8" x2="882.7" y2="1903.8" stroke="#1a1a1a" stroke-width="1.4" />
<text x="867.0" y="1911.0" text-anchor="end" font-size="20.6" >10</text>
<line x1="874.9" y1="1964.5" x2="882.7" y2="1964.5" stroke="#1a1a1a" stroke-width="1.4" />
<text x="867.0" y="1971.7" text-anchor="end" font-size="20.6" >0</text>
<line x1="907.3" y1="1820.2" x2="907.3" y2="1870.6" stroke="#000" stroke-width="2.4" />
<line x1="907.3" y1="1964.5" x2="907.3" y2="1972.0" stroke="#1a1a1a" stroke-width="1.4" />
<text x="913.3" y="1983.2" text-anchor="end" font-size="20.6" transform="rotate(-90 913.3 1983.2)"  letter-spacing="0.27">Never</text>
<line x1="954.8" y1="1763.5" x2="954.8" y2="1845.6" stroke="#000" stroke-width="2.4" />
<line x1="954.8" y1="1964.5" x2="954.8" y2="1972.0" stroke="#1a1a1a" stroke-width="1.4" />
<text x="960.8" y="1983.2" text-anchor="end" font-size="20.6" transform="rotate(-90 960.8 1983.2)"  letter-spacing="0.32">Moderate</text>
<line x1="1002.7" y1="1673.9" x2="1002.7" y2="1836.3" stroke="#000" stroke-width="2.4" />
<line x1="1002.7" y1="1964.5" x2="1002.7" y2="1972.0" stroke="#1a1a1a" stroke-width="1.4" />
<text x="1006.2" y="1983.2" text-anchor="end" font-size="20.6" transform="rotate(-90 1006.2 1983.2)"  letter-spacing="0.27">Heavy</text>
<text x="952.0" y="1628.2" text-anchor="middle" font-size="20.6" ><tspan font-style="italic">TP53</tspan></text>
<text x="952.0" y="1656.3" text-anchor="middle" font-size="20.6"  letter-spacing="0.32">Missense</text>
<rect x="1104.4" y="1853.4" width="40.0" height="111.1" fill="#68228b"/>
<rect x="1152.2" y="1814.2" width="40.0" height="150.3" fill="#68228b"/>
<rect x="1199.7" y="1789.2" width="40.0" height="175.3" fill="#68228b"/>
<line x1="1099.0" y1="1675.0" x2="1099.0" y2="1965.2" stroke="#1a1a1a" stroke-width="1.4" />
<line x1="1093.0" y1="1964.5" x2="1239.7" y2="1964.5" stroke="#1a1a1a" stroke-width="1.4" />
<line x1="1091.2" y1="1675.7" x2="1099.0" y2="1675.7" stroke="#1a1a1a" stroke-width="1.4" />
<text x="1084.4" y="1682.9" text-anchor="end" font-size="20.6" >100</text>
<line x1="1091.2" y1="1733.5" x2="1099.0" y2="1733.5" stroke="#1a1a1a" stroke-width="1.4" />
<text x="1084.4" y="1740.7" text-anchor="end" font-size="20.6" >80</text>
<line x1="1091.2" y1="1791.0" x2="1099.0" y2="1791.0" stroke="#1a1a1a" stroke-width="1.4" />
<text x="1084.4" y="1798.2" text-anchor="end" font-size="20.6" >60</text>
<line x1="1091.2" y1="1848.8" x2="1099.0" y2="1848.8" stroke="#1a1a1a" stroke-width="1.4" />
<text x="1084.4" y="1856.0" text-anchor="end" font-size="20.6" >40</text>
<line x1="1091.2" y1="1906.3" x2="1099.0" y2="1906.3" stroke="#1a1a1a" stroke-width="1.4" />
<text x="1084.4" y="1913.5" text-anchor="end" font-size="20.6" >20</text>
<line x1="1091.2" y1="1964.5" x2="1099.0" y2="1964.5" stroke="#1a1a1a" stroke-width="1.4" />
<text x="1084.4" y="1971.7" text-anchor="end" font-size="20.6" >0</text>
<line x1="1124.4" y1="1824.5" x2="1124.4" y2="1875.6" stroke="#000" stroke-width="2.4" />
<line x1="1124.4" y1="1964.5" x2="1124.4" y2="1972.0" stroke="#1a1a1a" stroke-width="1.4" />
<text x="1132.3" y="1983.2" text-anchor="end" font-size="20.6" transform="rotate(-90 1132.3 1983.2)"  letter-spacing="0.27">Never</text>
<line x1="1172.2" y1="1764.2" x2="1172.2" y2="1849.9" stroke="#000" stroke-width="2.4" />
<line x1="1172.2" y1="1964.5" x2="1172.2" y2="1972.0" stroke="#1a1a1a" stroke-width="1.4" />
<text x="1179.1" y="1983.2" text-anchor="end" font-size="20.6" transform="rotate(-90 1179.1 1983.2)"  letter-spacing="0.32">Moderate</text>
<line x1="1220.0" y1="1673.9" x2="1220.0" y2="1858.4" stroke="#000" stroke-width="2.4" />
<line x1="1220.0" y1="1964.5" x2="1220.0" y2="1972.0" stroke="#1a1a1a" stroke-width="1.4" />
<text x="1226.0" y="1983.2" text-anchor="end" font-size="20.6" transform="rotate(-90 1226.0 1983.2)"  letter-spacing="0.27">Heavy</text>
<text x="1169.4" y="1628.2" text-anchor="middle" font-size="20.6" ><tspan font-style="italic">TP53</tspan></text>
<text x="1169.4" y="1656.3" text-anchor="middle" font-size="20.6"  letter-spacing="0.33">Truncating</text>
<text transform="translate(1416.0 1620.0) scale(1.16 1)" font-size="29" font-weight="bold" stroke="#000" stroke-width="0.7">g</text>
<circle cx="1509.1" cy="1706.4" r="85.3" fill="none" stroke="#000" stroke-width="2.7"/>
<circle cx="2065.6" cy="1710" r="85.3" fill="none" stroke="#000" stroke-width="2.7"/>
<circle cx="1508.6" cy="1955" r="85.3" fill="none" stroke="#000" stroke-width="2.7"/>
<circle cx="1748.5" cy="1955" r="85.3" fill="none" stroke="#000" stroke-width="2.7"/>
<circle cx="2065.6" cy="1958.6" r="85.3" fill="none" stroke="#000" stroke-width="2.7"/>
<path d="M1602.9 1700.7H1948.2L1941.2 1691.1L1973.2 1705.1L1941.2 1719.1L1948.2 1709.5H1602.9z" fill="#a4c8c2"/>
<path d="M1602.9 1949.6H1628.0L1621.0 1941.0L1655.0 1954.0L1621.0 1967.0L1628.0 1958.4H1602.9z" fill="#a4c8c2"/>
<path d="M1841.7 1950.4H1949.0L1942.0 1940.8L1974.0 1954.8L1942.0 1968.8L1949.0 1959.2H1841.7z" fill="#a4c8c2"/>
<text x="1768.0" y="1691.0" text-anchor="middle"  letter-spacing="0.51">Predict</text>
<text x="1628.5" y="1934.3" text-anchor="middle"  letter-spacing="0.48">Alter</text>
<text x="1894.2" y="1942.7" text-anchor="middle"  letter-spacing="0.51">Predict</text>
<text x="1907.5" y="2022.5" text-anchor="middle"  letter-spacing="0.5">Case–control</text>
<text x="1907.5" y="2047.3" text-anchor="middle"  letter-spacing="0.53">and cohort studies</text>
<text x="1509.1" y="1675.0" text-anchor="middle"  letter-spacing="0.46">Risk factors,</text>
<text x="1508.3" y="1923.9" text-anchor="middle"  letter-spacing="0.46">Risk factors,</text>
<text x="1509.1" y="1700.0" text-anchor="middle"  letter-spacing="0.54">lifestyle,</text>
<text x="1508.3" y="1948.9" text-anchor="middle"  letter-spacing="0.54">lifestyle,</text>
<text x="1509.1" y="1724.9" text-anchor="middle"  letter-spacing="0.53">exposure,</text>
<text x="1508.3" y="1973.9" text-anchor="middle"  letter-spacing="0.53">exposure,</text>
<text x="1509.1" y="1749.8" text-anchor="middle"  letter-spacing="0.6">genetics</text>
<text x="1508.3" y="1998.9" text-anchor="middle"  letter-spacing="0.6">genetics</text>
<text x="2066.2" y="1703.9" text-anchor="middle"  letter-spacing="0.5">Cancer</text>
<text x="2066.2" y="1728.7" text-anchor="middle"  letter-spacing="0.6">risk</text>
<text x="2066.2" y="1952.0" text-anchor="middle"  letter-spacing="0.5">Cancer</text>
<text x="2066.2" y="1976.8" text-anchor="middle"  letter-spacing="0.6">risk</text>
<text x="1748.3" y="1948.8" text-anchor="middle"  letter-spacing="0.5">Clonal</text>
<text x="1748.3" y="1973.6" text-anchor="middle"  letter-spacing="0.6">landscapes</text>
<path d="M1580 1823.9h10v16.2c4.2 2 6.3 6.5 6.3 12.3v34.5h-22.8v-34.5c0-5.8 2.2-10.300 6.500-12.300z" fill="#000"/>
<rect x="1577.7" y="1856.1" width="10.4" height="18.1" fill="#000" stroke="#fff" stroke-width="2.3"/>
<path d="M1605.4 1848h23.6v14c0 7-5 12-11.800 12s-11.800-5-11.800-12z" fill="#000"/>
<rect x="1616" y="1873" width="2.600" height="12" fill="#000"/><rect x="1609.1" y="1884.1" width="16" height="2.8" fill="#000"/>
<g transform="translate(1643.9 1894.3) rotate(-27.7)"><rect x="0" y="-4.4" width="57.4" height="8.8" fill="#000"/><rect x="3.2" y="-4.4" width="1.300" height="8.8" fill="#fff"/><rect x="6.6" y="-4.4" width="1.300" height="8.8" fill="#fff"/></g>
<path d="M1640.4 1884.700C1640.800 1872 1650.500 1872.500 1651.800 1856.100M1645.600 1884.700C1643.500 1872.500 1658 1872.500 1657.500 1855.700" fill="none" stroke="#000" stroke-width="2.5"/>
<g transform="translate(1617.4 2024.9) rotate(-49.7)"><rect x="-28.6" y="-12.75" width="57.2" height="25.5" rx="12.75" fill="#fff" stroke="#000" stroke-width="4.3"/><path d="M0 -12.75H-15.850A12.750 12.750 0 0 0 -15.850 12.750H0z" fill="#000" stroke="#000" stroke-width="4.3"/></g>
<circle cx="1651.7" cy="2043.4" r="14.3" fill="none" stroke="#000" stroke-width="4.1"/>
<line x1="1642.3" y1="2051.9" x2="1660.5" y2="2034.6" stroke="#000" stroke-width="4"/>
</svg>
</body></html>
